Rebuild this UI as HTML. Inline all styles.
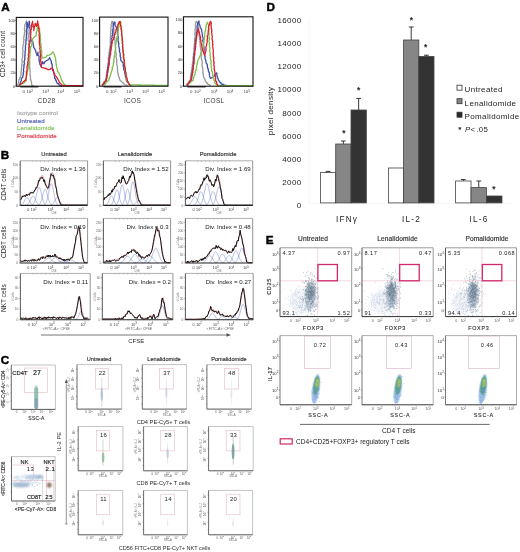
<!DOCTYPE html>
<html><head><meta charset="utf-8"><style>
html,body{margin:0;padding:0;background:#fff;}
svg{display:block;font-family:"Liberation Sans", sans-serif;filter:blur(0.3px);}
</style></head><body>
<svg width="520" height="552" viewBox="0 0 520 552">
<defs><filter id="b5" x="-50%" y="-50%" width="200%" height="200%"><feGaussianBlur stdDeviation="0.5"/></filter><filter id="b8" x="-50%" y="-50%" width="200%" height="200%"><feGaussianBlur stdDeviation="0.8"/></filter></defs>
<text x="1.30" y="10.60" font-size="11.7" font-weight="bold" stroke="#000" stroke-width="0.45">A</text>
<text x="14.90" y="21.80" font-size="4.0" text-anchor="end" fill="#333">100</text>
<line x1="15.10" y1="20.40" x2="16.30" y2="20.40" stroke="#333" stroke-width="0.6"/>
<text x="14.90" y="34.96" font-size="4.0" text-anchor="end" fill="#333">80</text>
<line x1="15.10" y1="33.56" x2="16.30" y2="33.56" stroke="#333" stroke-width="0.6"/>
<text x="14.90" y="48.12" font-size="4.0" text-anchor="end" fill="#333">60</text>
<line x1="15.10" y1="46.72" x2="16.30" y2="46.72" stroke="#333" stroke-width="0.6"/>
<text x="14.90" y="61.28" font-size="4.0" text-anchor="end" fill="#333">40</text>
<line x1="15.10" y1="59.88" x2="16.30" y2="59.88" stroke="#333" stroke-width="0.6"/>
<text x="14.90" y="74.44" font-size="4.0" text-anchor="end" fill="#333">20</text>
<line x1="15.10" y1="73.04" x2="16.30" y2="73.04" stroke="#333" stroke-width="0.6"/>
<text x="14.90" y="87.60" font-size="4.0" text-anchor="end" fill="#333">0</text>
<line x1="15.10" y1="86.20" x2="16.30" y2="86.20" stroke="#333" stroke-width="0.6"/>
<text x="23.64" y="93.40" font-size="4.4" text-anchor="middle" fill="#444">0</text>
<text x="29.64" y="93.40" font-size="4.4" text-anchor="middle" fill="#444">10<tspan dy="-1.76" font-size="3.30">2</tspan></text>
<text x="45.65" y="93.40" font-size="4.4" text-anchor="middle" fill="#444">10<tspan dy="-1.76" font-size="3.30">3</tspan></text>
<text x="60.99" y="93.40" font-size="4.4" text-anchor="middle" fill="#444">10<tspan dy="-1.76" font-size="3.30">4</tspan></text>
<text x="77.00" y="93.40" font-size="4.4" text-anchor="middle" fill="#444">10<tspan dy="-1.76" font-size="3.30">5</tspan></text>
<polyline points="17.66,85.51 17.81,84.27 18.33,83.28 18.53,82.63 18.48,81.83 18.74,80.84 19.05,79.61 19.58,79.36 19.65,77.89 20.29,77.62 20.53,76.21 21.10,74.97 21.30,74.27 20.87,73.21 21.05,72.93 21.03,71.82 21.42,70.72 21.43,69.54 21.16,68.76 21.66,68.06 21.48,67.29 21.64,66.13 21.95,65.58 21.64,64.57 21.90,63.93 22.12,62.50 22.36,61.44 22.04,61.11 21.92,59.96 21.91,59.22 22.49,58.23 22.64,57.09 22.58,56.44 22.57,55.41 22.83,54.94 22.64,53.79 22.42,52.92 22.90,52.27 23.09,50.73 22.86,50.17 22.67,49.08 22.85,47.86 22.85,47.55 22.98,46.17 23.24,45.83 23.10,44.55 23.50,44.04 23.77,43.12 23.47,41.81 23.61,41.33 24.10,39.76 23.63,38.93 23.75,38.26 24.08,37.15 23.75,36.39 24.08,35.62 24.57,34.83 24.34,33.86 24.53,32.45 24.77,32.20 24.83,31.31 24.57,30.05 24.44,29.36 24.49,27.95 24.67,27.13 24.84,26.13 24.68,25.31 24.83,24.60 25.12,24.20 25.87,22.68 25.96,21.99 26.37,20.93 26.91,22.60 26.83,23.03 26.76,23.57 27.13,24.61 27.67,25.40 27.30,27.00 27.84,27.17 27.90,27.98 27.93,29.76 28.21,30.42 27.84,31.05 27.82,32.33 28.12,33.26 28.02,33.68 28.40,35.29 28.48,36.05 28.50,36.91 28.13,37.63 28.26,38.11 28.08,39.26 28.29,40.55 28.82,41.25 28.85,42.66 28.91,43.02 28.44,43.82 28.47,44.72 28.81,46.27 29.01,46.81 28.92,48.02 28.57,48.81 29.19,49.84 29.13,50.49 28.77,51.69 28.93,52.62 29.42,53.18 29.06,54.60 29.34,54.82 28.97,55.71 29.57,57.20 29.09,58.12 29.72,58.87 29.34,59.68 29.23,60.10 29.87,61.57 29.61,62.73 29.60,63.58 29.93,63.89 29.58,64.87 29.62,66.03 29.69,66.79 29.65,68.13 29.86,68.63 30.07,69.93 30.01,70.85 30.12,71.40 30.19,71.85 30.18,72.90 29.93,74.35 30.10,74.96 30.54,75.94 30.31,76.81 30.52,77.95 30.26,78.66 30.55,79.39 31.11,80.58 31.16,81.80 31.60,82.50 31.58,83.54 31.71,84.70 31.89,85.51 32.91,85.79 33.92,86.06" fill="none" stroke="#9a9a9a" stroke-width="1.3" stroke-linejoin="round"/>
<polyline points="19.01,85.51 19.35,84.66 19.74,84.15 20.26,83.21 20.80,81.78 20.90,81.51 21.47,79.91 21.33,79.30 21.67,78.24 22.04,77.75 22.91,77.08 22.84,76.03 23.28,74.62 23.52,74.46 23.15,73.54 23.36,72.22 23.86,71.63 23.37,70.37 23.71,69.39 23.57,68.47 24.03,67.30 24.00,66.78 23.71,65.78 24.23,65.04 23.92,64.56 24.52,63.65 24.13,62.11 24.17,61.67 24.42,60.19 24.62,59.99 24.98,58.50 24.60,58.20 24.98,57.10 24.74,55.62 25.24,55.05 24.87,54.61 25.32,53.59 25.00,52.73 25.04,51.84 25.37,50.47 25.50,50.09 25.36,48.47 25.60,47.67 25.37,46.70 25.39,45.84 25.63,45.03 26.00,44.11 25.88,43.11 25.83,42.07 25.82,41.16 26.22,40.75 25.90,39.78 26.48,38.54 26.46,37.94 26.29,37.40 26.27,36.20 26.54,35.73 26.36,34.69 26.66,33.56 26.51,32.34 26.31,31.19 26.38,30.78 26.56,29.31 26.49,28.96 27.09,27.85 26.73,26.51 26.79,25.75 26.75,24.78 26.88,24.29 27.42,22.96 26.97,22.38 27.19,22.75 27.16,23.69 27.67,24.72 27.66,25.65 27.70,26.35 27.94,27.39 28.07,26.02 28.41,25.17 28.76,24.40 29.04,23.48 29.17,22.65 29.10,21.11 29.63,21.99 29.56,23.47 29.20,24.68 29.91,25.53 29.91,26.73 29.60,27.51 29.93,28.71 30.21,29.62 30.13,30.60 30.27,31.34 30.03,31.67 30.03,32.89 30.09,34.23 30.48,34.97 30.60,35.94 30.57,36.25 30.86,37.84 30.73,38.57 30.91,39.07 31.03,40.16 30.64,41.09 32.73,41.04 32.93,42.72 32.95,43.17 33.13,44.43 33.53,45.35 33.64,45.85 33.48,47.00 34.09,48.03 34.65,48.46 34.97,49.38 35.63,50.68 35.85,51.24 35.97,52.32 36.16,52.93 36.68,53.92 36.97,55.51 36.75,54.16 37.76,53.69 37.96,52.14 37.94,53.67 38.09,54.27 38.19,55.14 38.91,55.71 38.97,56.97 39.17,58.06 38.86,59.16 39.19,59.29 39.00,60.63 39.54,61.38 39.55,62.34 39.90,63.71 39.90,64.55 40.71,64.90 41.00,66.36 41.39,65.15 41.43,64.41 42.27,63.76 42.23,62.79 42.58,61.62 43.14,63.02 43.94,63.80 44.59,62.27 45.46,61.28 46.04,61.05 47.41,60.23 48.25,59.63 49.15,58.61 49.67,57.47 50.13,58.76 50.60,59.85 50.72,60.24 51.39,61.23 51.30,62.34 51.41,63.62 52.11,64.11 52.11,65.07 52.27,66.07 52.22,66.78 52.47,68.38 52.90,68.68 53.41,70.30 53.32,70.45 53.37,71.33 53.66,72.31 53.79,73.45 54.21,75.00 54.53,75.56 54.49,76.65 54.66,77.47 54.63,78.40 55.67,79.09 55.75,80.38 56.41,80.83 56.40,81.69 56.90,82.70 57.97,83.75 58.59,83.70 59.00,84.82 59.68,85.51 60.59,85.69 61.49,85.88 62.39,86.06" fill="none" stroke="#3d4fa8" stroke-width="1.3" stroke-linejoin="round"/>
<polyline points="19.01,85.51 19.86,84.99 20.38,84.66 21.83,83.93 22.46,82.99 23.17,83.30 24.32,82.72 25.27,81.66 25.52,81.05 25.96,80.63 26.42,79.78 26.37,78.92 26.40,77.84 26.26,77.15 26.56,76.38 27.01,74.93 26.81,73.99 27.32,73.50 27.11,72.04 27.56,71.61 27.63,70.39 27.93,69.30 27.88,68.81 28.50,68.09 28.61,67.04 28.32,65.94 28.94,65.43 28.59,63.90 28.84,63.56 28.90,62.27 29.18,61.95 28.99,60.22 29.18,59.65 29.53,58.53 29.73,58.09 29.63,56.69 30.07,55.87 30.08,54.87 29.77,54.43 29.94,53.68 30.19,52.07 30.12,51.36 30.54,50.91 30.29,49.49 30.54,49.05 30.69,47.25 30.84,46.59 31.63,46.07 31.71,45.20 32.06,43.63 31.74,43.21 32.33,41.43 32.48,40.78 32.48,39.77 32.79,38.55 33.32,37.94 34.24,36.82 35.27,36.20 35.86,36.06 36.35,34.79 35.98,33.91 36.38,33.39 36.42,31.97 37.08,30.75 36.91,30.53 37.33,28.91 36.99,28.01 37.78,27.27 37.83,26.92 37.71,25.44 38.31,24.83 38.16,25.95 38.54,26.59 38.66,28.06 39.64,28.99 39.76,29.39 39.37,30.76 39.98,32.14 39.68,32.47 39.82,33.64 40.27,34.32 40.29,35.78 40.41,36.76 40.36,37.32 40.26,38.31 40.69,39.01 40.39,40.57 40.53,40.91 40.45,42.27 40.73,43.57 41.20,44.50 40.84,44.61 40.80,45.90 41.30,46.78 41.04,47.67 41.39,48.83 41.55,49.90 41.57,50.17 41.77,51.25 41.65,52.24 41.85,53.00 41.58,53.97 41.59,55.46 41.96,55.88 41.91,57.40 42.06,57.64 43.29,58.02 44.44,57.52 45.09,57.48 46.36,56.87 46.71,55.85 47.67,55.30 49.17,55.19 50.04,54.54 50.90,54.15 51.38,53.98 52.54,52.34 52.97,51.77 53.38,52.58 54.01,53.47 54.31,54.74 54.82,55.31 54.60,56.34 55.29,57.13 55.26,58.07 55.82,59.30 55.44,59.87 55.81,61.24 56.12,61.79 55.92,63.30 56.23,63.90 56.29,65.47 56.43,66.09 56.60,66.92 57.09,68.41 56.88,68.66 57.54,69.49 57.44,70.95 58.14,71.71 58.53,72.59 58.98,72.77 59.12,74.04 60.01,75.29 60.07,75.95 60.61,76.88 60.79,77.72 61.39,79.33 61.44,79.97 62.34,81.23 62.32,81.30 63.25,82.90 63.33,82.90 64.05,84.03 64.94,84.70 65.56,85.05 66.46,85.51 67.38,85.53 68.30,85.56 69.22,85.58 70.14,85.60 71.05,85.62 71.97,85.65 72.89,85.67 73.81,85.69 74.73,85.72 75.65,85.74 76.57,85.76 77.49,85.79 78.41,85.81 79.32,85.83 80.24,85.85 81.16,85.88 82.08,85.90 83.00,85.92" fill="none" stroke="#7fc050" stroke-width="1.3" stroke-linejoin="round"/>
<polyline points="19.01,85.51 19.76,84.90 20.74,83.98 21.47,83.42 21.96,83.36 23.01,82.15 23.33,81.73 24.30,81.11 24.77,80.37 25.95,80.34 25.57,79.14 26.17,77.77 26.33,76.95 26.27,76.44 26.39,75.32 26.34,74.67 26.45,73.84 26.57,72.74 26.37,72.01 26.80,70.76 27.09,70.36 26.98,68.92 27.09,67.96 26.95,67.35 27.03,66.46 27.42,65.20 27.61,64.34 27.78,64.07 27.73,62.52 27.83,61.91 28.23,60.77 28.25,60.63 28.26,59.54 27.97,58.77 28.27,57.83 28.66,56.20 28.66,55.96 28.24,54.52 28.82,53.43 29.00,52.61 29.04,51.57 28.91,51.35 28.79,49.84 29.09,48.97 28.85,47.92 29.03,47.68 29.49,46.72 29.22,45.70 29.27,44.55 29.73,43.48 29.98,42.73 29.87,42.11 29.63,41.28 30.08,39.82 30.29,38.79 30.52,38.15 30.17,37.39 30.31,35.94 30.61,34.91 30.76,34.17 30.77,33.86 30.87,32.61 30.81,31.04 30.75,30.21 31.29,29.50 31.36,28.95 31.23,27.38 31.73,26.23 31.41,25.56 31.61,24.59 31.92,23.65 32.40,22.15 32.66,21.25 32.45,22.56 32.66,22.75 32.69,24.09 33.37,25.11 33.18,25.55 33.04,26.79 33.56,27.42 33.75,28.40 34.09,29.56 33.75,30.61 33.80,29.29 34.25,28.04 34.20,27.54 34.36,26.35 35.20,24.99 34.88,24.42 35.28,23.47 35.95,23.97 36.05,25.00 36.32,26.45 37.05,25.33 36.72,24.48 37.46,23.17 37.67,22.19 37.53,20.91 37.69,21.89 37.92,23.57 38.33,24.69 38.50,25.20 38.55,26.39 38.87,27.51 38.56,28.51 39.11,29.03 39.11,29.75 38.74,30.85 39.13,32.39 39.19,32.74 39.35,33.64 38.96,35.06 39.29,35.77 39.37,36.93 39.30,37.70 39.51,38.62 39.39,39.40 39.54,39.93 39.35,41.11 39.32,42.27 39.42,42.38 39.45,44.09 39.68,44.28 39.52,45.09 40.04,46.53 40.10,47.52 39.72,48.29 39.99,49.41 40.38,50.40 39.91,51.30 40.57,52.29 40.07,52.55 40.14,53.32 40.72,54.94 40.63,55.87 40.70,56.31 40.39,57.06 40.91,58.07 40.67,59.19 40.53,59.96 40.78,61.30 40.90,61.86 41.38,62.95 41.37,63.97 40.86,64.71 41.21,65.95 41.21,66.81 41.41,67.29 42.65,67.53 43.64,67.94 43.97,67.97 45.40,68.67 45.78,68.23 47.14,69.20 47.94,69.62 49.07,69.57 50.02,69.33 51.06,68.33 52.37,68.24 52.29,69.23 52.61,70.23 53.38,71.09 53.67,71.56 53.85,72.64 54.53,73.39 54.87,74.38 54.73,75.63 56.23,76.53 56.89,77.57 57.24,78.11 57.90,79.29 58.50,80.11 58.73,80.69 59.10,82.02 59.97,82.79 60.13,83.38 61.23,84.20 61.72,84.82 62.39,85.51 63.33,85.52 64.27,85.53 65.20,85.55 66.14,85.56 67.08,85.57 68.01,85.58 68.95,85.60 69.89,85.61 70.82,85.62 71.76,85.63 72.70,85.65 73.63,85.66 74.57,85.67 75.51,85.69 76.44,85.70 77.38,85.71 78.32,85.72 79.25,85.74 80.19,85.75 81.13,85.76 82.06,85.77 83.00,85.79" fill="none" stroke="#e0202a" stroke-width="1.3" stroke-linejoin="round"/>
<rect x="16.30" y="17.40" width="66.70" height="68.80" fill="none" stroke="#111" stroke-width="1.1"/>
<line x1="20.30" y1="86.80" x2="38.30" y2="86.80" stroke="#111" stroke-width="1.2"/>
<text x="46.50" y="102.84" font-size="6.5" text-anchor="middle" fill="#3a3a3a" letter-spacing="0.3">CD28</text>
<text x="98.20" y="21.50" font-size="4.0" text-anchor="end" fill="#333">100</text>
<line x1="98.40" y1="20.10" x2="99.60" y2="20.10" stroke="#333" stroke-width="0.6"/>
<text x="98.20" y="34.72" font-size="4.0" text-anchor="end" fill="#333">80</text>
<line x1="98.40" y1="33.32" x2="99.60" y2="33.32" stroke="#333" stroke-width="0.6"/>
<text x="98.20" y="47.94" font-size="4.0" text-anchor="end" fill="#333">60</text>
<line x1="98.40" y1="46.54" x2="99.60" y2="46.54" stroke="#333" stroke-width="0.6"/>
<text x="98.20" y="61.16" font-size="4.0" text-anchor="end" fill="#333">40</text>
<line x1="98.40" y1="59.76" x2="99.60" y2="59.76" stroke="#333" stroke-width="0.6"/>
<text x="98.20" y="74.38" font-size="4.0" text-anchor="end" fill="#333">20</text>
<line x1="98.40" y1="72.98" x2="99.60" y2="72.98" stroke="#333" stroke-width="0.6"/>
<text x="98.20" y="87.60" font-size="4.0" text-anchor="end" fill="#333">0</text>
<line x1="98.40" y1="86.20" x2="99.60" y2="86.20" stroke="#333" stroke-width="0.6"/>
<text x="107.12" y="93.40" font-size="4.4" text-anchor="middle" fill="#444">0</text>
<text x="113.28" y="93.40" font-size="4.4" text-anchor="middle" fill="#444">10<tspan dy="-1.76" font-size="3.30">2</tspan></text>
<text x="129.70" y="93.40" font-size="4.4" text-anchor="middle" fill="#444">10<tspan dy="-1.76" font-size="3.30">3</tspan></text>
<text x="145.43" y="93.40" font-size="4.4" text-anchor="middle" fill="#444">10<tspan dy="-1.76" font-size="3.30">4</tspan></text>
<text x="161.84" y="93.40" font-size="4.4" text-anchor="middle" fill="#444">10<tspan dy="-1.76" font-size="3.30">5</tspan></text>
<polyline points="102.05,85.51 102.63,84.73 102.95,83.91 104.07,82.92 104.16,82.19 105.10,81.90 105.30,80.49 105.95,79.86 106.24,78.80 106.21,77.91 106.76,77.48 106.25,76.77 106.35,75.33 107.07,74.79 107.00,73.55 106.72,72.82 106.76,71.51 107.06,70.44 107.16,70.21 107.47,69.03 107.53,68.08 107.29,67.29 107.57,66.50 108.02,65.30 107.89,64.67 107.89,63.29 108.20,62.96 108.33,61.88 108.49,60.95 108.44,59.83 108.31,59.07 108.26,57.97 108.84,57.31 108.84,55.98 108.79,55.25 109.07,54.25 109.24,53.75 109.03,52.54 109.59,51.34 109.52,50.91 109.34,49.56 109.56,48.81 110.24,47.61 109.79,46.70 110.24,45.87 110.26,44.86 110.52,43.82 110.27,43.27 110.18,42.09 110.35,41.23 110.20,40.49 110.41,38.72 110.39,38.09 110.26,37.17 110.58,36.49 110.58,35.16 110.53,34.65 111.08,33.52 110.62,32.83 110.78,31.37 110.64,30.94 111.16,29.87 110.96,28.87 110.84,28.30 110.97,27.07 111.34,26.29 111.14,24.88 111.33,23.59 111.66,22.65 111.81,21.42 112.84,21.41 112.99,22.38 112.80,23.89 113.11,24.49 113.24,25.74 113.44,26.91 113.72,27.69 114.00,29.05 113.48,29.94 114.16,30.82 113.72,31.78 114.15,31.96 113.81,33.72 114.35,34.00 114.05,34.82 114.24,36.31 114.41,36.66 114.89,38.15 114.46,39.16 114.86,39.97 114.99,40.99 115.17,41.86 114.83,42.64 115.14,43.60 115.15,44.64 115.31,45.00 115.16,45.81 115.41,46.65 115.47,47.64 115.56,48.88 115.67,50.12 115.38,51.02 115.77,51.68 115.99,52.85 115.86,53.39 116.35,53.99 116.20,55.41 115.84,56.31 116.38,57.51 116.21,58.47 116.42,58.94 116.79,59.45 116.75,60.90 116.58,62.03 116.69,62.59 116.89,63.78 116.76,64.39 117.00,65.41 117.37,66.09 117.46,67.11 117.33,67.91 117.42,69.46 117.61,70.21 117.48,70.70 117.55,71.85 118.01,72.95 117.82,73.81 118.64,74.56 118.28,75.26 118.47,76.08 119.34,77.37 119.38,78.45 119.79,79.20 119.81,80.13 120.54,80.79 121.21,81.13 121.88,82.04 122.63,82.41 123.13,83.04 124.45,84.51 125.17,84.83 126.07,85.15 126.98,85.47 127.88,85.79" fill="none" stroke="#9a9a9a" stroke-width="1.3" stroke-linejoin="round"/>
<polyline points="102.05,85.51 102.73,84.83 103.52,84.02 104.31,83.71 104.81,82.55 105.31,82.01 106.00,81.33 106.36,80.87 106.07,79.62 106.19,78.30 106.86,77.80 107.07,76.76 106.56,75.80 107.10,75.37 107.50,74.04 107.23,72.79 107.52,71.97 107.31,70.88 107.33,70.57 107.55,69.91 107.65,68.90 107.81,67.22 108.35,66.51 108.49,65.54 108.14,65.15 108.74,64.31 108.88,62.70 108.94,62.35 108.94,61.65 108.91,60.79 109.35,59.03 108.98,58.71 109.66,57.30 109.42,56.99 109.44,56.21 109.78,54.60 109.82,54.16 109.99,53.36 109.90,52.57 110.17,51.54 110.47,50.44 110.42,49.87 110.93,48.98 110.79,47.64 110.55,47.36 111.12,46.33 110.98,45.23 111.55,44.54 111.40,43.17 111.40,42.80 111.48,41.72 111.75,40.97 112.00,39.48 111.54,38.52 111.94,37.87 112.32,37.20 111.89,36.21 112.54,35.30 112.48,33.83 112.78,33.37 112.77,32.53 112.64,30.84 112.89,30.54 112.75,29.56 113.37,28.15 113.25,27.61 113.26,26.25 113.22,25.80 113.70,24.60 113.32,23.97 114.27,22.42 114.61,21.99 115.05,22.61 114.98,23.64 114.99,24.24 115.21,25.66 115.55,26.50 116.26,27.14 116.76,27.41 117.44,28.62 116.91,29.77 117.48,30.25 117.44,31.34 117.47,31.96 117.22,33.75 117.90,34.21 117.78,34.93 118.02,35.99 118.23,37.21 118.23,38.31 117.92,38.39 117.98,39.43 117.98,40.23 118.41,41.89 118.45,42.87 118.88,42.99 118.77,44.21 118.55,45.63 118.76,46.19 119.14,47.46 119.28,47.87 119.24,48.57 119.71,50.24 119.30,50.30 119.44,51.49 120.01,52.91 120.11,53.05 120.23,54.56 120.28,55.73 120.02,55.89 120.66,57.52 120.76,57.86 120.85,59.19 120.66,59.71 120.92,60.45 121.75,61.40 122.26,62.30 123.25,63.09 123.43,64.17 123.10,65.75 123.38,66.67 123.99,67.55 123.63,68.06 123.75,69.41 124.42,70.06 124.30,70.72 124.71,71.76 124.80,72.37 124.74,73.21 125.31,74.57 125.14,75.77 125.45,76.28 125.60,77.06 126.31,78.04 126.07,79.09 126.40,80.38 126.80,81.27 127.30,82.02 128.27,82.23 128.68,83.12 129.07,83.87 130.26,84.96 131.28,85.79" fill="none" stroke="#3d4fa8" stroke-width="1.3" stroke-linejoin="round"/>
<polyline points="103.41,85.51 104.09,84.83 104.67,84.58 105.80,83.84 105.85,82.58 107.08,81.68 107.65,81.21 108.50,80.27 109.06,79.87 108.90,78.65 109.68,78.21 109.53,77.21 110.34,76.10 110.41,75.11 110.44,74.77 111.11,73.33 110.97,72.32 111.64,71.77 111.61,70.55 112.05,70.04 112.40,68.97 112.17,67.54 112.75,66.88 112.95,65.61 113.21,64.90 113.44,64.41 113.40,62.68 113.89,62.14 114.00,60.99 113.66,60.53 113.92,58.97 114.06,58.40 113.94,57.37 114.38,56.40 114.29,55.62 114.92,54.80 114.70,53.69 114.88,52.77 114.77,51.96 115.51,50.71 115.32,49.82 115.45,48.45 115.86,47.72 115.42,46.69 115.58,46.42 115.54,44.85 116.13,44.03 115.76,43.47 116.27,42.49 116.47,41.20 116.78,40.77 116.40,39.25 116.90,38.61 116.95,37.29 117.23,36.32 117.56,35.99 117.44,34.75 117.97,33.47 118.14,33.25 117.95,31.87 118.38,31.04 118.18,30.50 118.56,29.04 118.30,28.12 118.55,27.79 118.92,26.81 119.04,25.84 118.62,24.63 119.37,24.08 119.55,22.25 120.91,22.20 120.91,22.88 120.91,24.23 120.70,24.85 121.44,26.37 121.49,27.20 121.47,28.37 121.60,28.56 121.50,29.72 121.60,30.68 121.58,32.21 121.70,32.56 121.71,33.67 122.08,34.49 121.70,35.76 121.64,36.65 122.30,37.52 121.89,38.41 122.15,39.07 121.93,39.99 122.12,41.18 122.19,41.97 122.12,43.19 122.72,44.18 122.60,45.16 122.42,46.15 122.67,46.95 122.85,47.82 122.71,48.55 122.72,49.73 122.90,50.74 122.71,51.47 123.38,52.31 123.26,53.45 123.16,54.81 123.25,55.54 123.25,55.82 123.84,57.07 123.36,57.94 123.72,59.17 123.58,59.62 124.26,61.00 123.79,61.55 124.02,62.77 124.29,63.85 124.53,64.46 124.56,65.58 124.67,66.26 124.84,67.38 125.08,67.78 125.20,68.58 125.28,70.02 125.24,71.28 125.44,71.70 125.74,73.03 125.77,73.50 125.81,74.49 126.20,75.32 126.16,76.54 126.35,77.31 126.82,78.76 126.82,79.38 126.79,80.23 126.96,81.46 127.94,81.88 128.86,82.95 129.48,84.27 129.92,84.83 130.83,84.84 131.74,84.86 132.64,84.88 133.55,84.89 134.46,84.91 135.36,84.92 136.27,84.94 137.18,84.96 138.08,84.97 138.99,84.99 139.90,85.01 140.80,85.02 141.71,85.04 142.62,85.06 143.52,85.07 144.43,85.09 145.34,85.10 146.24,85.12 147.15,85.14 148.06,85.15 148.96,85.17 149.87,85.19 150.78,85.20 151.68,85.22 152.59,85.24 153.50,85.25 154.40,85.27 155.31,85.28 156.21,85.30 157.12,85.32 158.03,85.33 158.93,85.35 159.84,85.37 160.75,85.38 161.65,85.40 162.56,85.41 163.47,85.43 164.37,85.45 165.28,85.46 166.19,85.48 167.09,85.50 168.00,85.51" fill="none" stroke="#7fc050" stroke-width="1.3" stroke-linejoin="round"/>
<polyline points="102.05,85.51 102.63,84.73 103.53,83.68 103.74,83.53 104.04,81.97 105.01,81.59 105.84,81.05 106.15,80.47 106.31,79.12 106.60,78.09 106.54,77.36 106.70,76.76 107.10,75.46 106.87,74.41 107.25,73.66 107.54,73.03 107.98,71.76 107.79,70.97 108.34,69.80 108.19,69.31 108.07,67.95 108.77,67.49 108.58,65.93 108.99,65.54 109.07,64.89 109.25,63.46 108.88,62.43 109.26,61.71 109.17,60.50 109.62,59.96 109.56,59.40 109.89,57.63 109.87,57.38 109.94,56.38 109.86,55.11 110.58,54.45 110.60,53.19 110.61,52.59 110.59,51.76 110.91,51.16 111.07,49.72 110.89,48.57 111.48,47.61 111.15,46.75 111.58,46.42 111.78,45.49 111.53,43.86 112.16,43.23 112.26,42.34 112.02,41.34 112.42,41.00 113.21,39.59 113.57,38.70 113.52,38.24 114.12,37.39 114.24,36.17 114.34,34.73 115.04,34.55 114.84,33.67 115.53,32.10 115.72,31.66 115.98,30.62 116.15,29.09 116.93,28.02 117.10,27.70 117.67,26.71 117.73,25.23 118.04,24.33 118.70,23.51 119.09,21.97 120.16,21.53 120.22,22.27 120.19,23.99 120.51,24.49 120.55,25.56 120.74,26.37 121.20,27.67 120.94,28.92 120.98,29.44 121.59,30.23 121.41,31.78 121.75,32.09 121.53,33.51 121.63,34.64 121.61,35.55 121.90,35.81 121.96,36.64 122.23,37.67 122.45,38.88 122.17,39.49 122.43,40.38 122.71,41.21 122.53,42.51 122.44,43.63 122.59,44.44 122.79,45.05 122.75,45.76 122.67,47.36 122.85,48.11 122.78,48.94 123.03,49.80 123.06,50.32 123.14,51.38 123.09,52.74 123.28,53.37 123.79,54.62 123.85,55.62 123.40,56.01 123.40,57.28 123.92,57.90 123.86,59.10 124.17,59.64 124.39,60.65 124.35,61.41 124.10,62.99 124.65,63.72 124.28,64.03 124.48,65.09 124.69,66.17 124.62,67.03 125.15,67.82 125.40,69.09 125.47,69.72 125.42,71.03 125.51,71.33 126.00,72.94 125.77,73.20 126.32,74.62 125.91,75.21 126.10,76.62 126.32,77.64 126.93,77.81 127.11,79.01 127.38,80.31 127.28,80.56 127.97,81.78 128.19,82.94 128.73,83.98 129.33,84.55 129.92,85.51" fill="none" stroke="#e0202a" stroke-width="1.3" stroke-linejoin="round"/>
<rect x="99.60" y="17.10" width="68.40" height="69.10" fill="none" stroke="#111" stroke-width="1.1"/>
<line x1="103.60" y1="86.80" x2="121.60" y2="86.80" stroke="#111" stroke-width="1.2"/>
<text x="132.50" y="102.84" font-size="6.5" text-anchor="middle" fill="#3a3a3a" letter-spacing="0.3">ICOS</text>
<text x="182.10" y="21.20" font-size="4.0" text-anchor="end" fill="#333">100</text>
<line x1="182.30" y1="19.80" x2="183.50" y2="19.80" stroke="#333" stroke-width="0.6"/>
<text x="182.10" y="34.48" font-size="4.0" text-anchor="end" fill="#333">80</text>
<line x1="182.30" y1="33.08" x2="183.50" y2="33.08" stroke="#333" stroke-width="0.6"/>
<text x="182.10" y="47.76" font-size="4.0" text-anchor="end" fill="#333">60</text>
<line x1="182.30" y1="46.36" x2="183.50" y2="46.36" stroke="#333" stroke-width="0.6"/>
<text x="182.10" y="61.04" font-size="4.0" text-anchor="end" fill="#333">40</text>
<line x1="182.30" y1="59.64" x2="183.50" y2="59.64" stroke="#333" stroke-width="0.6"/>
<text x="182.10" y="74.32" font-size="4.0" text-anchor="end" fill="#333">20</text>
<line x1="182.30" y1="72.92" x2="183.50" y2="72.92" stroke="#333" stroke-width="0.6"/>
<text x="182.10" y="87.60" font-size="4.0" text-anchor="end" fill="#333">0</text>
<line x1="182.30" y1="86.20" x2="183.50" y2="86.20" stroke="#333" stroke-width="0.6"/>
<text x="191.15" y="93.40" font-size="4.4" text-anchor="middle" fill="#444">0</text>
<text x="197.40" y="93.40" font-size="4.4" text-anchor="middle" fill="#444">10<tspan dy="-1.76" font-size="3.30">2</tspan></text>
<text x="214.08" y="93.40" font-size="4.4" text-anchor="middle" fill="#444">10<tspan dy="-1.76" font-size="3.30">3</tspan></text>
<text x="230.06" y="93.40" font-size="4.4" text-anchor="middle" fill="#444">10<tspan dy="-1.76" font-size="3.30">4</tspan></text>
<text x="246.75" y="93.40" font-size="4.4" text-anchor="middle" fill="#444">10<tspan dy="-1.76" font-size="3.30">5</tspan></text>
<polyline points="185.99,85.51 186.58,84.72 186.86,84.11 187.71,83.16 188.66,82.02 189.13,81.16 189.68,81.05 189.97,80.03 190.60,79.22 190.44,77.97 190.24,77.17 190.62,76.14 190.69,75.18 191.11,74.76 190.92,73.48 191.25,72.77 191.68,71.79 191.37,71.37 191.40,70.18 191.67,69.51 191.96,68.57 191.84,67.59 192.27,66.50 192.53,65.94 192.21,64.56 192.52,63.58 192.45,62.75 192.68,62.24 192.95,60.76 192.95,60.13 193.06,58.91 192.94,57.82 193.67,57.54 193.12,56.56 193.84,55.47 193.31,54.46 193.63,53.24 193.79,52.13 194.14,51.75 194.02,51.06 194.13,49.50 193.93,48.45 193.86,48.07 194.52,46.69 194.11,46.08 194.62,45.42 194.20,44.37 194.71,43.42 194.41,41.99 194.81,41.20 194.54,40.49 194.60,39.82 194.56,38.19 194.84,37.80 195.06,36.94 195.18,36.24 194.94,34.92 194.75,33.82 195.10,32.70 195.23,31.86 195.11,31.66 194.91,29.91 195.21,29.12 195.46,28.03 195.59,27.88 195.60,26.57 195.30,25.87 195.52,24.73 195.44,23.83 195.72,23.26 195.94,21.74 196.62,21.30 197.29,22.25 197.52,23.05 197.75,24.35 198.34,25.72 198.40,26.75 198.61,27.39 198.64,27.86 198.68,29.32 198.56,30.25 199.15,31.13 199.08,31.93 199.00,33.43 198.87,33.72 199.42,34.87 199.10,35.98 199.39,36.83 199.52,37.71 199.71,38.51 199.49,39.23 200.12,40.48 199.67,41.69 199.86,41.91 200.15,42.98 200.21,44.17 200.12,45.10 200.13,45.97 200.56,46.50 200.52,47.44 200.63,49.10 200.79,49.92 201.02,50.33 201.27,51.82 200.73,52.87 201.02,53.22 201.51,54.52 201.46,55.09 201.55,55.97 201.26,57.20 201.19,58.35 201.42,59.03 201.85,60.09 202.06,61.22 202.14,62.11 202.28,63.34 201.86,64.19 202.08,65.16 202.43,66.17 202.14,66.72 202.68,68.19 202.78,68.33 202.80,69.34 202.87,70.92 202.67,71.99 203.17,72.34 202.94,73.47 203.50,74.55 203.25,74.90 203.50,76.47 203.82,77.11 204.15,78.09 204.47,78.46 205.08,79.68 205.20,80.79 205.65,80.93 205.91,81.75 206.71,83.09 207.61,83.02 207.87,84.42 209.14,84.59 209.94,85.23 210.86,85.79" fill="none" stroke="#9a9a9a" stroke-width="1.3" stroke-linejoin="round"/>
<polyline points="187.37,85.51 187.96,84.72 188.54,83.63 189.39,83.05 190.00,82.46 190.03,81.41 190.72,81.13 191.58,79.58 191.39,78.95 191.70,78.22 191.74,77.10 191.58,76.38 191.91,74.96 192.10,74.91 191.91,73.23 192.45,72.43 192.28,71.71 192.37,70.86 192.66,70.28 193.09,68.53 192.89,68.28 193.21,67.36 193.14,66.32 193.06,65.08 193.46,64.69 193.66,63.60 193.32,62.75 193.73,61.60 193.76,60.54 193.80,59.67 193.56,58.69 193.85,58.36 194.06,56.88 194.00,55.84 194.17,54.83 194.02,54.59 194.42,53.31 194.60,52.28 194.41,51.17 194.59,50.48 194.98,49.80 195.21,48.71 195.29,48.03 194.79,46.77 195.23,46.60 195.17,45.51 195.31,44.69 195.15,43.44 195.82,42.36 195.46,41.23 195.48,40.55 195.95,39.61 195.83,38.69 196.06,38.39 196.18,36.89 196.33,36.68 196.33,34.98 196.57,34.80 196.35,33.21 196.36,32.65 196.96,31.83 197.11,30.52 196.80,30.09 197.15,28.86 197.28,27.88 196.96,27.02 197.07,26.30 197.39,25.26 197.68,24.12 197.71,22.98 198.51,22.45 199.04,20.95 199.00,22.52 199.02,22.92 199.12,23.93 199.77,24.85 200.02,26.11 200.29,27.18 200.76,28.16 201.26,28.79 201.55,29.71 201.73,31.15 201.97,31.73 202.17,33.31 202.14,33.67 202.39,35.25 202.31,35.40 202.64,36.90 202.94,37.56 203.19,38.35 203.12,39.15 202.70,40.11 202.81,41.36 203.25,41.99 203.61,43.08 203.15,43.83 203.66,45.42 203.34,45.53 203.87,46.65 204.10,47.80 203.95,48.58 204.16,49.60 203.96,50.97 203.95,51.78 204.06,52.67 204.43,53.83 204.33,54.52 204.72,55.81 205.23,56.51 204.86,57.14 205.03,58.27 205.14,59.03 205.86,60.46 205.88,61.81 206.17,62.46 206.47,63.76 207.20,64.14 207.35,65.56 207.25,66.04 207.62,67.47 207.63,68.20 208.16,68.91 208.38,70.22 208.35,71.14 208.69,71.96 209.27,72.35 209.50,74.00 209.33,74.04 209.55,75.93 209.82,76.91 210.27,77.79 210.58,78.31 212.02,77.55 212.82,77.61 213.77,76.66 214.65,74.97 214.82,74.74 215.96,73.37 216.66,72.85 216.89,73.77 216.88,75.60 217.36,76.54 217.50,77.22 217.86,78.20 218.23,79.47 218.56,80.55 219.15,81.02 219.74,82.06 220.82,82.62 221.02,83.86 222.18,84.34 222.79,84.18 223.98,84.82 225.02,85.17 226.06,85.51 226.98,85.69 227.90,85.88 228.82,86.06" fill="none" stroke="#3d4fa8" stroke-width="1.3" stroke-linejoin="round"/>
<polyline points="187.37,85.51 188.06,84.82 188.59,83.74 189.12,83.45 190.07,82.80 190.73,81.62 191.65,81.51 192.24,80.73 193.03,80.43 193.46,79.27 193.44,77.99 193.76,77.66 194.04,76.21 194.37,75.07 195.09,74.03 195.12,73.94 195.18,72.73 195.57,71.48 195.62,70.45 196.24,70.13 196.46,68.55 196.49,67.88 196.62,67.16 196.57,66.62 196.52,65.50 197.29,64.36 197.28,63.88 197.20,62.63 197.73,61.49 197.88,60.58 198.16,59.95 198.68,58.86 199.07,58.23 199.20,57.47 199.64,56.90 200.13,55.82 200.51,54.68 200.65,53.45 201.49,52.88 201.55,51.96 202.10,50.78 201.99,50.27 202.54,49.07 203.14,48.27 203.52,46.47 203.29,46.26 203.71,44.70 203.36,43.89 203.44,43.07 204.05,42.30 203.92,40.99 203.99,40.89 204.32,39.47 204.28,38.87 204.59,37.36 204.65,36.64 204.65,35.60 204.69,34.73 204.83,33.47 204.85,33.01 204.88,31.69 205.48,30.81 205.35,29.81 205.84,28.71 205.84,28.44 205.67,27.08 206.23,26.29 206.28,24.74 206.67,23.99 207.21,22.89 207.34,22.18 207.94,22.83 207.97,23.95 208.67,24.52 208.76,25.91 208.39,26.79 208.42,27.18 208.77,28.37 208.67,29.40 208.98,30.55 208.43,31.32 208.79,32.13 209.11,33.00 208.90,34.35 208.94,34.91 209.04,36.13 209.21,36.98 209.08,37.27 209.33,38.65 209.44,39.76 209.04,40.19 209.06,41.64 209.14,41.91 209.65,43.26 209.21,44.28 209.72,45.02 209.32,46.13 209.63,46.95 210.09,48.08 210.05,48.40 209.73,49.65 209.55,51.00 209.79,51.26 209.87,52.18 210.31,53.37 210.12,54.16 209.85,54.98 210.52,56.35 210.60,56.78 210.23,57.51 210.56,58.72 210.60,59.75 210.78,60.55 211.02,61.33 211.20,62.57 210.68,63.27 211.11,64.27 211.23,65.12 211.11,66.46 211.22,67.30 211.67,68.12 211.52,69.34 211.66,70.21 211.55,70.73 212.11,71.31 212.42,72.25 212.38,73.26 212.77,74.53 212.83,75.39 212.90,76.47 212.79,76.97 213.51,77.83 213.91,78.81 213.69,79.63 214.51,81.32 214.60,81.97 214.83,83.12 215.82,83.13 216.07,84.31 217.08,84.82 217.77,85.51 218.67,85.52 219.57,85.52 220.48,85.53 221.38,85.54 222.28,85.55 223.19,85.55 224.09,85.56 224.99,85.57 225.90,85.57 226.80,85.58 227.70,85.59 228.61,85.60 229.51,85.60 230.41,85.61 231.32,85.62 232.22,85.62 233.12,85.63 234.03,85.64 234.93,85.64 235.83,85.65 236.74,85.66 237.64,85.67 238.55,85.67 239.45,85.68 240.35,85.69 241.26,85.69 242.16,85.70 243.06,85.71 243.97,85.72 244.87,85.72 245.77,85.73 246.68,85.74 247.58,85.74 248.48,85.75 249.39,85.76 250.29,85.76 251.19,85.77 252.10,85.78 253.00,85.79" fill="none" stroke="#7fc050" stroke-width="1.3" stroke-linejoin="round"/>
<polyline points="187.37,85.51 187.57,84.95 188.26,83.54 188.98,82.76 189.48,81.75 190.25,81.04 190.72,80.02 191.21,79.91 191.44,78.19 191.57,77.82 191.60,76.81 191.64,75.82 192.23,74.87 192.33,73.67 192.57,72.75 192.78,72.62 192.93,71.28 192.61,70.20 193.07,69.41 193.33,68.13 193.16,67.90 193.38,66.69 193.16,65.41 193.43,65.17 193.93,63.65 194.08,62.55 193.95,62.48 193.87,61.54 194.19,59.81 194.06,59.25 194.10,58.59 194.15,57.71 194.33,56.15 194.61,55.25 194.71,54.96 194.84,53.74 194.54,52.87 194.69,52.07 194.81,51.09 195.06,49.98 195.38,48.87 195.13,48.66 195.34,47.65 195.82,46.40 195.41,45.13 196.04,44.23 195.89,43.69 195.74,42.71 195.88,41.85 196.24,40.78 196.14,39.89 196.26,38.72 196.40,38.47 196.70,37.57 196.47,36.70 196.92,35.64 197.09,34.63 197.04,33.77 197.17,32.41 197.27,31.60 197.79,30.59 198.24,29.49 198.20,28.70 198.45,30.23 198.78,30.62 198.69,32.14 199.45,32.67 199.43,34.17 199.79,34.78 200.02,35.81 200.33,36.32 200.57,37.60 200.43,38.23 200.47,39.73 200.93,40.13 200.85,41.04 200.90,42.03 201.14,43.63 201.76,44.38 201.56,45.04 201.92,46.33 202.05,47.00 201.90,47.91 202.58,48.98 202.28,49.83 202.69,50.25 203.35,51.63 203.43,52.07 203.95,53.71 204.46,54.46 204.87,55.43 204.90,54.11 205.26,53.44 205.49,52.02 205.75,51.24 205.94,49.88 206.15,49.50 205.85,48.56 205.97,47.02 206.27,46.09 206.43,45.73 206.70,44.58 206.64,43.68 207.06,42.63 207.30,41.79 207.06,40.16 207.37,39.87 207.29,38.68 207.75,37.94 207.29,36.75 207.41,35.49 208.08,34.85 208.05,33.96 207.98,32.82 208.11,32.47 208.41,31.05 208.15,30.12 208.70,29.35 208.78,28.76 208.52,27.73 208.66,26.97 208.96,25.58 209.70,24.78 209.38,24.36 209.85,23.48 209.90,22.24 210.49,21.36 210.99,22.11 211.37,23.12 211.22,23.92 211.05,25.72 211.31,26.55 211.24,27.08 211.20,28.21 211.80,29.13 211.53,30.45 211.96,31.16 211.46,32.07 211.79,33.32 211.80,34.00 212.06,34.69 212.05,35.91 212.39,36.70 212.08,38.08 211.93,38.90 212.43,39.57 212.33,40.67 212.70,41.57 212.66,41.86 212.42,42.87 212.93,44.47 212.42,45.12 212.78,45.55 212.72,47.10 212.95,47.60 213.10,48.53 213.01,49.57 213.37,50.69 213.31,51.64 213.08,52.81 213.37,53.49 213.13,53.93 213.40,55.45 213.61,55.94 213.22,57.01 213.80,57.61 213.77,58.54 213.54,59.35 213.59,60.57 214.12,62.01 213.64,62.34 214.24,63.16 213.86,64.30 213.78,65.06 214.04,66.09 214.51,66.90 214.04,68.40 214.28,69.26 214.52,70.12 214.41,70.48 214.84,71.69 214.81,72.79 215.06,73.35 214.91,74.85 215.14,75.20 215.32,76.10 215.54,76.82 215.69,78.21 215.48,79.47 215.53,79.76 215.74,80.95 216.56,81.99 216.67,83.03 216.80,83.50 217.52,85.01 217.77,85.51" fill="none" stroke="#e0202a" stroke-width="1.3" stroke-linejoin="round"/>
<rect x="183.50" y="16.80" width="69.50" height="69.40" fill="none" stroke="#111" stroke-width="1.1"/>
<line x1="187.50" y1="86.80" x2="205.50" y2="86.80" stroke="#111" stroke-width="1.2"/>
<text x="214.00" y="102.84" font-size="6.5" text-anchor="middle" fill="#3a3a3a" letter-spacing="0.3">ICOSL</text>
<text x="5.20" y="54.00" font-size="6.3" text-anchor="middle" fill="#1a1a1a" letter-spacing="0.1" transform="rotate(-90 5.20 54.00)">CD3+ cell count</text>
<text x="17.00" y="115.23" font-size="6.2" fill="#a8a8a8" stroke="#a8a8a8" stroke-width="0.17" letter-spacing="0.05">Isotype control</text>
<text x="17.00" y="122.73" font-size="6.2" fill="#5262b4" stroke="#5262b4" stroke-width="0.17" letter-spacing="0.05">Untreated</text>
<text x="17.00" y="130.23" font-size="6.2" fill="#8cc462" stroke="#8cc462" stroke-width="0.17" letter-spacing="0.05">Lenalidomide</text>
<text x="17.00" y="137.73" font-size="6.2" fill="#e0404a" stroke="#e0404a" stroke-width="0.17" letter-spacing="0.05">Pomalidomide</text>
<text x="0.80" y="159.35" font-size="11.7" font-weight="bold" stroke="#000" stroke-width="0.45">B</text>
<text x="54.00" y="155.89" font-size="5.8" text-anchor="middle" fill="#333" stroke="#333" stroke-width="0.16">Untreated</text>
<text x="135.00" y="155.89" font-size="5.8" text-anchor="middle" fill="#333" stroke="#333" stroke-width="0.16">Lenalidomide</text>
<text x="218.00" y="155.89" font-size="5.8" text-anchor="middle" fill="#333" stroke="#333" stroke-width="0.16">Pomalidomide</text>
<text x="18.20" y="165.90" font-size="3.3" text-anchor="end" fill="#666">150</text>
<line x1="19.20" y1="164.80" x2="20.20" y2="164.80" stroke="#444" stroke-width="0.5"/>
<text x="18.20" y="179.43" font-size="3.3" text-anchor="end" fill="#666">100</text>
<line x1="19.20" y1="178.33" x2="20.20" y2="178.33" stroke="#444" stroke-width="0.5"/>
<text x="18.20" y="192.97" font-size="3.3" text-anchor="end" fill="#666">50</text>
<line x1="19.20" y1="191.87" x2="20.20" y2="191.87" stroke="#444" stroke-width="0.5"/>
<text x="18.20" y="206.50" font-size="3.3" text-anchor="end" fill="#666">0</text>
<line x1="19.20" y1="205.40" x2="20.20" y2="205.40" stroke="#444" stroke-width="0.5"/>
<text x="14.00" y="183.10" font-size="2.8" text-anchor="middle" fill="#777" transform="rotate(-90 14.00 183.10)"># Cells</text>
<line x1="32.33" y1="160.80" x2="32.33" y2="162.10" stroke="#999" stroke-width="0.5"/>
<line x1="36.38" y1="160.80" x2="36.38" y2="162.10" stroke="#999" stroke-width="0.5"/>
<line x1="40.42" y1="160.80" x2="40.42" y2="162.10" stroke="#999" stroke-width="0.5"/>
<line x1="44.46" y1="160.80" x2="44.46" y2="162.10" stroke="#999" stroke-width="0.5"/>
<line x1="48.51" y1="160.80" x2="48.51" y2="162.10" stroke="#999" stroke-width="0.5"/>
<line x1="52.55" y1="160.80" x2="52.55" y2="162.10" stroke="#999" stroke-width="0.5"/>
<line x1="56.60" y1="160.80" x2="56.60" y2="162.10" stroke="#999" stroke-width="0.5"/>
<line x1="60.64" y1="160.80" x2="60.64" y2="162.10" stroke="#999" stroke-width="0.5"/>
<line x1="64.68" y1="160.80" x2="64.68" y2="162.10" stroke="#999" stroke-width="0.5"/>
<text x="28.29" y="211.40" font-size="3.7" text-anchor="middle" fill="#333">0</text>
<text x="33.68" y="211.40" font-size="3.7" text-anchor="middle" fill="#333">10<tspan dy="-1.48" font-size="2.78">2</tspan></text>
<text x="50.53" y="211.40" font-size="3.7" text-anchor="middle" fill="#333">10<tspan dy="-1.48" font-size="2.78">3</tspan></text>
<text x="66.03" y="211.40" font-size="3.7" text-anchor="middle" fill="#333">10<tspan dy="-1.48" font-size="2.78">4</tspan></text>
<text x="80.86" y="211.40" font-size="3.7" text-anchor="middle" fill="#333">10<tspan dy="-1.48" font-size="2.78">5</tspan></text>
<text x="53.90" y="214.00" font-size="2.6" text-anchor="middle" fill="#777">CSE</text>
<polyline points="20.46,205.14 20.78,205.04 21.10,204.91 21.43,204.74 21.75,204.53 22.08,204.26 22.40,203.95 22.73,203.58 23.05,203.15 23.37,202.66 23.70,202.13 24.02,201.56 24.35,200.97 24.67,200.37 24.99,199.79 25.32,199.24 25.64,198.76 25.97,198.35 26.29,198.05 26.62,197.86 26.94,197.80 27.26,197.86 27.59,198.05 27.91,198.35 28.24,198.76 28.56,199.24 28.89,199.79 29.21,200.37 29.53,200.97 29.86,201.56 30.18,202.13 30.51,202.66 30.83,203.15 31.15,203.58 31.48,203.95 31.80,204.26 32.13,204.53 32.45,204.74 32.78,204.91 33.10,205.04 33.42,205.14" fill="none" stroke="#6070c0" stroke-width="0.45" stroke-linejoin="round"/>
<polyline points="26.52,205.08 26.85,204.95 27.17,204.79 27.49,204.58 27.82,204.31 28.14,203.99 28.47,203.59 28.79,203.13 29.12,202.60 29.44,202.00 29.76,201.33 30.09,200.63 30.41,199.89 30.74,199.14 31.06,198.42 31.39,197.74 31.71,197.13 32.03,196.63 32.36,196.25 32.68,196.02 33.01,195.94 33.33,196.02 33.65,196.25 33.98,196.63 34.30,197.13 34.63,197.74 34.95,198.42 35.28,199.14 35.60,199.89 35.92,200.63 36.25,201.33 36.57,202.00 36.90,202.60 37.22,203.13 37.54,203.59 37.87,203.99 38.19,204.31 38.52,204.58 38.84,204.79 39.17,204.95 39.49,205.08" fill="none" stroke="#6070c0" stroke-width="0.45" stroke-linejoin="round"/>
<polyline points="32.59,204.79 32.91,204.55 33.24,204.24 33.56,203.84 33.88,203.34 34.21,202.72 34.53,201.98 34.86,201.10 35.18,200.09 35.51,198.95 35.83,197.69 36.15,196.35 36.48,194.95 36.80,193.54 37.13,192.16 37.45,190.88 37.78,189.73 38.10,188.77 38.42,188.06 38.75,187.61 39.07,187.46 39.40,187.61 39.72,188.06 40.04,188.77 40.37,189.73 40.69,190.88 41.02,192.16 41.34,193.54 41.67,194.95 41.99,196.35 42.31,197.69 42.64,198.95 42.96,200.09 43.29,201.10 43.61,201.98 43.93,202.72 44.26,203.34 44.58,203.84 44.91,204.24 45.23,204.55 45.56,204.79" fill="none" stroke="#6070c0" stroke-width="0.45" stroke-linejoin="round"/>
<polyline points="38.65,204.85 38.98,204.64 39.30,204.36 39.63,204.00 39.95,203.55 40.28,203.00 40.60,202.33 40.92,201.55 41.25,200.64 41.57,199.62 41.90,198.50 42.22,197.29 42.54,196.04 42.87,194.78 43.19,193.54 43.52,192.39 43.84,191.36 44.17,190.51 44.49,189.86 44.81,189.46 45.14,189.33 45.46,189.46 45.79,189.86 46.11,190.51 46.43,191.36 46.76,192.39 47.08,193.54 47.41,194.78 47.73,196.04 48.06,197.29 48.38,198.50 48.70,199.62 49.03,200.64 49.35,201.55 49.68,202.33 50.00,203.00 50.33,203.55 50.65,204.00 50.97,204.36 51.30,204.64 51.62,204.85" fill="none" stroke="#6070c0" stroke-width="0.45" stroke-linejoin="round"/>
<polyline points="44.72,204.66 45.04,204.37 45.37,203.99 45.69,203.51 46.02,202.90 46.34,202.15 46.67,201.25 46.99,200.18 47.31,198.96 47.64,197.57 47.96,196.05 48.29,194.43 48.61,192.73 48.93,191.02 49.26,189.35 49.58,187.79 49.91,186.39 50.23,185.24 50.56,184.37 50.88,183.83 51.20,183.64 51.53,183.83 51.85,184.37 52.18,185.24 52.50,186.39 52.82,187.79 53.15,189.35 53.47,191.02 53.80,192.73 54.12,194.43 54.45,196.05 54.77,197.57 55.09,198.96 55.42,200.18 55.74,201.25 56.07,202.15 56.39,202.90 56.72,203.51 57.04,203.99 57.36,204.37 57.69,204.66" fill="none" stroke="#6070c0" stroke-width="0.45" stroke-linejoin="round"/>
<polyline points="50.79,205.14 51.11,205.04 51.43,204.91 51.76,204.74 52.08,204.53 52.41,204.26 52.73,203.95 53.06,203.58 53.38,203.15 53.70,202.66 54.03,202.13 54.35,201.56 54.68,200.97 55.00,200.37 55.32,199.79 55.65,199.24 55.97,198.75 56.30,198.35 56.62,198.04 56.95,197.86 57.27,197.79 57.59,197.86 57.92,198.04 58.24,198.35 58.57,198.75 58.89,199.24 59.22,199.79 59.54,200.37 59.86,200.97 60.19,201.56 60.51,202.13 60.84,202.66 61.16,203.15 61.48,203.58 61.81,203.95 62.13,204.26 62.46,204.53 62.78,204.74 63.11,204.91 63.43,205.04 63.75,205.14" fill="none" stroke="#6070c0" stroke-width="0.45" stroke-linejoin="round"/>
<polyline points="56.18,205.39 56.50,205.39 56.83,205.39 57.15,205.39 57.47,205.38 57.80,205.37 58.12,205.37 58.45,205.36 58.77,205.35 59.10,205.34 59.42,205.33 59.74,205.31 60.07,205.30 60.39,205.29 60.72,205.27 61.04,205.26 61.37,205.25 61.69,205.24 62.01,205.23 62.34,205.23 62.66,205.23 62.99,205.23 63.31,205.23 63.63,205.24 63.96,205.25 64.28,205.26 64.61,205.27 64.93,205.29 65.26,205.30 65.58,205.31 65.90,205.33 66.23,205.34 66.55,205.35 66.88,205.36 67.20,205.37 67.52,205.37 67.85,205.38 68.17,205.39 68.50,205.39 68.82,205.39 69.15,205.39" fill="none" stroke="#6070c0" stroke-width="0.45" stroke-linejoin="round"/>
<polyline points="20.79,199.56 22.98,195.19 25.17,195.92 27.36,194.46 29.55,193.73 31.73,193.00 33.92,191.55 36.11,188.63 37.57,184.99 39.76,179.16 41.22,176.24 42.38,175.51 43.40,177.70 44.86,181.34 46.32,184.99 47.78,189.36 49.24,184.99 50.70,177.70 52.16,172.60 53.62,174.78 55.08,180.61 56.53,189.36 57.99,196.65 59.45,201.02 61.64,204.66 64.56,205.10 87.90,205.10" fill="none" stroke="#e09090" stroke-width="0.9" stroke-linejoin="round"/>
<polyline points="20.49,200.20 21.09,199.18 21.69,198.23 22.29,195.96 22.89,196.87 23.49,196.48 24.09,195.49 24.69,195.84 25.29,196.84 25.89,195.09 26.49,194.19 27.09,195.89 27.69,194.65 28.29,194.41 28.89,194.68 29.49,195.21 30.09,192.59 30.69,193.04 31.29,191.96 31.89,192.72 32.49,192.60 33.09,193.37 33.69,192.32 34.29,191.22 34.89,189.81 35.49,189.62 36.09,187.39 36.69,188.06 37.29,186.38 37.89,185.04 38.49,180.52 39.09,181.20 39.69,180.17 40.29,177.79 40.89,178.53 41.49,178.14 42.09,177.04 42.69,178.67 43.29,179.17 43.89,181.69 44.49,179.84 45.09,183.83 45.69,185.30 46.29,186.54 46.89,187.05 47.49,188.08 48.09,188.22 48.69,187.31 49.29,182.58 49.89,179.24 50.49,176.36 51.09,173.55 51.69,174.39 52.29,176.01 52.89,175.99 53.49,175.09 54.09,179.12 54.69,178.66 55.29,185.41 55.89,186.95 56.49,189.23 57.09,194.35 57.69,195.91 58.29,198.14 58.89,199.44 59.49,201.76 60.09,203.01 60.69,204.54 61.29,204.88 61.89,205.05 62.49,205.10 63.09,205.10 63.69,205.10 64.29,205.10 64.89,205.10 65.49,205.10 66.09,205.10 66.69,205.10 67.29,205.10 67.89,205.10 68.49,205.10 69.09,205.10 69.69,205.10 70.29,205.10 70.89,205.10 71.49,205.10 72.09,205.10 72.69,205.10 73.29,205.10 73.89,205.10 74.49,205.10 75.09,205.10 75.69,205.10 76.29,205.10 76.89,205.10 77.49,205.10 78.09,205.10 78.69,205.10 79.29,205.10 79.89,205.10 80.49,205.10 81.09,205.10 81.69,205.10 82.29,205.10 82.89,205.10 83.49,205.10 84.09,205.10 84.69,205.10 85.29,205.10 85.89,205.10 86.49,205.10 87.09,205.10" fill="none" stroke="#0a0a0a" stroke-width="0.95" stroke-linejoin="round"/>
<line x1="20.20" y1="160.80" x2="87.60" y2="160.80" stroke="#999" stroke-width="0.8"/>
<line x1="87.60" y1="160.80" x2="87.60" y2="205.40" stroke="#777" stroke-width="0.8"/>
<line x1="20.20" y1="160.80" x2="20.20" y2="205.40" stroke="#444" stroke-width="0.9"/>
<line x1="20.20" y1="205.40" x2="87.60" y2="205.40" stroke="#222" stroke-width="1.1"/>
<text x="85.60" y="171.30" font-size="6.1" text-anchor="end" fill="#1a1a1a">Div. Index = 1.36</text>
<text x="101.40" y="165.90" font-size="3.3" text-anchor="end" fill="#666">150</text>
<line x1="102.40" y1="164.80" x2="103.40" y2="164.80" stroke="#444" stroke-width="0.5"/>
<text x="101.40" y="179.43" font-size="3.3" text-anchor="end" fill="#666">100</text>
<line x1="102.40" y1="178.33" x2="103.40" y2="178.33" stroke="#444" stroke-width="0.5"/>
<text x="101.40" y="192.97" font-size="3.3" text-anchor="end" fill="#666">50</text>
<line x1="102.40" y1="191.87" x2="103.40" y2="191.87" stroke="#444" stroke-width="0.5"/>
<text x="101.40" y="206.50" font-size="3.3" text-anchor="end" fill="#666">0</text>
<line x1="102.40" y1="205.40" x2="103.40" y2="205.40" stroke="#444" stroke-width="0.5"/>
<text x="97.20" y="183.10" font-size="2.8" text-anchor="middle" fill="#777" transform="rotate(-90 97.20 183.10)"># Cells</text>
<line x1="115.50" y1="160.80" x2="115.50" y2="162.10" stroke="#999" stroke-width="0.5"/>
<line x1="119.53" y1="160.80" x2="119.53" y2="162.10" stroke="#999" stroke-width="0.5"/>
<line x1="123.56" y1="160.80" x2="123.56" y2="162.10" stroke="#999" stroke-width="0.5"/>
<line x1="127.59" y1="160.80" x2="127.59" y2="162.10" stroke="#999" stroke-width="0.5"/>
<line x1="131.62" y1="160.80" x2="131.62" y2="162.10" stroke="#999" stroke-width="0.5"/>
<line x1="135.66" y1="160.80" x2="135.66" y2="162.10" stroke="#999" stroke-width="0.5"/>
<line x1="139.69" y1="160.80" x2="139.69" y2="162.10" stroke="#999" stroke-width="0.5"/>
<line x1="143.72" y1="160.80" x2="143.72" y2="162.10" stroke="#999" stroke-width="0.5"/>
<line x1="147.75" y1="160.80" x2="147.75" y2="162.10" stroke="#999" stroke-width="0.5"/>
<text x="111.46" y="211.40" font-size="3.7" text-anchor="middle" fill="#333">0</text>
<text x="116.84" y="211.40" font-size="3.7" text-anchor="middle" fill="#333">10<tspan dy="-1.48" font-size="2.78">2</tspan></text>
<text x="133.64" y="211.40" font-size="3.7" text-anchor="middle" fill="#333">10<tspan dy="-1.48" font-size="2.78">3</tspan></text>
<text x="149.10" y="211.40" font-size="3.7" text-anchor="middle" fill="#333">10<tspan dy="-1.48" font-size="2.78">4</tspan></text>
<text x="163.88" y="211.40" font-size="3.7" text-anchor="middle" fill="#333">10<tspan dy="-1.48" font-size="2.78">5</tspan></text>
<text x="137.00" y="214.00" font-size="2.6" text-anchor="middle" fill="#777">CSE</text>
<polyline points="105.70,205.08 105.99,204.95 106.27,204.79 106.56,204.57 106.85,204.31 107.14,203.98 107.43,203.59 107.72,203.12 108.00,202.59 108.29,201.98 108.58,201.32 108.87,200.61 109.16,199.87 109.45,199.12 109.73,198.39 110.02,197.71 110.31,197.10 110.60,196.60 110.89,196.22 111.18,195.98 111.46,195.90 111.75,195.98 112.04,196.22 112.33,196.60 112.62,197.10 112.91,197.71 113.19,198.39 113.48,199.12 113.77,199.87 114.06,200.61 114.35,201.32 114.64,201.98 114.92,202.59 115.21,203.12 115.50,203.59 115.79,203.98 116.08,204.31 116.36,204.57 116.65,204.79 116.94,204.95 117.23,205.08" fill="none" stroke="#6070c0" stroke-width="0.45" stroke-linejoin="round"/>
<polyline points="111.07,204.87 111.36,204.66 111.65,204.38 111.94,204.04 112.23,203.60 112.52,203.06 112.80,202.41 113.09,201.64 113.38,200.75 113.67,199.76 113.96,198.66 114.25,197.49 114.53,196.27 114.82,195.03 115.11,193.83 115.40,192.70 115.69,191.70 115.98,190.86 116.26,190.23 116.55,189.84 116.84,189.71 117.13,189.84 117.42,190.23 117.70,190.86 117.99,191.70 118.28,192.70 118.57,193.83 118.86,195.03 119.15,196.27 119.43,197.49 119.72,198.66 120.01,199.76 120.30,200.75 120.59,201.64 120.88,202.41 121.16,203.06 121.45,203.60 121.74,204.04 122.03,204.38 122.32,204.66 122.61,204.87" fill="none" stroke="#6070c0" stroke-width="0.45" stroke-linejoin="round"/>
<polyline points="116.45,204.70 116.74,204.43 117.03,204.07 117.32,203.61 117.60,203.04 117.89,202.33 118.18,201.48 118.47,200.47 118.76,199.31 119.04,198.01 119.33,196.57 119.62,195.03 119.91,193.43 120.20,191.82 120.49,190.24 120.77,188.76 121.06,187.45 121.35,186.35 121.64,185.53 121.93,185.02 122.22,184.85 122.50,185.02 122.79,185.53 123.08,186.35 123.37,187.45 123.66,188.76 123.95,190.24 124.23,191.82 124.52,193.43 124.81,195.03 125.10,196.57 125.39,198.01 125.68,199.31 125.96,200.47 126.25,201.48 126.54,202.33 126.83,203.04 127.12,203.61 127.41,204.07 127.69,204.43 127.98,204.70" fill="none" stroke="#6070c0" stroke-width="0.45" stroke-linejoin="round"/>
<polyline points="121.83,204.85 122.11,204.64 122.40,204.35 122.69,204.00 122.98,203.54 123.27,202.99 123.56,202.32 123.84,201.53 124.13,200.62 124.42,199.59 124.71,198.46 125.00,197.25 125.29,196.00 125.57,194.72 125.86,193.49 126.15,192.32 126.44,191.29 126.73,190.43 127.02,189.79 127.30,189.39 127.59,189.25 127.88,189.39 128.17,189.79 128.46,190.43 128.75,191.29 129.03,192.32 129.32,193.49 129.61,194.72 129.90,196.00 130.19,197.25 130.47,198.46 130.76,199.59 131.05,200.62 131.34,201.53 131.63,202.32 131.92,202.99 132.20,203.54 132.49,204.00 132.78,204.35 133.07,204.64 133.36,204.85" fill="none" stroke="#6070c0" stroke-width="0.45" stroke-linejoin="round"/>
<polyline points="127.20,204.60 127.49,204.29 127.78,203.88 128.07,203.36 128.36,202.70 128.64,201.90 128.93,200.92 129.22,199.78 129.51,198.45 129.80,196.96 130.09,195.32 130.37,193.57 130.66,191.74 130.95,189.90 131.24,188.10 131.53,186.41 131.81,184.91 132.10,183.66 132.39,182.72 132.68,182.14 132.97,181.94 133.26,182.14 133.54,182.72 133.83,183.66 134.12,184.91 134.41,186.41 134.70,188.10 134.99,189.90 135.27,191.74 135.56,193.57 135.85,195.32 136.14,196.96 136.43,198.45 136.72,199.78 137.00,200.92 137.29,201.90 137.58,202.70 137.87,203.36 138.16,203.88 138.45,204.29 138.73,204.60" fill="none" stroke="#6070c0" stroke-width="0.45" stroke-linejoin="round"/>
<polyline points="132.58,205.24 132.87,205.18 133.15,205.10 133.44,205.00 133.73,204.87 134.02,204.71 134.31,204.52 134.60,204.29 134.88,204.03 135.17,203.73 135.46,203.41 135.75,203.06 136.04,202.70 136.33,202.34 136.61,201.98 136.90,201.65 137.19,201.35 137.48,201.11 137.77,200.92 138.06,200.81 138.34,200.77 138.63,200.81 138.92,200.92 139.21,201.11 139.50,201.35 139.79,201.65 140.07,201.98 140.36,202.34 140.65,202.70 140.94,203.06 141.23,203.41 141.52,203.73 141.80,204.03 142.09,204.29 142.38,204.52 142.67,204.71 142.96,204.87 143.24,205.00 143.53,205.10 143.82,205.18 144.11,205.24" fill="none" stroke="#6070c0" stroke-width="0.45" stroke-linejoin="round"/>
<polyline points="136.61,205.40 136.90,205.39 137.19,205.39 137.48,205.39 137.76,205.39 138.05,205.38 138.34,205.38 138.63,205.37 138.92,205.37 139.20,205.36 139.49,205.35 139.78,205.34 140.07,205.33 140.36,205.33 140.65,205.32 140.93,205.31 141.22,205.30 141.51,205.30 141.80,205.29 142.09,205.29 142.38,205.29 142.66,205.29 142.95,205.29 143.24,205.30 143.53,205.30 143.82,205.31 144.11,205.32 144.39,205.33 144.68,205.33 144.97,205.34 145.26,205.35 145.55,205.36 145.84,205.37 146.12,205.37 146.41,205.38 146.70,205.38 146.99,205.39 147.28,205.39 147.57,205.39 147.85,205.39 148.14,205.40" fill="none" stroke="#6070c0" stroke-width="0.45" stroke-linejoin="round"/>
<polyline points="103.70,199.25 106.62,197.06 109.54,194.13 112.47,191.21 114.66,188.28 116.12,185.36 117.58,182.43 119.04,180.97 119.77,179.51 121.23,181.70 122.69,175.85 124.15,178.78 125.61,181.70 127.07,183.90 128.53,181.70 130.00,177.32 131.46,174.39 132.92,171.47 134.38,175.85 135.84,183.17 137.30,191.94 138.76,199.25 140.95,204.37 143.14,205.10 170.90,205.10" fill="none" stroke="#e09090" stroke-width="0.9" stroke-linejoin="round"/>
<polyline points="103.40,198.36 104.00,199.96 104.60,197.61 105.20,197.45 105.80,198.11 106.40,196.83 107.00,196.19 107.60,196.28 108.20,194.63 108.80,195.77 109.40,193.37 110.00,194.75 110.60,194.07 111.20,192.60 111.80,190.30 112.40,192.15 113.00,188.74 113.60,189.61 114.20,188.51 114.80,186.05 115.40,187.00 116.00,186.19 116.60,184.44 117.20,182.47 117.80,182.26 118.40,182.00 119.00,179.53 119.60,181.67 120.20,183.11 120.80,183.13 121.40,182.21 122.00,176.91 122.60,178.95 123.20,175.73 123.80,178.87 124.40,178.52 125.00,181.17 125.60,183.22 126.20,184.21 126.80,183.97 127.40,182.59 128.00,181.02 128.60,180.47 129.20,178.10 129.80,175.94 130.40,177.37 131.00,175.09 131.60,173.49 132.20,171.01 132.80,173.40 133.40,172.56 134.00,174.76 134.60,179.05 135.20,182.65 135.80,186.94 136.40,189.55 137.00,193.73 137.60,196.51 138.20,198.85 138.80,200.89 139.40,200.71 140.00,202.49 140.60,203.53 141.20,204.85 141.80,205.05 142.40,205.10 143.00,205.10 143.60,205.10 144.20,205.10 144.80,205.10 145.40,205.10 146.00,205.10 146.60,205.10 147.20,205.10 147.80,205.10 148.40,205.10 149.00,205.10 149.60,205.10 150.20,205.10 150.80,205.10 151.40,205.10 152.00,205.10 152.60,205.10 153.20,205.10 153.80,205.10 154.40,205.10 155.00,205.10 155.60,205.10 156.20,205.10 156.80,205.10 157.40,205.10 158.00,205.10 158.60,205.10 159.20,205.10 159.80,205.10 160.40,205.10 161.00,205.10 161.60,205.10 162.20,205.10 162.80,205.10 163.40,205.10 164.00,205.10 164.60,205.10 165.20,205.10 165.80,205.10 166.40,205.10 167.00,205.10 167.60,205.10 168.20,205.10 168.80,205.10 169.40,205.10 170.00,205.10 170.60,205.10" fill="none" stroke="#0a0a0a" stroke-width="0.95" stroke-linejoin="round"/>
<line x1="103.40" y1="160.80" x2="170.60" y2="160.80" stroke="#999" stroke-width="0.8"/>
<line x1="170.60" y1="160.80" x2="170.60" y2="205.40" stroke="#777" stroke-width="0.8"/>
<line x1="103.40" y1="160.80" x2="103.40" y2="205.40" stroke="#444" stroke-width="0.9"/>
<line x1="103.40" y1="205.40" x2="170.60" y2="205.40" stroke="#222" stroke-width="1.1"/>
<text x="168.60" y="171.30" font-size="6.1" text-anchor="end" fill="#1a1a1a">Div. Index = 1.52</text>
<text x="183.40" y="165.90" font-size="3.3" text-anchor="end" fill="#666">250</text>
<line x1="184.40" y1="164.80" x2="185.40" y2="164.80" stroke="#444" stroke-width="0.5"/>
<text x="183.40" y="174.02" font-size="3.3" text-anchor="end" fill="#666">200</text>
<line x1="184.40" y1="172.92" x2="185.40" y2="172.92" stroke="#444" stroke-width="0.5"/>
<text x="183.40" y="182.14" font-size="3.3" text-anchor="end" fill="#666">150</text>
<line x1="184.40" y1="181.04" x2="185.40" y2="181.04" stroke="#444" stroke-width="0.5"/>
<text x="183.40" y="190.26" font-size="3.3" text-anchor="end" fill="#666">100</text>
<line x1="184.40" y1="189.16" x2="185.40" y2="189.16" stroke="#444" stroke-width="0.5"/>
<text x="183.40" y="198.38" font-size="3.3" text-anchor="end" fill="#666">50</text>
<line x1="184.40" y1="197.28" x2="185.40" y2="197.28" stroke="#444" stroke-width="0.5"/>
<text x="183.40" y="206.50" font-size="3.3" text-anchor="end" fill="#666">0</text>
<line x1="184.40" y1="205.40" x2="185.40" y2="205.40" stroke="#444" stroke-width="0.5"/>
<text x="179.20" y="183.10" font-size="2.8" text-anchor="middle" fill="#777" transform="rotate(-90 179.20 183.10)"># Cells</text>
<line x1="197.51" y1="160.80" x2="197.51" y2="162.10" stroke="#999" stroke-width="0.5"/>
<line x1="201.55" y1="160.80" x2="201.55" y2="162.10" stroke="#999" stroke-width="0.5"/>
<line x1="205.59" y1="160.80" x2="205.59" y2="162.10" stroke="#999" stroke-width="0.5"/>
<line x1="209.63" y1="160.80" x2="209.63" y2="162.10" stroke="#999" stroke-width="0.5"/>
<line x1="213.67" y1="160.80" x2="213.67" y2="162.10" stroke="#999" stroke-width="0.5"/>
<line x1="217.70" y1="160.80" x2="217.70" y2="162.10" stroke="#999" stroke-width="0.5"/>
<line x1="221.74" y1="160.80" x2="221.74" y2="162.10" stroke="#999" stroke-width="0.5"/>
<line x1="225.78" y1="160.80" x2="225.78" y2="162.10" stroke="#999" stroke-width="0.5"/>
<line x1="229.82" y1="160.80" x2="229.82" y2="162.10" stroke="#999" stroke-width="0.5"/>
<text x="193.48" y="211.40" font-size="3.7" text-anchor="middle" fill="#333">0</text>
<text x="198.86" y="211.40" font-size="3.7" text-anchor="middle" fill="#333">10<tspan dy="-1.48" font-size="2.78">2</tspan></text>
<text x="215.69" y="211.40" font-size="3.7" text-anchor="middle" fill="#333">10<tspan dy="-1.48" font-size="2.78">3</tspan></text>
<text x="231.16" y="211.40" font-size="3.7" text-anchor="middle" fill="#333">10<tspan dy="-1.48" font-size="2.78">4</tspan></text>
<text x="245.97" y="211.40" font-size="3.7" text-anchor="middle" fill="#333">10<tspan dy="-1.48" font-size="2.78">5</tspan></text>
<text x="219.05" y="214.00" font-size="2.6" text-anchor="middle" fill="#777">CSE</text>
<polyline points="188.17,205.10 188.51,204.98 188.84,204.83 189.17,204.64 189.50,204.39 189.84,204.09 190.17,203.73 190.50,203.30 190.83,202.80 191.16,202.25 191.50,201.63 191.83,200.98 192.16,200.29 192.49,199.60 192.83,198.93 193.16,198.30 193.49,197.74 193.82,197.27 194.16,196.92 194.49,196.70 194.82,196.63 195.15,196.70 195.49,196.92 195.82,197.27 196.15,197.74 196.48,198.30 196.82,198.93 197.15,199.60 197.48,200.29 197.81,200.98 198.15,201.63 198.48,202.25 198.81,202.80 199.14,203.30 199.48,203.73 199.81,204.09 200.14,204.39 200.47,204.64 200.81,204.83 201.14,204.98 201.47,205.10" fill="none" stroke="#6070c0" stroke-width="0.45" stroke-linejoin="round"/>
<polyline points="194.23,204.93 194.56,204.75 194.89,204.51 195.23,204.21 195.56,203.82 195.89,203.35 196.22,202.78 196.56,202.11 196.89,201.34 197.22,200.47 197.55,199.51 197.89,198.49 198.22,197.42 198.55,196.34 198.88,195.29 199.22,194.31 199.55,193.43 199.88,192.70 200.21,192.15 200.55,191.81 200.88,191.70 201.21,191.81 201.54,192.15 201.88,192.70 202.21,193.43 202.54,194.31 202.87,195.29 203.21,196.34 203.54,197.42 203.87,198.49 204.20,199.51 204.54,200.47 204.87,201.34 205.20,202.11 205.53,202.78 205.87,203.35 206.20,203.82 206.53,204.21 206.86,204.51 207.20,204.75 207.53,204.93" fill="none" stroke="#6070c0" stroke-width="0.45" stroke-linejoin="round"/>
<polyline points="200.29,204.66 200.62,204.37 200.95,203.99 201.28,203.50 201.62,202.89 201.95,202.14 202.28,201.24 202.61,200.17 202.95,198.94 203.28,197.55 203.61,196.03 203.94,194.40 204.28,192.70 204.61,190.98 204.94,189.31 205.27,187.74 205.61,186.34 205.94,185.18 206.27,184.31 206.60,183.77 206.94,183.58 207.27,183.77 207.60,184.31 207.93,185.18 208.27,186.34 208.60,187.74 208.93,189.31 209.26,190.98 209.60,192.70 209.93,194.40 210.26,196.03 210.59,197.55 210.93,198.94 211.26,200.17 211.59,201.24 211.92,202.14 212.26,202.89 212.59,203.50 212.92,203.99 213.25,204.37 213.59,204.66" fill="none" stroke="#6070c0" stroke-width="0.45" stroke-linejoin="round"/>
<polyline points="206.34,204.93 206.68,204.75 207.01,204.50 207.34,204.20 207.67,203.81 208.01,203.33 208.34,202.76 208.67,202.08 209.00,201.30 209.34,200.42 209.67,199.46 210.00,198.42 210.33,197.34 210.67,196.26 211.00,195.19 211.33,194.20 211.66,193.32 212.00,192.58 212.33,192.03 212.66,191.68 212.99,191.57 213.33,191.68 213.66,192.03 213.99,192.58 214.32,193.32 214.66,194.20 214.99,195.19 215.32,196.26 215.65,197.34 215.99,198.42 216.32,199.46 216.65,200.42 216.98,201.30 217.32,202.08 217.65,202.76 217.98,203.33 218.31,203.81 218.64,204.20 218.98,204.50 219.31,204.75 219.64,204.93" fill="none" stroke="#6070c0" stroke-width="0.45" stroke-linejoin="round"/>
<polyline points="212.40,204.77 212.73,204.53 213.07,204.21 213.40,203.80 213.73,203.28 214.06,202.65 214.40,201.88 214.73,200.98 215.06,199.94 215.39,198.77 215.73,197.49 216.06,196.11 216.39,194.67 216.72,193.22 217.06,191.81 217.39,190.48 217.72,189.31 218.05,188.32 218.39,187.59 218.72,187.13 219.05,186.98 219.38,187.13 219.71,187.59 220.05,188.32 220.38,189.31 220.71,190.48 221.04,191.81 221.38,193.22 221.71,194.67 222.04,196.11 222.37,197.49 222.71,198.77 223.04,199.94 223.37,200.98 223.70,201.88 224.04,202.65 224.37,203.28 224.70,203.80 225.03,204.21 225.37,204.53 225.70,204.77" fill="none" stroke="#6070c0" stroke-width="0.45" stroke-linejoin="round"/>
<polyline points="217.78,205.38 218.12,205.38 218.45,205.37 218.78,205.36 219.11,205.34 219.45,205.32 219.78,205.30 220.11,205.28 220.44,205.25 220.78,205.22 221.11,205.18 221.44,205.15 221.77,205.11 222.11,205.07 222.44,205.03 222.77,204.99 223.10,204.96 223.44,204.93 223.77,204.91 224.10,204.90 224.43,204.89 224.77,204.90 225.10,204.91 225.43,204.93 225.76,204.96 226.10,204.99 226.43,205.03 226.76,205.07 227.09,205.11 227.43,205.15 227.76,205.18 228.09,205.22 228.42,205.25 228.76,205.28 229.09,205.30 229.42,205.32 229.75,205.34 230.09,205.36 230.42,205.37 230.75,205.38 231.08,205.38" fill="none" stroke="#6070c0" stroke-width="0.45" stroke-linejoin="round"/>
<polyline points="185.70,198.52 187.89,197.79 190.09,197.06 192.28,195.60 194.48,193.40 197.40,191.21 200.33,187.55 203.26,182.43 205.45,176.59 207.65,174.39 209.11,178.05 210.57,181.70 212.03,184.63 213.50,186.09 214.96,183.17 216.42,178.78 217.89,175.85 219.35,179.51 220.81,188.28 222.28,197.06 223.74,202.91 225.20,205.10 226.67,205.54 253.00,205.54" fill="none" stroke="#e09090" stroke-width="0.9" stroke-linejoin="round"/>
<polyline points="185.40,199.79 186.00,199.21 186.60,198.77 187.20,197.58 187.80,197.62 188.40,196.89 189.00,197.99 189.60,198.80 190.20,196.53 190.80,195.38 191.40,195.34 192.00,195.45 192.60,196.48 193.20,195.61 193.80,193.94 194.40,192.27 195.00,191.81 195.60,191.50 196.20,193.11 196.80,191.64 197.40,192.82 198.00,191.83 198.60,190.69 199.20,188.80 199.80,189.34 200.40,185.79 201.00,184.62 201.60,185.36 202.20,184.09 202.80,181.78 203.40,180.46 204.00,177.78 204.60,180.28 205.20,177.86 205.80,178.43 206.40,178.03 207.00,174.72 207.60,176.49 208.20,176.26 208.80,179.79 209.40,181.38 210.00,179.71 210.60,180.58 211.20,182.67 211.80,185.34 212.40,185.11 213.00,184.27 213.60,186.90 214.20,185.56 214.80,182.89 215.40,179.23 216.00,181.24 216.60,178.29 217.20,174.85 217.80,175.83 218.40,178.77 219.00,181.45 219.60,183.04 220.20,187.25 220.80,189.27 221.40,193.09 222.00,198.59 222.60,199.55 223.20,201.33 223.80,203.95 224.40,204.65 225.00,205.10 225.60,205.10 226.20,205.10 226.80,205.10 227.40,205.10 228.00,205.10 228.60,205.10 229.20,205.10 229.80,205.10 230.40,205.10 231.00,205.10 231.60,205.10 232.20,205.10 232.80,205.10 233.40,205.10 234.00,205.10 234.60,205.10 235.20,205.10 235.80,205.10 236.40,205.10 237.00,205.10 237.60,205.10 238.20,205.10 238.80,205.10 239.40,205.10 240.00,205.10 240.60,205.10 241.20,205.10 241.80,205.10 242.40,205.10 243.00,205.10 243.60,205.10 244.20,205.10 244.80,205.10 245.40,205.10 246.00,205.10 246.60,205.10 247.20,205.10 247.80,205.10 248.40,205.10 249.00,205.10 249.60,205.10 250.20,205.10 250.80,205.10 251.40,205.10 252.00,205.10 252.60,205.10" fill="none" stroke="#0a0a0a" stroke-width="0.95" stroke-linejoin="round"/>
<line x1="185.40" y1="160.80" x2="252.70" y2="160.80" stroke="#999" stroke-width="0.8"/>
<line x1="252.70" y1="160.80" x2="252.70" y2="205.40" stroke="#777" stroke-width="0.8"/>
<line x1="185.40" y1="160.80" x2="185.40" y2="205.40" stroke="#444" stroke-width="0.9"/>
<line x1="185.40" y1="205.40" x2="252.70" y2="205.40" stroke="#222" stroke-width="1.1"/>
<text x="250.70" y="171.30" font-size="6.1" text-anchor="end" fill="#1a1a1a">Div. Index = 1.69</text>
<text x="5.60" y="184.60" font-size="6.5" text-anchor="middle" fill="#222" transform="rotate(-90 5.60 184.60)">CD4T cells</text>
<text x="18.20" y="223.50" font-size="3.3" text-anchor="end" fill="#666">250</text>
<line x1="19.20" y1="222.40" x2="20.20" y2="222.40" stroke="#444" stroke-width="0.5"/>
<text x="18.20" y="231.62" font-size="3.3" text-anchor="end" fill="#666">200</text>
<line x1="19.20" y1="230.52" x2="20.20" y2="230.52" stroke="#444" stroke-width="0.5"/>
<text x="18.20" y="239.74" font-size="3.3" text-anchor="end" fill="#666">150</text>
<line x1="19.20" y1="238.64" x2="20.20" y2="238.64" stroke="#444" stroke-width="0.5"/>
<text x="18.20" y="247.86" font-size="3.3" text-anchor="end" fill="#666">100</text>
<line x1="19.20" y1="246.76" x2="20.20" y2="246.76" stroke="#444" stroke-width="0.5"/>
<text x="18.20" y="255.98" font-size="3.3" text-anchor="end" fill="#666">50</text>
<line x1="19.20" y1="254.88" x2="20.20" y2="254.88" stroke="#444" stroke-width="0.5"/>
<text x="18.20" y="264.10" font-size="3.3" text-anchor="end" fill="#666">0</text>
<line x1="19.20" y1="263.00" x2="20.20" y2="263.00" stroke="#444" stroke-width="0.5"/>
<text x="14.00" y="240.70" font-size="2.8" text-anchor="middle" fill="#777" transform="rotate(-90 14.00 240.70)"># Cells</text>
<line x1="32.33" y1="218.40" x2="32.33" y2="219.70" stroke="#999" stroke-width="0.5"/>
<line x1="36.38" y1="218.40" x2="36.38" y2="219.70" stroke="#999" stroke-width="0.5"/>
<line x1="40.42" y1="218.40" x2="40.42" y2="219.70" stroke="#999" stroke-width="0.5"/>
<line x1="44.46" y1="218.40" x2="44.46" y2="219.70" stroke="#999" stroke-width="0.5"/>
<line x1="48.51" y1="218.40" x2="48.51" y2="219.70" stroke="#999" stroke-width="0.5"/>
<line x1="52.55" y1="218.40" x2="52.55" y2="219.70" stroke="#999" stroke-width="0.5"/>
<line x1="56.60" y1="218.40" x2="56.60" y2="219.70" stroke="#999" stroke-width="0.5"/>
<line x1="60.64" y1="218.40" x2="60.64" y2="219.70" stroke="#999" stroke-width="0.5"/>
<line x1="64.68" y1="218.40" x2="64.68" y2="219.70" stroke="#999" stroke-width="0.5"/>
<text x="28.29" y="269.00" font-size="3.7" text-anchor="middle" fill="#333">0</text>
<text x="33.68" y="269.00" font-size="3.7" text-anchor="middle" fill="#333">10<tspan dy="-1.48" font-size="2.78">2</tspan></text>
<text x="50.53" y="269.00" font-size="3.7" text-anchor="middle" fill="#333">10<tspan dy="-1.48" font-size="2.78">3</tspan></text>
<text x="66.03" y="269.00" font-size="3.7" text-anchor="middle" fill="#333">10<tspan dy="-1.48" font-size="2.78">4</tspan></text>
<text x="80.86" y="269.00" font-size="3.7" text-anchor="middle" fill="#333">10<tspan dy="-1.48" font-size="2.78">5</tspan></text>
<text x="53.90" y="271.60" font-size="2.6" text-anchor="middle" fill="#777">CSE</text>
<polyline points="40.62,262.83 41.02,262.77 41.41,262.68 41.81,262.57 42.20,262.44 42.59,262.27 42.99,262.06 43.38,261.82 43.78,261.54 44.17,261.23 44.57,260.89 44.96,260.52 45.35,260.14 45.75,259.75 46.14,259.38 46.54,259.02 46.93,258.71 47.33,258.45 47.72,258.25 48.11,258.13 48.51,258.09 48.90,258.13 49.30,258.25 49.69,258.45 50.09,258.71 50.48,259.02 50.87,259.38 51.27,259.75 51.66,260.14 52.06,260.52 52.45,260.89 52.85,261.23 53.24,261.54 53.63,261.82 54.03,262.06 54.42,262.27 54.82,262.44 55.21,262.57 55.61,262.68 56.00,262.77 56.39,262.83" fill="none" stroke="#6070c0" stroke-width="0.45" stroke-linejoin="round"/>
<polyline points="47.36,262.82 47.76,262.75 48.15,262.66 48.55,262.54 48.94,262.39 49.33,262.21 49.73,261.99 50.12,261.73 50.52,261.43 50.91,261.10 51.31,260.73 51.70,260.33 52.09,259.92 52.49,259.50 52.88,259.09 53.28,258.71 53.67,258.38 54.07,258.09 54.46,257.88 54.85,257.75 55.25,257.71 55.64,257.75 56.04,257.88 56.43,258.09 56.83,258.38 57.22,258.71 57.61,259.09 58.01,259.50 58.40,259.92 58.80,260.33 59.19,260.73 59.59,261.10 59.98,261.43 60.37,261.73 60.77,261.99 61.16,262.21 61.56,262.39 61.95,262.54 62.35,262.66 62.74,262.75 63.13,262.82" fill="none" stroke="#6070c0" stroke-width="0.45" stroke-linejoin="round"/>
<polyline points="54.78,262.93 55.17,262.90 55.56,262.87 55.96,262.83 56.35,262.77 56.75,262.70 57.14,262.62 57.54,262.52 57.93,262.40 58.32,262.28 58.72,262.14 59.11,261.99 59.51,261.83 59.90,261.67 60.30,261.52 60.69,261.37 61.08,261.24 61.48,261.14 61.87,261.06 62.27,261.01 62.66,260.99 63.06,261.01 63.45,261.06 63.84,261.14 64.24,261.24 64.63,261.37 65.03,261.52 65.42,261.67 65.82,261.83 66.21,261.99 66.60,262.14 67.00,262.28 67.39,262.40 67.79,262.52 68.18,262.62 68.58,262.70 68.97,262.77 69.36,262.83 69.76,262.87 70.15,262.90 70.55,262.93" fill="none" stroke="#6070c0" stroke-width="0.45" stroke-linejoin="round"/>
<polyline points="62.86,262.90 63.26,262.86 63.65,262.81 64.05,262.74 64.44,262.65 64.84,262.55 65.23,262.43 65.62,262.28 66.02,262.11 66.41,261.92 66.81,261.71 67.20,261.49 67.60,261.25 67.99,261.02 68.38,260.79 68.78,260.57 69.17,260.38 69.57,260.22 69.96,260.10 70.36,260.02 70.75,260.00 71.14,260.02 71.54,260.10 71.93,260.22 72.33,260.38 72.72,260.57 73.12,260.79 73.51,261.02 73.90,261.25 74.30,261.49 74.69,261.71 75.09,261.92 75.48,262.11 75.88,262.28 76.27,262.43 76.66,262.55 77.06,262.65 77.45,262.74 77.85,262.81 78.24,262.86 78.64,262.90" fill="none" stroke="#6070c0" stroke-width="0.45" stroke-linejoin="round"/>
<polyline points="20.50,261.27 24.90,260.56 29.29,260.56 33.69,259.84 38.08,259.84 41.01,258.41 43.21,256.98 45.41,256.98 47.61,256.27 49.07,255.55 50.54,255.55 52.00,256.98 53.47,255.55 54.93,254.84 56.40,255.55 57.86,256.98 60.06,258.41 62.99,259.84 65.92,259.84 68.85,259.56 71.05,258.41 72.52,256.98 73.98,251.26 75.45,242.69 76.91,234.11 78.38,228.39 79.40,228.39 80.57,235.54 81.75,246.98 82.77,256.98 84.24,261.27 85.70,262.41 87.90,262.41" fill="none" stroke="#e09090" stroke-width="0.9" stroke-linejoin="round"/>
<polyline points="20.20,260.77 20.80,260.83 21.40,261.28 22.00,261.46 22.60,261.48 23.20,261.54 23.80,260.85 24.40,259.93 25.00,261.35 25.60,259.87 26.20,260.79 26.80,260.63 27.40,261.24 28.00,261.33 28.60,260.28 29.20,261.15 29.80,261.15 30.40,260.56 31.00,259.72 31.60,261.35 32.20,260.56 32.80,259.24 33.40,259.54 34.00,261.25 34.60,259.52 35.20,259.89 35.80,260.80 36.40,260.88 37.00,260.45 37.60,260.69 38.20,258.87 38.80,258.70 39.40,260.48 40.00,259.78 40.60,257.65 41.20,257.28 41.80,257.36 42.40,258.71 43.00,256.56 43.60,257.72 44.20,258.39 44.80,257.64 45.40,258.27 46.00,256.38 46.60,255.89 47.20,255.33 47.80,257.01 48.40,254.97 49.00,257.14 49.60,256.42 50.20,255.00 50.80,257.22 51.40,256.11 52.00,257.02 52.60,255.36 53.20,256.62 53.80,256.61 54.40,256.41 55.00,253.94 55.60,256.57 56.20,256.10 56.80,257.39 57.40,257.13 58.00,257.87 58.60,258.19 59.20,259.09 59.80,257.71 60.40,257.95 61.00,259.42 61.60,259.12 62.20,259.66 62.80,259.02 63.40,260.70 64.00,259.05 64.60,260.89 65.20,260.85 65.80,260.03 66.40,259.20 67.00,260.35 67.60,259.27 68.20,259.73 68.80,258.82 69.40,260.54 70.00,259.21 70.60,258.43 71.20,257.27 71.80,258.27 72.40,257.49 73.00,255.22 73.60,250.64 74.20,248.07 74.80,244.26 75.40,242.59 76.00,236.40 76.60,234.99 77.20,234.55 77.80,231.20 78.40,226.01 79.00,226.38 79.60,229.75 80.20,236.31 80.80,241.39 81.40,246.90 82.00,252.55 82.60,257.42 83.20,259.68 83.80,261.49 84.40,262.70 85.00,262.40 85.60,262.70 86.20,262.70 86.80,262.70 87.40,262.70" fill="none" stroke="#0a0a0a" stroke-width="0.95" stroke-linejoin="round"/>
<line x1="20.20" y1="218.40" x2="87.60" y2="218.40" stroke="#999" stroke-width="0.8"/>
<line x1="87.60" y1="218.40" x2="87.60" y2="263.00" stroke="#777" stroke-width="0.8"/>
<line x1="20.20" y1="218.40" x2="20.20" y2="263.00" stroke="#444" stroke-width="0.9"/>
<line x1="20.20" y1="263.00" x2="87.60" y2="263.00" stroke="#222" stroke-width="1.1"/>
<text x="85.60" y="228.90" font-size="6.1" text-anchor="end" fill="#1a1a1a">Div. Index = 0.19</text>
<text x="101.40" y="223.50" font-size="3.3" text-anchor="end" fill="#666">250</text>
<line x1="102.40" y1="222.40" x2="103.40" y2="222.40" stroke="#444" stroke-width="0.5"/>
<text x="101.40" y="231.62" font-size="3.3" text-anchor="end" fill="#666">200</text>
<line x1="102.40" y1="230.52" x2="103.40" y2="230.52" stroke="#444" stroke-width="0.5"/>
<text x="101.40" y="239.74" font-size="3.3" text-anchor="end" fill="#666">150</text>
<line x1="102.40" y1="238.64" x2="103.40" y2="238.64" stroke="#444" stroke-width="0.5"/>
<text x="101.40" y="247.86" font-size="3.3" text-anchor="end" fill="#666">100</text>
<line x1="102.40" y1="246.76" x2="103.40" y2="246.76" stroke="#444" stroke-width="0.5"/>
<text x="101.40" y="255.98" font-size="3.3" text-anchor="end" fill="#666">50</text>
<line x1="102.40" y1="254.88" x2="103.40" y2="254.88" stroke="#444" stroke-width="0.5"/>
<text x="101.40" y="264.10" font-size="3.3" text-anchor="end" fill="#666">0</text>
<line x1="102.40" y1="263.00" x2="103.40" y2="263.00" stroke="#444" stroke-width="0.5"/>
<text x="97.20" y="240.70" font-size="2.8" text-anchor="middle" fill="#777" transform="rotate(-90 97.20 240.70)"># Cells</text>
<line x1="115.50" y1="218.40" x2="115.50" y2="219.70" stroke="#999" stroke-width="0.5"/>
<line x1="119.53" y1="218.40" x2="119.53" y2="219.70" stroke="#999" stroke-width="0.5"/>
<line x1="123.56" y1="218.40" x2="123.56" y2="219.70" stroke="#999" stroke-width="0.5"/>
<line x1="127.59" y1="218.40" x2="127.59" y2="219.70" stroke="#999" stroke-width="0.5"/>
<line x1="131.62" y1="218.40" x2="131.62" y2="219.70" stroke="#999" stroke-width="0.5"/>
<line x1="135.66" y1="218.40" x2="135.66" y2="219.70" stroke="#999" stroke-width="0.5"/>
<line x1="139.69" y1="218.40" x2="139.69" y2="219.70" stroke="#999" stroke-width="0.5"/>
<line x1="143.72" y1="218.40" x2="143.72" y2="219.70" stroke="#999" stroke-width="0.5"/>
<line x1="147.75" y1="218.40" x2="147.75" y2="219.70" stroke="#999" stroke-width="0.5"/>
<text x="111.46" y="269.00" font-size="3.7" text-anchor="middle" fill="#333">0</text>
<text x="116.84" y="269.00" font-size="3.7" text-anchor="middle" fill="#333">10<tspan dy="-1.48" font-size="2.78">2</tspan></text>
<text x="133.64" y="269.00" font-size="3.7" text-anchor="middle" fill="#333">10<tspan dy="-1.48" font-size="2.78">3</tspan></text>
<text x="149.10" y="269.00" font-size="3.7" text-anchor="middle" fill="#333">10<tspan dy="-1.48" font-size="2.78">4</tspan></text>
<text x="163.88" y="269.00" font-size="3.7" text-anchor="middle" fill="#333">10<tspan dy="-1.48" font-size="2.78">5</tspan></text>
<text x="137.00" y="271.60" font-size="2.6" text-anchor="middle" fill="#777">CSE</text>
<polyline points="119.73,262.77 120.12,262.68 120.52,262.56 120.91,262.41 121.30,262.21 121.70,261.98 122.09,261.70 122.48,261.36 122.87,260.98 123.27,260.54 123.66,260.07 124.05,259.56 124.45,259.02 124.84,258.49 125.23,257.96 125.63,257.47 126.02,257.03 126.41,256.67 126.81,256.40 127.20,256.23 127.59,256.17 127.99,256.23 128.38,256.40 128.77,256.67 129.16,257.03 129.56,257.47 129.95,257.96 130.34,258.49 130.74,259.02 131.13,259.56 131.52,260.07 131.92,260.54 132.31,260.98 132.70,261.36 133.10,261.70 133.49,261.98 133.88,262.21 134.28,262.41 134.67,262.56 135.06,262.68 135.45,262.77" fill="none" stroke="#6070c0" stroke-width="0.45" stroke-linejoin="round"/>
<polyline points="127.12,262.71 127.51,262.59 127.91,262.44 128.30,262.25 128.69,262.01 129.09,261.71 129.48,261.35 129.87,260.93 130.27,260.44 130.66,259.90 131.05,259.29 131.45,258.65 131.84,257.98 132.23,257.30 132.63,256.63 133.02,256.01 133.41,255.46 133.80,255.00 134.20,254.66 134.59,254.44 134.98,254.37 135.38,254.44 135.77,254.66 136.16,255.00 136.56,255.46 136.95,256.01 137.34,256.63 137.74,257.30 138.13,257.98 138.52,258.65 138.92,259.29 139.31,259.90 139.70,260.44 140.09,260.93 140.49,261.35 140.88,261.71 141.27,262.01 141.67,262.25 142.06,262.44 142.45,262.59 142.85,262.71" fill="none" stroke="#6070c0" stroke-width="0.45" stroke-linejoin="round"/>
<polyline points="134.51,262.87 134.91,262.81 135.30,262.74 135.69,262.66 136.09,262.55 136.48,262.41 136.87,262.25 137.27,262.05 137.66,261.83 138.05,261.58 138.44,261.30 138.84,261.01 139.23,260.70 139.62,260.39 140.02,260.09 140.41,259.80 140.80,259.55 141.20,259.34 141.59,259.18 141.98,259.09 142.38,259.05 142.77,259.09 143.16,259.18 143.56,259.34 143.95,259.55 144.34,259.80 144.73,260.09 145.13,260.39 145.52,260.70 145.91,261.01 146.31,261.30 146.70,261.58 147.09,261.83 147.49,262.05 147.88,262.25 148.27,262.41 148.67,262.55 149.06,262.66 149.45,262.74 149.85,262.81 150.24,262.87" fill="none" stroke="#6070c0" stroke-width="0.45" stroke-linejoin="round"/>
<polyline points="142.58,262.77 142.97,262.67 143.36,262.55 143.76,262.40 144.15,262.21 144.54,261.97 144.94,261.68 145.33,261.35 145.72,260.96 146.12,260.52 146.51,260.04 146.90,259.52 147.30,258.99 147.69,258.44 148.08,257.91 148.47,257.42 148.87,256.98 149.26,256.61 149.65,256.33 150.05,256.16 150.44,256.11 150.83,256.16 151.23,256.33 151.62,256.61 152.01,256.98 152.41,257.42 152.80,257.91 153.19,258.44 153.58,258.99 153.98,259.52 154.37,260.04 154.76,260.52 155.16,260.96 155.55,261.35 155.94,261.68 156.34,261.97 156.73,262.21 157.12,262.40 157.52,262.55 157.91,262.67 158.30,262.77" fill="none" stroke="#6070c0" stroke-width="0.45" stroke-linejoin="round"/>
<polyline points="147.95,262.50 148.35,262.30 148.74,262.05 149.13,261.72 149.53,261.31 149.92,260.80 150.31,260.19 150.71,259.47 151.10,258.64 151.49,257.71 151.88,256.68 152.28,255.58 152.67,254.43 153.06,253.27 153.46,252.14 153.85,251.08 154.24,250.14 154.64,249.36 155.03,248.77 155.42,248.41 155.82,248.28 156.21,248.41 156.60,248.77 157.00,249.36 157.39,250.14 157.78,251.08 158.17,252.14 158.57,253.27 158.96,254.43 159.35,255.58 159.75,256.68 160.14,257.71 160.53,258.64 160.93,259.47 161.32,260.19 161.71,260.80 162.11,261.31 162.50,261.72 162.89,262.05 163.29,262.30 163.68,262.50" fill="none" stroke="#6070c0" stroke-width="0.45" stroke-linejoin="round"/>
<polyline points="103.99,261.25 108.35,260.81 112.72,260.52 117.08,259.79 121.45,257.62 124.35,255.44 127.26,253.26 130.17,251.80 132.35,250.35 133.81,248.90 135.26,250.35 137.45,252.53 139.63,255.44 141.81,256.89 143.99,257.32 146.17,256.89 148.35,255.44 150.54,253.26 151.99,250.35 153.45,244.54 154.90,237.28 156.35,230.01 157.81,227.83 159.26,231.47 160.72,240.18 162.17,250.35 163.63,257.62 165.08,261.25 167.99,262.70 170.90,262.70" fill="none" stroke="#e09090" stroke-width="0.9" stroke-linejoin="round"/>
<polyline points="103.69,262.05 104.29,262.13 104.89,262.32 105.49,262.10 106.09,261.78 106.69,260.23 107.29,261.58 107.89,261.89 108.49,260.93 109.09,261.87 109.69,260.30 110.29,261.94 110.89,260.79 111.49,261.34 112.09,260.29 112.69,260.33 113.29,260.34 113.89,260.18 114.49,259.56 115.09,260.25 115.69,261.37 116.29,260.53 116.89,261.03 117.49,260.35 118.09,260.23 118.69,260.32 119.29,259.45 119.89,257.99 120.49,257.62 121.09,257.72 121.69,256.29 122.29,256.36 122.89,257.63 123.49,257.29 124.09,255.24 124.69,256.01 125.29,255.59 125.89,255.48 126.49,254.77 127.09,253.59 127.69,252.02 128.29,253.87 128.89,252.03 129.49,252.68 130.09,251.55 130.69,251.68 131.29,252.64 131.89,249.67 132.49,250.32 133.09,250.12 133.69,249.51 134.29,251.43 134.89,250.28 135.49,252.49 136.09,252.37 136.69,253.81 137.29,251.79 137.89,252.98 138.49,254.02 139.09,256.54 139.69,254.66 140.29,255.74 140.89,257.34 141.49,258.44 142.09,256.47 142.69,257.27 143.29,258.02 143.89,258.07 144.49,258.09 145.09,257.99 145.69,256.58 146.29,256.28 146.89,255.26 147.49,256.63 148.09,254.91 148.69,254.43 149.29,255.82 149.89,254.32 150.49,253.32 151.09,252.34 151.69,250.97 152.29,248.93 152.89,245.13 153.49,241.38 154.09,238.26 154.69,234.90 155.29,233.45 155.89,229.27 156.49,227.59 157.09,228.73 157.69,231.14 158.29,231.08 158.89,230.42 159.49,236.22 160.09,237.09 160.69,240.76 161.29,245.87 161.89,250.45 162.49,254.29 163.09,256.59 163.69,259.38 164.29,259.40 164.89,262.53 165.49,261.57 166.09,262.20 166.69,262.50 167.29,262.70 167.89,262.70 168.49,262.70 169.09,262.70 169.69,262.70 170.29,262.70" fill="none" stroke="#0a0a0a" stroke-width="0.95" stroke-linejoin="round"/>
<line x1="103.40" y1="218.40" x2="170.60" y2="218.40" stroke="#999" stroke-width="0.8"/>
<line x1="170.60" y1="218.40" x2="170.60" y2="263.00" stroke="#777" stroke-width="0.8"/>
<line x1="103.40" y1="218.40" x2="103.40" y2="263.00" stroke="#444" stroke-width="0.9"/>
<line x1="103.40" y1="263.00" x2="170.60" y2="263.00" stroke="#222" stroke-width="1.1"/>
<text x="168.60" y="228.90" font-size="6.1" text-anchor="end" fill="#1a1a1a">Div. Index = 0.3</text>
<text x="183.40" y="223.50" font-size="3.3" text-anchor="end" fill="#666">250</text>
<line x1="184.40" y1="222.40" x2="185.40" y2="222.40" stroke="#444" stroke-width="0.5"/>
<text x="183.40" y="231.62" font-size="3.3" text-anchor="end" fill="#666">200</text>
<line x1="184.40" y1="230.52" x2="185.40" y2="230.52" stroke="#444" stroke-width="0.5"/>
<text x="183.40" y="239.74" font-size="3.3" text-anchor="end" fill="#666">150</text>
<line x1="184.40" y1="238.64" x2="185.40" y2="238.64" stroke="#444" stroke-width="0.5"/>
<text x="183.40" y="247.86" font-size="3.3" text-anchor="end" fill="#666">100</text>
<line x1="184.40" y1="246.76" x2="185.40" y2="246.76" stroke="#444" stroke-width="0.5"/>
<text x="183.40" y="255.98" font-size="3.3" text-anchor="end" fill="#666">50</text>
<line x1="184.40" y1="254.88" x2="185.40" y2="254.88" stroke="#444" stroke-width="0.5"/>
<text x="183.40" y="264.10" font-size="3.3" text-anchor="end" fill="#666">0</text>
<line x1="184.40" y1="263.00" x2="185.40" y2="263.00" stroke="#444" stroke-width="0.5"/>
<text x="179.20" y="240.70" font-size="2.8" text-anchor="middle" fill="#777" transform="rotate(-90 179.20 240.70)"># Cells</text>
<line x1="197.51" y1="218.40" x2="197.51" y2="219.70" stroke="#999" stroke-width="0.5"/>
<line x1="201.55" y1="218.40" x2="201.55" y2="219.70" stroke="#999" stroke-width="0.5"/>
<line x1="205.59" y1="218.40" x2="205.59" y2="219.70" stroke="#999" stroke-width="0.5"/>
<line x1="209.63" y1="218.40" x2="209.63" y2="219.70" stroke="#999" stroke-width="0.5"/>
<line x1="213.67" y1="218.40" x2="213.67" y2="219.70" stroke="#999" stroke-width="0.5"/>
<line x1="217.70" y1="218.40" x2="217.70" y2="219.70" stroke="#999" stroke-width="0.5"/>
<line x1="221.74" y1="218.40" x2="221.74" y2="219.70" stroke="#999" stroke-width="0.5"/>
<line x1="225.78" y1="218.40" x2="225.78" y2="219.70" stroke="#999" stroke-width="0.5"/>
<line x1="229.82" y1="218.40" x2="229.82" y2="219.70" stroke="#999" stroke-width="0.5"/>
<text x="193.48" y="269.00" font-size="3.7" text-anchor="middle" fill="#333">0</text>
<text x="198.86" y="269.00" font-size="3.7" text-anchor="middle" fill="#333">10<tspan dy="-1.48" font-size="2.78">2</tspan></text>
<text x="215.69" y="269.00" font-size="3.7" text-anchor="middle" fill="#333">10<tspan dy="-1.48" font-size="2.78">3</tspan></text>
<text x="231.16" y="269.00" font-size="3.7" text-anchor="middle" fill="#333">10<tspan dy="-1.48" font-size="2.78">4</tspan></text>
<text x="245.97" y="269.00" font-size="3.7" text-anchor="middle" fill="#333">10<tspan dy="-1.48" font-size="2.78">5</tspan></text>
<text x="219.05" y="271.60" font-size="2.6" text-anchor="middle" fill="#777">CSE</text>
<polyline points="202.63,262.74 202.98,262.65 203.33,262.52 203.68,262.35 204.03,262.14 204.38,261.88 204.73,261.57 205.08,261.20 205.43,260.78 205.78,260.31 206.13,259.78 206.48,259.22 206.83,258.64 207.18,258.05 207.53,257.47 207.88,256.94 208.23,256.46 208.58,256.06 208.93,255.76 209.28,255.57 209.63,255.51 209.98,255.57 210.33,255.76 210.68,256.06 211.03,256.46 211.38,256.94 211.73,257.47 212.08,258.05 212.43,258.64 212.78,259.22 213.13,259.78 213.48,260.31 213.83,260.78 214.18,261.20 214.53,261.57 214.88,261.88 215.23,262.14 215.58,262.35 215.93,262.52 216.28,262.65 216.63,262.74" fill="none" stroke="#6070c0" stroke-width="0.45" stroke-linejoin="round"/>
<polyline points="208.69,262.62 209.04,262.48 209.39,262.28 209.74,262.04 210.09,261.73 210.44,261.35 210.79,260.89 211.14,260.35 211.49,259.72 211.84,259.02 212.19,258.25 212.54,257.42 212.89,256.56 213.24,255.68 213.59,254.83 213.94,254.04 214.29,253.33 214.64,252.74 214.99,252.30 215.34,252.02 215.69,251.93 216.03,252.02 216.38,252.30 216.73,252.74 217.08,253.33 217.43,254.04 217.78,254.83 218.13,255.68 218.48,256.56 218.83,257.42 219.18,258.25 219.53,259.02 219.88,259.72 220.23,260.35 220.58,260.89 220.93,261.35 221.28,261.73 221.63,262.04 221.98,262.28 222.33,262.48 222.68,262.62" fill="none" stroke="#6070c0" stroke-width="0.45" stroke-linejoin="round"/>
<polyline points="215.42,262.69 215.77,262.58 216.12,262.42 216.47,262.22 216.82,261.97 217.17,261.66 217.52,261.29 217.87,260.85 218.22,260.34 218.57,259.77 218.92,259.15 219.27,258.48 219.62,257.78 219.97,257.07 220.32,256.39 220.67,255.74 221.02,255.17 221.37,254.69 221.72,254.33 222.07,254.11 222.41,254.03 222.76,254.11 223.11,254.33 223.46,254.69 223.81,255.17 224.16,255.74 224.51,256.39 224.86,257.07 225.21,257.78 225.56,258.48 225.91,259.15 226.26,259.77 226.61,260.34 226.96,260.85 227.31,261.29 227.66,261.66 228.01,261.97 228.36,262.22 228.71,262.42 229.06,262.58 229.41,262.69" fill="none" stroke="#6070c0" stroke-width="0.45" stroke-linejoin="round"/>
<polyline points="222.15,262.75 222.50,262.65 222.85,262.52 223.20,262.35 223.55,262.14 223.90,261.89 224.25,261.58 224.60,261.21 224.95,260.79 225.30,260.32 225.65,259.80 226.00,259.24 226.35,258.66 226.70,258.07 227.05,257.50 227.40,256.96 227.75,256.48 228.10,256.09 228.45,255.79 228.80,255.60 229.14,255.54 229.49,255.60 229.84,255.79 230.19,256.09 230.54,256.48 230.89,256.96 231.24,257.50 231.59,258.07 231.94,258.66 232.29,259.24 232.64,259.80 232.99,260.32 233.34,260.79 233.69,261.21 234.04,261.58 234.39,261.89 234.74,262.14 235.09,262.35 235.44,262.52 235.79,262.65 236.14,262.75" fill="none" stroke="#6070c0" stroke-width="0.45" stroke-linejoin="round"/>
<polyline points="228.88,262.59 229.23,262.43 229.58,262.22 229.93,261.94 230.28,261.61 230.63,261.19 230.98,260.68 231.33,260.09 231.68,259.41 232.03,258.64 232.38,257.79 232.73,256.88 233.08,255.94 233.43,254.98 233.78,254.05 234.13,253.18 234.48,252.40 234.83,251.76 235.18,251.27 235.53,250.97 235.88,250.87 236.22,250.97 236.57,251.27 236.92,251.76 237.27,252.40 237.62,253.18 237.97,254.05 238.32,254.98 238.67,255.94 239.02,256.88 239.37,257.79 239.72,258.64 240.07,259.41 240.42,260.09 240.77,260.68 241.12,261.19 241.47,261.61 241.82,261.94 242.17,262.22 242.52,262.43 242.87,262.59" fill="none" stroke="#6070c0" stroke-width="0.45" stroke-linejoin="round"/>
<polyline points="234.93,262.50 235.28,262.30 235.63,262.05 235.98,261.72 236.33,261.31 236.68,260.80 237.03,260.19 237.38,259.47 237.73,258.64 238.08,257.71 238.43,256.68 238.78,255.58 239.13,254.43 239.48,253.27 239.83,252.14 240.18,251.08 240.53,250.14 240.88,249.36 241.23,248.77 241.58,248.41 241.93,248.28 242.28,248.41 242.63,248.77 242.98,249.36 243.33,250.14 243.68,251.08 244.03,252.14 244.38,253.27 244.73,254.43 245.08,255.58 245.43,256.68 245.78,257.71 246.13,258.64 246.48,259.47 246.83,260.19 247.18,260.80 247.53,261.31 247.88,261.72 248.23,262.05 248.58,262.30 248.93,262.50" fill="none" stroke="#6070c0" stroke-width="0.45" stroke-linejoin="round"/>
<polyline points="186.42,261.96 190.01,261.52 194.33,261.22 198.64,260.93 202.96,259.01 205.83,257.53 207.99,255.32 210.15,251.62 212.30,249.41 214.46,247.93 216.62,246.45 218.77,247.19 220.93,248.67 223.09,250.15 225.25,250.89 227.40,251.62 229.56,252.07 231.72,250.89 233.87,248.67 236.03,245.72 238.19,240.55 239.63,234.64 240.35,231.69 241.06,234.64 242.50,240.55 243.94,247.93 245.38,255.32 246.82,261.22 248.25,262.70 253.00,262.70" fill="none" stroke="#e09090" stroke-width="0.9" stroke-linejoin="round"/>
<polyline points="186.12,262.26 186.72,262.70 187.32,261.13 187.92,262.70 188.52,261.39 189.12,262.64 189.72,262.46 190.32,262.14 190.92,261.26 191.52,260.65 192.12,260.99 192.72,262.48 193.32,260.84 193.92,261.87 194.52,261.68 195.12,261.80 195.72,260.72 196.32,260.60 196.92,260.45 197.52,262.33 198.12,260.99 198.72,261.39 199.32,260.95 199.92,259.90 200.52,259.27 201.12,258.88 201.72,260.55 202.32,258.59 202.92,260.28 203.52,258.54 204.12,259.10 204.72,257.35 205.32,258.66 205.92,256.80 206.52,256.47 207.12,256.26 207.72,254.50 208.32,253.82 208.92,254.38 209.52,251.83 210.12,251.27 210.72,251.87 211.32,249.51 211.92,248.78 212.52,248.41 213.12,248.55 213.72,248.07 214.32,248.62 214.92,247.61 215.52,248.62 216.12,245.27 216.72,247.48 217.32,248.31 217.92,246.36 218.52,245.85 219.12,247.72 219.72,247.01 220.32,248.62 220.92,249.88 221.52,248.22 222.12,248.73 222.72,250.33 223.32,249.57 223.92,249.97 224.52,250.85 225.12,250.03 225.72,250.09 226.32,251.22 226.92,251.76 227.52,253.36 228.12,252.30 228.72,250.94 229.32,251.48 229.92,252.76 230.52,251.87 231.12,252.52 231.72,252.36 232.32,251.43 232.92,248.34 233.52,250.53 234.12,248.31 234.72,246.48 235.32,245.38 235.92,246.93 236.52,243.01 237.12,241.01 237.72,240.27 238.32,240.94 238.92,236.43 239.52,235.28 240.12,230.13 240.72,234.53 241.32,236.39 241.92,238.41 242.52,243.13 243.12,245.04 243.72,247.33 244.32,253.23 244.92,254.75 245.52,256.61 246.12,258.76 246.72,262.06 247.32,262.35 247.92,262.70 248.52,262.70 249.12,262.70 249.72,262.70 250.32,262.70 250.92,262.70 251.52,262.70 252.12,262.70" fill="none" stroke="#0a0a0a" stroke-width="0.95" stroke-linejoin="round"/>
<line x1="185.40" y1="218.40" x2="252.70" y2="218.40" stroke="#999" stroke-width="0.8"/>
<line x1="252.70" y1="218.40" x2="252.70" y2="263.00" stroke="#777" stroke-width="0.8"/>
<line x1="185.40" y1="218.40" x2="185.40" y2="263.00" stroke="#444" stroke-width="0.9"/>
<line x1="185.40" y1="263.00" x2="252.70" y2="263.00" stroke="#222" stroke-width="1.1"/>
<text x="250.70" y="228.90" font-size="6.1" text-anchor="end" fill="#1a1a1a">Div. Index = 0.48</text>
<text x="5.60" y="242.20" font-size="6.5" text-anchor="middle" fill="#222" transform="rotate(-90 5.60 242.20)">CD8T cells</text>
<text x="18.40" y="278.50" font-size="3.3" text-anchor="end" fill="#666">40</text>
<line x1="19.40" y1="277.40" x2="20.40" y2="277.40" stroke="#444" stroke-width="0.5"/>
<text x="18.40" y="289.10" font-size="3.3" text-anchor="end" fill="#666">30</text>
<line x1="19.40" y1="288.00" x2="20.40" y2="288.00" stroke="#444" stroke-width="0.5"/>
<text x="18.40" y="299.70" font-size="3.3" text-anchor="end" fill="#666">20</text>
<line x1="19.40" y1="298.60" x2="20.40" y2="298.60" stroke="#444" stroke-width="0.5"/>
<text x="18.40" y="310.30" font-size="3.3" text-anchor="end" fill="#666">10</text>
<line x1="19.40" y1="309.20" x2="20.40" y2="309.20" stroke="#444" stroke-width="0.5"/>
<text x="18.40" y="320.90" font-size="3.3" text-anchor="end" fill="#666">0</text>
<line x1="19.40" y1="319.80" x2="20.40" y2="319.80" stroke="#444" stroke-width="0.5"/>
<text x="14.20" y="296.60" font-size="2.8" text-anchor="middle" fill="#777" transform="rotate(-90 14.20 296.60)"># Cells</text>
<line x1="32.96" y1="273.40" x2="32.96" y2="274.70" stroke="#999" stroke-width="0.5"/>
<line x1="37.15" y1="273.40" x2="37.15" y2="274.70" stroke="#999" stroke-width="0.5"/>
<line x1="41.34" y1="273.40" x2="41.34" y2="274.70" stroke="#999" stroke-width="0.5"/>
<line x1="45.53" y1="273.40" x2="45.53" y2="274.70" stroke="#999" stroke-width="0.5"/>
<line x1="49.72" y1="273.40" x2="49.72" y2="274.70" stroke="#999" stroke-width="0.5"/>
<line x1="53.90" y1="273.40" x2="53.90" y2="274.70" stroke="#999" stroke-width="0.5"/>
<line x1="58.09" y1="273.40" x2="58.09" y2="274.70" stroke="#999" stroke-width="0.5"/>
<line x1="62.28" y1="273.40" x2="62.28" y2="274.70" stroke="#999" stroke-width="0.5"/>
<line x1="66.47" y1="273.40" x2="66.47" y2="274.70" stroke="#999" stroke-width="0.5"/>
<text x="28.78" y="325.80" font-size="3.7" text-anchor="middle" fill="#333">0</text>
<text x="34.36" y="325.80" font-size="3.7" text-anchor="middle" fill="#333">10<tspan dy="-1.48" font-size="2.78">2</tspan></text>
<text x="51.81" y="325.80" font-size="3.7" text-anchor="middle" fill="#333">10<tspan dy="-1.48" font-size="2.78">3</tspan></text>
<text x="67.86" y="325.80" font-size="3.7" text-anchor="middle" fill="#333">10<tspan dy="-1.48" font-size="2.78">4</tspan></text>
<text x="83.22" y="325.80" font-size="3.7" text-anchor="middle" fill="#333">10<tspan dy="-1.48" font-size="2.78">5</tspan></text>
<text x="56.30" y="329.60" font-size="3.6" text-anchor="middle" fill="#666">&lt;FITC-A&gt;: CFSE</text>
<polyline points="75.68,319.51 75.95,319.40 76.23,319.25 76.50,319.06 76.77,318.83 77.04,318.53 77.31,318.18 77.59,317.77 77.86,317.29 78.13,316.75 78.40,316.16 78.68,315.52 78.95,314.86 79.22,314.20 79.49,313.55 79.76,312.94 80.04,312.39 80.31,311.94 80.58,311.60 80.85,311.39 81.13,311.32 81.40,311.39 81.67,311.60 81.94,311.94 82.21,312.39 82.49,312.94 82.76,313.55 83.03,314.20 83.30,314.86 83.58,315.52 83.85,316.16 84.12,316.75 84.39,317.29 84.66,317.77 84.94,318.18 85.21,318.53 85.48,318.83 85.75,319.06 86.03,319.25 86.30,319.40 86.57,319.51" fill="none" stroke="#6070c0" stroke-width="0.45" stroke-linejoin="round"/>
<polyline points="20.70,318.33 25.11,318.19 30.99,318.33 36.86,317.89 39.80,317.31 42.01,318.04 44.21,317.17 46.42,317.75 48.62,317.02 51.56,317.89 54.50,317.31 57.44,318.04 60.38,317.46 63.31,317.89 66.25,317.46 69.19,317.75 72.13,317.31 74.34,316.87 75.81,313.96 77.27,306.66 78.74,299.36 79.77,296.45 80.65,300.82 81.68,309.58 82.71,315.41 83.89,318.04 89.03,318.33" fill="none" stroke="#e09090" stroke-width="0.9" stroke-linejoin="round"/>
<polyline points="20.40,318.66 21.00,317.61 21.60,318.53 22.20,319.08 22.80,318.63 23.40,317.97 24.00,318.51 24.60,318.72 25.20,318.82 25.80,317.76 26.40,319.17 27.00,319.49 27.60,319.07 28.20,319.33 28.80,318.31 29.40,319.45 30.00,317.94 30.60,318.05 31.20,318.80 31.80,319.40 32.40,317.61 33.00,317.86 33.60,317.42 34.20,318.24 34.80,317.55 35.40,317.62 36.00,318.77 36.60,318.37 37.20,319.02 37.80,317.74 38.40,318.22 39.00,316.63 39.60,318.64 40.20,317.26 40.80,317.99 41.40,318.26 42.00,319.19 42.60,317.97 43.20,318.83 43.80,317.78 44.40,316.96 45.00,318.49 45.60,317.26 46.20,319.11 46.80,317.73 47.40,317.02 48.00,318.46 48.60,317.00 49.20,317.37 49.80,317.41 50.40,318.31 51.00,317.08 51.60,317.85 52.20,317.27 52.80,318.61 53.40,316.67 54.00,317.89 54.60,317.18 55.20,317.76 55.80,318.14 56.40,318.62 57.00,317.53 57.60,317.69 58.20,317.31 58.80,319.01 59.40,317.12 60.00,316.97 60.60,317.88 61.20,318.10 61.80,318.86 62.40,317.14 63.00,317.62 63.60,317.39 64.20,318.20 64.80,317.83 65.40,317.64 66.00,318.62 66.60,318.18 67.20,318.67 67.80,318.94 68.40,317.50 69.00,319.00 69.60,317.74 70.20,316.87 70.80,318.68 71.40,316.80 72.00,316.51 72.60,316.99 73.20,316.87 73.80,318.27 74.40,317.32 75.00,315.06 75.60,313.86 76.20,311.82 76.80,308.81 77.40,305.38 78.00,301.92 78.60,297.67 79.20,296.44 79.80,299.03 80.40,301.84 81.00,307.62 81.60,312.25 82.20,315.68 82.80,315.87 83.40,316.99 84.00,319.22 84.60,318.55 85.20,317.75 85.80,318.88 86.40,317.98 87.00,317.97 87.60,318.28 88.20,318.65" fill="none" stroke="#0a0a0a" stroke-width="0.95" stroke-linejoin="round"/>
<line x1="20.40" y1="273.40" x2="90.20" y2="273.40" stroke="#999" stroke-width="0.8"/>
<line x1="90.20" y1="273.40" x2="90.20" y2="319.80" stroke="#777" stroke-width="0.8"/>
<line x1="20.40" y1="273.40" x2="20.40" y2="319.80" stroke="#444" stroke-width="0.9"/>
<line x1="20.40" y1="319.80" x2="90.20" y2="319.80" stroke="#222" stroke-width="1.1"/>
<text x="88.20" y="283.90" font-size="6.1" text-anchor="end" fill="#1a1a1a">Div. Index = 0.11</text>
<text x="100.30" y="278.50" font-size="3.3" text-anchor="end" fill="#666">40</text>
<line x1="101.30" y1="277.40" x2="102.30" y2="277.40" stroke="#444" stroke-width="0.5"/>
<text x="100.30" y="289.10" font-size="3.3" text-anchor="end" fill="#666">30</text>
<line x1="101.30" y1="288.00" x2="102.30" y2="288.00" stroke="#444" stroke-width="0.5"/>
<text x="100.30" y="299.70" font-size="3.3" text-anchor="end" fill="#666">20</text>
<line x1="101.30" y1="298.60" x2="102.30" y2="298.60" stroke="#444" stroke-width="0.5"/>
<text x="100.30" y="310.30" font-size="3.3" text-anchor="end" fill="#666">10</text>
<line x1="101.30" y1="309.20" x2="102.30" y2="309.20" stroke="#444" stroke-width="0.5"/>
<text x="100.30" y="320.90" font-size="3.3" text-anchor="end" fill="#666">0</text>
<line x1="101.30" y1="319.80" x2="102.30" y2="319.80" stroke="#444" stroke-width="0.5"/>
<text x="96.10" y="296.60" font-size="2.8" text-anchor="middle" fill="#777" transform="rotate(-90 96.10 296.60)"># Cells</text>
<line x1="115.01" y1="273.40" x2="115.01" y2="274.70" stroke="#999" stroke-width="0.5"/>
<line x1="119.24" y1="273.40" x2="119.24" y2="274.70" stroke="#999" stroke-width="0.5"/>
<line x1="123.48" y1="273.40" x2="123.48" y2="274.70" stroke="#999" stroke-width="0.5"/>
<line x1="127.72" y1="273.40" x2="127.72" y2="274.70" stroke="#999" stroke-width="0.5"/>
<line x1="131.95" y1="273.40" x2="131.95" y2="274.70" stroke="#999" stroke-width="0.5"/>
<line x1="136.19" y1="273.40" x2="136.19" y2="274.70" stroke="#999" stroke-width="0.5"/>
<line x1="140.42" y1="273.40" x2="140.42" y2="274.70" stroke="#999" stroke-width="0.5"/>
<line x1="144.66" y1="273.40" x2="144.66" y2="274.70" stroke="#999" stroke-width="0.5"/>
<line x1="148.90" y1="273.40" x2="148.90" y2="274.70" stroke="#999" stroke-width="0.5"/>
<text x="110.77" y="325.80" font-size="3.7" text-anchor="middle" fill="#333">0</text>
<text x="116.42" y="325.80" font-size="3.7" text-anchor="middle" fill="#333">10<tspan dy="-1.48" font-size="2.78">2</tspan></text>
<text x="134.07" y="325.80" font-size="3.7" text-anchor="middle" fill="#333">10<tspan dy="-1.48" font-size="2.78">3</tspan></text>
<text x="150.31" y="325.80" font-size="3.7" text-anchor="middle" fill="#333">10<tspan dy="-1.48" font-size="2.78">4</tspan></text>
<text x="165.84" y="325.80" font-size="3.7" text-anchor="middle" fill="#333">10<tspan dy="-1.48" font-size="2.78">5</tspan></text>
<text x="138.60" y="329.60" font-size="3.6" text-anchor="middle" fill="#666">&lt;FITC-A&gt;: CFSE</text>
<polyline points="156.80,319.32 157.08,319.13 157.35,318.88 157.63,318.57 157.90,318.17 158.18,317.68 158.46,317.09 158.73,316.40 159.01,315.60 159.28,314.70 159.56,313.71 159.83,312.65 160.11,311.54 160.38,310.43 160.66,309.34 160.93,308.32 161.21,307.41 161.48,306.66 161.76,306.09 162.03,305.74 162.31,305.62 162.59,305.74 162.86,306.09 163.14,306.66 163.41,307.41 163.69,308.32 163.96,309.34 164.24,310.43 164.51,311.54 164.79,312.65 165.06,313.71 165.34,314.70 165.61,315.60 165.89,316.40 166.16,317.09 166.44,317.68 166.72,318.17 166.99,318.57 167.27,318.88 167.54,319.13 167.82,319.32" fill="none" stroke="#6070c0" stroke-width="0.45" stroke-linejoin="round"/>
<polyline points="102.60,318.77 107.80,318.77 113.75,318.77 119.69,318.48 122.67,318.04 124.89,315.84 126.38,314.38 127.87,311.45 129.35,310.72 130.84,312.91 132.33,314.38 133.81,316.57 135.30,318.04 137.53,317.30 139.76,314.38 141.24,318.04 143.47,318.33 146.45,318.04 149.42,317.30 150.91,315.11 152.39,318.04 153.88,314.38 155.36,318.04 157.59,317.30 159.08,314.38 160.57,308.52 162.05,301.20 163.09,297.54 164.28,302.67 165.47,309.99 166.51,315.84 168.00,318.48 173.20,318.77" fill="none" stroke="#e09090" stroke-width="0.9" stroke-linejoin="round"/>
<polyline points="102.30,319.07 102.90,319.07 103.50,319.07 104.10,319.07 104.70,319.07 105.30,319.07 105.90,319.07 106.50,319.07 107.10,319.07 107.70,319.07 108.30,319.07 108.90,319.07 109.50,319.07 110.10,319.07 110.70,319.07 111.30,319.07 111.90,319.07 112.50,319.07 113.10,319.07 113.70,319.06 114.30,319.03 114.90,319.37 115.50,318.08 116.10,319.44 116.70,319.17 117.30,318.82 117.90,319.21 118.50,319.45 119.10,317.76 119.70,318.68 120.30,319.02 120.90,319.00 121.50,318.78 122.10,317.69 122.70,319.01 123.30,318.06 123.90,316.21 124.50,316.07 125.10,316.75 125.70,314.33 126.30,314.01 126.90,314.30 127.50,313.00 128.10,310.73 128.70,311.86 129.30,310.98 129.90,312.72 130.50,313.87 131.10,312.80 131.70,313.65 132.30,314.38 132.90,315.41 133.50,315.79 134.10,316.64 134.70,317.84 135.30,318.07 135.90,317.12 136.50,318.02 137.10,318.63 137.70,317.16 138.30,315.86 138.90,315.91 139.50,314.62 140.10,315.49 140.70,317.69 141.30,317.35 141.90,318.84 142.50,317.82 143.10,318.34 143.70,319.50 144.30,319.09 144.90,319.18 145.50,318.70 146.10,318.63 146.70,318.64 147.30,319.07 147.90,317.24 148.50,318.34 149.10,317.17 149.70,316.18 150.30,316.63 150.90,316.23 151.50,317.96 152.10,319.12 152.70,317.04 153.30,314.62 153.90,314.29 154.50,317.03 155.10,318.81 155.70,317.63 156.30,316.99 156.90,316.64 157.50,316.46 158.10,316.48 158.70,313.60 159.30,311.89 159.90,309.57 160.50,308.35 161.10,306.43 161.70,299.93 162.30,298.03 162.90,300.11 163.50,302.72 164.10,302.42 164.70,306.85 165.30,311.08 165.90,313.93 166.50,316.46 167.10,317.67 167.70,318.27 168.30,317.88 168.90,317.97 169.50,318.17 170.10,318.06 170.70,319.20 171.30,319.39 171.90,318.91 172.50,317.81" fill="none" stroke="#0a0a0a" stroke-width="0.95" stroke-linejoin="round"/>
<line x1="102.30" y1="273.40" x2="172.90" y2="273.40" stroke="#999" stroke-width="0.8"/>
<line x1="172.90" y1="273.40" x2="172.90" y2="319.80" stroke="#777" stroke-width="0.8"/>
<line x1="102.30" y1="273.40" x2="102.30" y2="319.80" stroke="#444" stroke-width="0.9"/>
<line x1="102.30" y1="319.80" x2="172.90" y2="319.80" stroke="#222" stroke-width="1.1"/>
<text x="170.90" y="283.90" font-size="6.1" text-anchor="end" fill="#1a1a1a">Div. Index = 0.2</text>
<text x="183.40" y="278.50" font-size="3.3" text-anchor="end" fill="#666">40</text>
<line x1="184.40" y1="277.40" x2="185.40" y2="277.40" stroke="#444" stroke-width="0.5"/>
<text x="183.40" y="289.10" font-size="3.3" text-anchor="end" fill="#666">30</text>
<line x1="184.40" y1="288.00" x2="185.40" y2="288.00" stroke="#444" stroke-width="0.5"/>
<text x="183.40" y="299.70" font-size="3.3" text-anchor="end" fill="#666">20</text>
<line x1="184.40" y1="298.60" x2="185.40" y2="298.60" stroke="#444" stroke-width="0.5"/>
<text x="183.40" y="310.30" font-size="3.3" text-anchor="end" fill="#666">10</text>
<line x1="184.40" y1="309.20" x2="185.40" y2="309.20" stroke="#444" stroke-width="0.5"/>
<text x="183.40" y="320.90" font-size="3.3" text-anchor="end" fill="#666">0</text>
<line x1="184.40" y1="319.80" x2="185.40" y2="319.80" stroke="#444" stroke-width="0.5"/>
<text x="179.20" y="296.60" font-size="2.8" text-anchor="middle" fill="#777" transform="rotate(-90 179.20 296.60)"># Cells</text>
<line x1="197.60" y1="273.40" x2="197.60" y2="274.70" stroke="#999" stroke-width="0.5"/>
<line x1="201.67" y1="273.40" x2="201.67" y2="274.70" stroke="#999" stroke-width="0.5"/>
<line x1="205.74" y1="273.40" x2="205.74" y2="274.70" stroke="#999" stroke-width="0.5"/>
<line x1="209.81" y1="273.40" x2="209.81" y2="274.70" stroke="#999" stroke-width="0.5"/>
<line x1="213.88" y1="273.40" x2="213.88" y2="274.70" stroke="#999" stroke-width="0.5"/>
<line x1="217.94" y1="273.40" x2="217.94" y2="274.70" stroke="#999" stroke-width="0.5"/>
<line x1="222.01" y1="273.40" x2="222.01" y2="274.70" stroke="#999" stroke-width="0.5"/>
<line x1="226.08" y1="273.40" x2="226.08" y2="274.70" stroke="#999" stroke-width="0.5"/>
<line x1="230.15" y1="273.40" x2="230.15" y2="274.70" stroke="#999" stroke-width="0.5"/>
<text x="193.54" y="325.80" font-size="3.7" text-anchor="middle" fill="#333">0</text>
<text x="198.96" y="325.80" font-size="3.7" text-anchor="middle" fill="#333">10<tspan dy="-1.48" font-size="2.78">2</tspan></text>
<text x="215.91" y="325.80" font-size="3.7" text-anchor="middle" fill="#333">10<tspan dy="-1.48" font-size="2.78">3</tspan></text>
<text x="231.50" y="325.80" font-size="3.7" text-anchor="middle" fill="#333">10<tspan dy="-1.48" font-size="2.78">4</tspan></text>
<text x="246.42" y="325.80" font-size="3.7" text-anchor="middle" fill="#333">10<tspan dy="-1.48" font-size="2.78">5</tspan></text>
<text x="220.30" y="329.60" font-size="3.6" text-anchor="middle" fill="#666">&lt;FITC-A&gt;: CFSE</text>
<polyline points="206.35,319.57 206.66,319.49 206.97,319.37 207.28,319.22 207.58,319.04 207.89,318.81 208.20,318.53 208.51,318.21 208.82,317.83 209.13,317.41 209.44,316.94 209.74,316.45 210.05,315.93 210.36,315.41 210.67,314.90 210.98,314.42 211.29,313.99 211.59,313.64 211.90,313.37 212.21,313.21 212.52,313.15 212.83,313.21 213.14,313.37 213.45,313.64 213.75,313.99 214.06,314.42 214.37,314.90 214.68,315.41 214.99,315.93 215.30,316.45 215.60,316.94 215.91,317.41 216.22,317.83 216.53,318.21 216.84,318.53 217.15,318.81 217.46,319.04 217.76,319.22 218.07,319.37 218.38,319.49 218.69,319.57" fill="none" stroke="#6070c0" stroke-width="0.45" stroke-linejoin="round"/>
<polyline points="216.52,319.69 216.83,319.65 217.14,319.59 217.45,319.52 217.75,319.42 218.06,319.31 218.37,319.18 218.68,319.02 218.99,318.83 219.30,318.62 219.61,318.39 219.91,318.15 220.22,317.89 220.53,317.64 220.84,317.39 221.15,317.15 221.46,316.94 221.76,316.77 222.07,316.64 222.38,316.55 222.69,316.53 223.00,316.55 223.31,316.64 223.62,316.77 223.92,316.94 224.23,317.15 224.54,317.39 224.85,317.64 225.16,317.89 225.47,318.15 225.77,318.39 226.08,318.62 226.39,318.83 226.70,319.02 227.01,319.18 227.32,319.31 227.63,319.42 227.93,319.52 228.24,319.59 228.55,319.65 228.86,319.69" fill="none" stroke="#6070c0" stroke-width="0.45" stroke-linejoin="round"/>
<polyline points="228.05,319.70 228.35,319.66 228.66,319.61 228.97,319.54 229.28,319.46 229.59,319.35 229.90,319.23 230.21,319.08 230.51,318.91 230.82,318.72 231.13,318.51 231.44,318.29 231.75,318.05 232.06,317.82 232.37,317.59 232.67,317.37 232.98,317.18 233.29,317.02 233.60,316.90 233.91,316.83 234.22,316.80 234.52,316.83 234.83,316.90 235.14,317.02 235.45,317.18 235.76,317.37 236.07,317.59 236.38,317.82 236.68,318.05 236.99,318.29 237.30,318.51 237.61,318.72 237.92,318.91 238.23,319.08 238.53,319.23 238.84,319.35 239.15,319.46 239.46,319.54 239.77,319.61 240.08,319.66 240.39,319.70" fill="none" stroke="#6070c0" stroke-width="0.45" stroke-linejoin="round"/>
<polyline points="236.86,319.28 237.17,319.08 237.48,318.81 237.79,318.47 238.09,318.04 238.40,317.51 238.71,316.88 239.02,316.13 239.33,315.26 239.64,314.29 239.95,313.22 240.25,312.08 240.56,310.88 240.87,309.68 241.18,308.50 241.49,307.40 241.80,306.42 242.10,305.61 242.41,305.00 242.72,304.62 243.03,304.49 243.34,304.62 243.65,305.00 243.96,305.61 244.26,306.42 244.57,307.40 244.88,308.50 245.19,309.68 245.50,310.88 245.81,312.08 246.11,313.22 246.42,314.29 246.73,315.26 247.04,316.13 247.35,316.88 247.66,317.51 247.97,318.04 248.27,318.47 248.58,318.81 248.89,319.08 249.20,319.28" fill="none" stroke="#6070c0" stroke-width="0.45" stroke-linejoin="round"/>
<polyline points="185.70,319.06 190.07,319.06 195.91,319.06 201.74,318.77 204.65,318.34 206.84,316.89 208.30,313.99 209.76,309.64 211.22,306.74 212.24,311.09 213.40,308.92 214.57,312.54 216.03,310.37 217.49,313.99 218.94,311.09 220.40,315.44 222.15,313.99 224.34,316.17 226.53,315.44 228.71,316.60 230.90,315.44 233.09,316.17 235.27,314.71 237.46,312.54 238.92,309.64 240.38,302.39 241.84,295.14 243.29,287.89 244.31,290.79 245.48,300.94 246.65,311.09 247.67,316.17 248.40,316.89 249.56,318.63 253.50,319.06" fill="none" stroke="#e09090" stroke-width="0.9" stroke-linejoin="round"/>
<polyline points="185.40,319.37 186.00,319.37 186.60,319.37 187.20,319.37 187.80,319.37 188.40,319.37 189.00,319.37 189.60,319.37 190.20,319.37 190.80,319.37 191.40,319.37 192.00,319.37 192.60,319.37 193.20,319.37 193.80,319.37 194.40,319.37 195.00,319.37 195.60,319.37 196.20,319.34 196.80,319.31 197.40,319.28 198.00,319.25 198.60,319.22 199.20,319.19 199.80,319.16 200.40,319.13 201.00,319.10 201.60,319.05 202.20,319.44 202.80,318.54 203.40,318.77 204.00,318.04 204.60,319.39 205.20,318.21 205.80,316.69 206.40,316.50 207.00,316.73 207.60,314.80 208.20,314.26 208.80,311.15 209.40,311.00 210.00,309.80 210.60,306.36 211.20,308.52 211.80,309.91 212.40,311.13 213.00,310.33 213.60,311.60 214.20,311.89 214.80,310.92 215.40,311.62 216.00,311.53 216.60,311.86 217.20,313.48 217.80,313.29 218.40,310.78 219.00,312.82 219.60,313.58 220.20,315.08 220.80,314.97 221.40,314.75 222.00,315.01 222.60,313.87 223.20,316.17 223.80,315.57 224.40,315.85 225.00,316.48 225.60,316.40 226.20,316.02 226.80,317.00 227.40,315.67 228.00,316.24 228.60,317.17 229.20,315.92 229.80,315.35 230.40,315.19 231.00,316.52 231.60,316.85 232.20,316.78 232.80,317.53 233.40,316.76 234.00,315.20 234.60,314.81 235.20,315.34 235.80,313.06 236.40,313.88 237.00,311.90 237.60,310.71 238.20,310.81 238.80,307.97 239.40,307.51 240.00,304.46 240.60,299.94 241.20,295.82 241.80,292.39 242.40,291.17 243.00,288.32 243.60,289.23 244.20,293.73 244.80,298.05 245.40,304.16 246.00,307.13 246.60,311.48 247.20,315.36 247.80,316.86 248.40,317.09 249.00,318.90 249.60,318.39 250.20,318.70 250.80,318.38 251.40,318.88 252.00,318.07 252.60,318.77 253.20,318.82" fill="none" stroke="#0a0a0a" stroke-width="0.95" stroke-linejoin="round"/>
<line x1="185.40" y1="273.40" x2="253.20" y2="273.40" stroke="#999" stroke-width="0.8"/>
<line x1="253.20" y1="273.40" x2="253.20" y2="319.80" stroke="#777" stroke-width="0.8"/>
<line x1="185.40" y1="273.40" x2="185.40" y2="319.80" stroke="#444" stroke-width="0.9"/>
<line x1="185.40" y1="319.80" x2="253.20" y2="319.80" stroke="#222" stroke-width="1.1"/>
<text x="251.20" y="283.90" font-size="6.1" text-anchor="end" fill="#1a1a1a">Div. Index = 0.27</text>
<text x="5.60" y="298.10" font-size="6.5" text-anchor="middle" fill="#222" transform="rotate(-90 5.60 298.10)">NKT cells</text>
<line x1="41.00" y1="335.00" x2="229.00" y2="335.00" stroke="#666" stroke-width="0.9"/>
<path d="M231,335 L226.5,333.2 L226.5,336.8 Z" fill="#555"/>
<text x="136.30" y="343.40" font-size="6.1" text-anchor="middle" fill="#2a2a2a">CFSE</text>
<text x="0.87" y="364.15" font-size="11.7" font-weight="bold" stroke="#000" stroke-width="0.45">C</text>
<text x="99.00" y="361.22" font-size="5.6" text-anchor="middle" fill="#333" stroke="#333" stroke-width="0.16">Untreated</text>
<text x="164.00" y="361.22" font-size="5.6" text-anchor="middle" fill="#333" stroke="#333" stroke-width="0.16">Lenalidomide</text>
<text x="229.00" y="361.22" font-size="5.6" text-anchor="middle" fill="#333" stroke="#333" stroke-width="0.16">Pomalidomide</text>
<line x1="10.30" y1="369.00" x2="11.30" y2="369.00" stroke="#666" stroke-width="0.5"/>
<text x="9.10" y="370.00" font-size="2.6" text-anchor="middle" fill="#777" transform="rotate(-90 9.10 370.00)">10<tspan dy="-1.04" font-size="1.95">5</tspan></text>
<line x1="10.30" y1="377.00" x2="11.30" y2="377.00" stroke="#666" stroke-width="0.5"/>
<text x="9.10" y="378.00" font-size="2.6" text-anchor="middle" fill="#777" transform="rotate(-90 9.10 378.00)">10<tspan dy="-1.04" font-size="1.95">5</tspan></text>
<line x1="10.30" y1="385.00" x2="11.30" y2="385.00" stroke="#666" stroke-width="0.5"/>
<text x="9.10" y="386.00" font-size="2.6" text-anchor="middle" fill="#777" transform="rotate(-90 9.10 386.00)">10<tspan dy="-1.04" font-size="1.95">5</tspan></text>
<line x1="10.30" y1="393.00" x2="11.30" y2="393.00" stroke="#666" stroke-width="0.5"/>
<text x="9.10" y="394.00" font-size="2.6" text-anchor="middle" fill="#777" transform="rotate(-90 9.10 394.00)">10<tspan dy="-1.04" font-size="1.95">5</tspan></text>
<line x1="10.30" y1="401.00" x2="11.30" y2="401.00" stroke="#666" stroke-width="0.5"/>
<text x="9.10" y="402.00" font-size="2.6" text-anchor="middle" fill="#777" transform="rotate(-90 9.10 402.00)">0</text>
<line x1="11.30" y1="365.00" x2="55.40" y2="365.00" stroke="#aaa" stroke-width="0.7"/>
<line x1="55.40" y1="365.00" x2="55.40" y2="409.40" stroke="#aaa" stroke-width="0.7"/>
<line x1="11.30" y1="365.00" x2="11.30" y2="409.40" stroke="#444" stroke-width="0.8"/>
<line x1="11.30" y1="409.40" x2="55.40" y2="409.40" stroke="#444" stroke-width="0.9"/>
<rect x="24.40" y="368.00" width="23.20" height="24.40" fill="none" stroke="#e2b4c2" stroke-width="0.55"/>
<g filter="url(#b5)"><rect x="34.2" y="387" width="4" height="22" rx="2" fill="#74aa9c" opacity="0.75"/><rect x="34.6" y="398" width="3.2" height="11" rx="1.6" fill="#7890b0" opacity="0.6"/><rect x="34.8" y="385" width="2.8" height="6" rx="1.4" fill="#90c0b0" opacity="0.45"/></g>
<text x="12.30" y="374.69" font-size="5.8" fill="#222" stroke="#222" stroke-width="0.16">CD4T</text>
<text x="37.30" y="375.40" font-size="6.4" text-anchor="middle" fill="#111" stroke="#111" stroke-width="0.18" letter-spacing="0.6">27</text>
<text x="16.59" y="413.40" font-size="3.0" text-anchor="middle" fill="#666">0</text>
<text x="24.53" y="413.40" font-size="3.0" text-anchor="middle" fill="#666">10<tspan dy="-1.20" font-size="2.25">2</tspan></text>
<text x="33.35" y="413.40" font-size="3.0" text-anchor="middle" fill="#666">10<tspan dy="-1.20" font-size="2.25">3</tspan></text>
<text x="42.17" y="413.40" font-size="3.0" text-anchor="middle" fill="#666">10<tspan dy="-1.20" font-size="2.25">4</tspan></text>
<text x="50.99" y="413.40" font-size="3.0" text-anchor="middle" fill="#666">10<tspan dy="-1.20" font-size="2.25">5</tspan></text>
<text x="36.50" y="419.80" font-size="5.0" text-anchor="middle" fill="#333" stroke="#333" stroke-width="0.14" letter-spacing="0.2">SSC-A</text>
<text x="4.80" y="389.50" font-size="4.6" text-anchor="middle" fill="#333" stroke="#333" stroke-width="0.13" transform="rotate(-90 4.80 389.50)">&lt;PE-Cy5-A&gt;: CD4</text>
<line x1="10.50" y1="461.00" x2="11.50" y2="461.00" stroke="#666" stroke-width="0.5"/>
<line x1="10.50" y1="468.00" x2="11.50" y2="468.00" stroke="#666" stroke-width="0.5"/>
<line x1="10.50" y1="476.00" x2="11.50" y2="476.00" stroke="#666" stroke-width="0.5"/>
<line x1="10.50" y1="484.00" x2="11.50" y2="484.00" stroke="#666" stroke-width="0.5"/>
<line x1="10.50" y1="492.00" x2="11.50" y2="492.00" stroke="#666" stroke-width="0.5"/>
<line x1="11.50" y1="456.60" x2="55.20" y2="456.60" stroke="#aaa" stroke-width="0.7"/>
<line x1="55.20" y1="456.60" x2="55.20" y2="501.00" stroke="#aaa" stroke-width="0.7"/>
<line x1="11.50" y1="456.60" x2="11.50" y2="501.00" stroke="#444" stroke-width="0.8"/>
<line x1="11.50" y1="501.00" x2="55.20" y2="501.00" stroke="#444" stroke-width="0.9"/>
<line x1="12.00" y1="465.00" x2="33.50" y2="465.00" stroke="#e2b4c2" stroke-width="0.55"/>
<line x1="33.50" y1="465.00" x2="33.50" y2="478.50" stroke="#e2b4c2" stroke-width="0.55"/>
<line x1="46.50" y1="465.00" x2="53.80" y2="465.00" stroke="#e2b4c2" stroke-width="0.55"/>
<line x1="46.50" y1="465.00" x2="46.50" y2="501.00" stroke="#e2b4c2" stroke-width="0.55"/>
<line x1="53.80" y1="465.00" x2="53.80" y2="501.00" stroke="#e2b4c2" stroke-width="0.55"/>
<line x1="12.00" y1="480.50" x2="55.00" y2="480.50" stroke="#e2b4c2" stroke-width="0.55"/>
<line x1="42.50" y1="478.00" x2="42.50" y2="501.00" stroke="#bbb" stroke-width="0.5"/>
<g filter="url(#b8)"><ellipse cx="21" cy="484.8" rx="9" ry="2.6" fill="#8aa4c4" opacity="0.75"/><ellipse cx="34" cy="477" rx="9.5" ry="2.2" fill="#a4bcd8" opacity="0.7"/><ellipse cx="40" cy="476.5" rx="3.5" ry="1.6" fill="#7890b0" opacity="0.6"/><ellipse cx="17" cy="477.5" rx="4" ry="1.6" fill="#c0d0e4" opacity="0.6"/><ellipse cx="49.3" cy="485" rx="2.4" ry="2.8" fill="#8a6a58" opacity="0.85"/><ellipse cx="49.3" cy="485.5" rx="1.2" ry="1.5" fill="#6a5040" opacity="0.8"/></g>
<g opacity="0.6" stroke-width="0.90" stroke-linecap="round" fill="none"><path d="M42.8 481.0h0M37.2 484.2h0M21.9 480.0h0M16.2 483.7h0M21.2 480.3h0M39.6 483.2h0M30.7 480.4h0M26.8 486.2h0M29.2 482.2h0M25.0 481.1h0M31.8 484.1h0M28.7 483.3h0M25.5 481.1h0M17.3 479.6h0M15.9 483.6h0M24.3 480.9h0M37.4 485.1h0M32.2 485.4h0M12.7 483.2h0M33.1 487.0h0M31.1 481.6h0M17.0 482.8h0M38.6 482.5h0M23.8 486.8h0M25.5 483.0h0M29.0 484.2h0M32.7 485.1h0M20.5 481.2h0M14.9 482.0h0M37.5 480.8h0M18.4 483.1h0M40.3 483.4h0M14.5 486.4h0M32.5 485.6h0M29.5 484.1h0M22.2 483.4h0M35.6 482.2h0M28.6 483.2h0M17.3 483.8h0M14.1 482.4h0M28.1 480.5h0M21.5 482.9h0" stroke="#9ab8d8"/><path d="M33.0 484.4h0M25.1 483.7h0M13.8 482.4h0M37.5 485.3h0M30.8 480.2h0M21.0 486.0h0M32.9 479.4h0M41.9 480.1h0M27.0 484.7h0M32.4 482.5h0M28.4 481.6h0M17.3 486.2h0M27.5 482.7h0M22.9 484.7h0M23.2 481.8h0M28.7 484.5h0M30.9 482.4h0M28.8 481.0h0M25.9 481.5h0M20.7 484.7h0M34.0 482.6h0M30.3 482.6h0M22.5 481.2h0M15.8 481.4h0M20.2 485.0h0M20.2 481.3h0M25.7 485.7h0M18.7 483.8h0M34.6 486.6h0" stroke="#88a8cc"/><path d="M36.6 485.9h0M43.2 483.9h0M24.0 481.2h0M21.8 483.8h0M20.8 484.0h0M38.0 483.2h0M38.9 482.8h0M14.8 485.6h0M29.2 479.0h0M35.6 482.9h0M36.3 483.0h0M26.5 483.4h0M21.4 482.1h0M28.1 479.4h0M27.7 486.7h0M12.2 480.4h0M25.9 479.8h0M31.6 484.7h0M33.2 483.0h0M19.6 483.3h0M16.6 483.4h0M36.6 482.2h0M22.2 481.7h0M30.9 483.6h0M26.7 481.9h0M16.0 484.3h0M32.9 483.4h0M29.6 483.8h0M28.4 484.8h0M38.5 482.9h0M34.8 481.7h0" stroke="#b0c8e0"/><path d="M22.9 483.3h0M31.1 485.1h0M28.4 484.1h0M25.2 486.3h0M20.8 482.0h0M25.9 478.6h0M26.6 482.6h0M30.2 479.3h0M34.5 482.3h0M28.8 485.1h0M22.6 485.1h0M21.8 485.6h0M28.4 482.5h0M29.2 487.1h0M23.8 482.0h0M21.9 482.6h0M37.6 479.9h0M31.7 483.0h0M20.9 483.0h0M33.3 480.1h0M26.8 484.9h0M25.3 481.2h0M39.5 483.9h0M19.1 485.2h0M27.5 481.9h0M15.2 480.6h0M24.8 484.8h0M35.1 483.6h0M17.8 480.9h0M20.2 481.9h0" stroke="#c0d0e4"/></g>
<g opacity="0.5" stroke-width="0.90" stroke-linecap="round" fill="none"><path d="M17.8 477.0h0M29.7 476.9h0M34.2 475.9h0M25.4 478.4h0M35.5 477.0h0M39.3 476.9h0M29.8 476.9h0M35.1 477.7h0M25.0 475.0h0M32.5 475.9h0M20.7 479.2h0M26.6 477.1h0M32.3 478.9h0M29.0 475.7h0M41.1 476.5h0M27.5 477.7h0M29.8 477.5h0M39.2 475.9h0M31.0 478.6h0M34.2 476.6h0M22.3 476.5h0M30.8 475.1h0M36.5 480.3h0M26.6 479.1h0M25.2 477.5h0M32.6 478.6h0M30.1 476.0h0M22.7 474.1h0M24.5 475.0h0M27.7 480.8h0M36.8 476.8h0M22.6 476.9h0M35.4 477.1h0M34.7 476.4h0M26.4 475.8h0M21.6 476.9h0M36.8 478.9h0M25.4 476.8h0M36.3 478.5h0M35.1 478.4h0M22.3 476.5h0M29.2 476.0h0M31.1 479.3h0M36.0 476.2h0M23.0 479.0h0M30.2 477.4h0M30.2 475.7h0M13.1 478.3h0M27.7 475.6h0M22.0 476.1h0M22.8 476.9h0M16.8 476.7h0M25.2 476.9h0" stroke="#a8c0dc"/><path d="M18.3 476.0h0M26.9 478.2h0M42.2 476.9h0M23.6 475.6h0M38.6 479.3h0M38.0 478.9h0M38.9 476.0h0M23.3 476.1h0M37.6 477.7h0M37.6 477.9h0M32.6 479.0h0M31.1 476.1h0M31.5 474.9h0M14.6 477.8h0M29.4 478.7h0M20.6 474.9h0M16.1 477.4h0M23.3 475.7h0M32.0 478.4h0M34.1 475.0h0M26.6 476.8h0M28.0 477.5h0M36.7 478.4h0M22.4 478.2h0M30.9 475.8h0M34.7 477.8h0M12.0 475.7h0M23.0 478.5h0M35.7 476.5h0M43.7 478.1h0M40.2 478.5h0M41.2 476.9h0M19.1 479.3h0M35.4 475.4h0M32.0 478.0h0M23.9 477.6h0M30.2 477.8h0M35.9 474.8h0" stroke="#b8cce4"/></g>
<text x="24.50" y="463.62" font-size="5.6" text-anchor="middle" fill="#222" stroke="#222" stroke-width="0.16">NK</text>
<text x="49.00" y="463.62" font-size="5.6" text-anchor="middle" fill="#222" stroke="#222" stroke-width="0.16">NKT</text>
<text x="30.50" y="471.16" font-size="6.0" text-anchor="middle" fill="#222" letter-spacing="0.5">13</text>
<text x="50.30" y="471.16" font-size="6.0" text-anchor="middle" fill="#222" stroke="#222" stroke-width="0.17" letter-spacing="0.5">2.1</text>
<text x="34.30" y="498.58" font-size="5.5" text-anchor="middle" fill="#222" stroke="#222" stroke-width="0.15">CD8T</text>
<text x="49.20" y="498.76" font-size="6.0" text-anchor="middle" fill="#222" stroke="#222" stroke-width="0.17" letter-spacing="0.5">25</text>
<text x="16.74" y="505.00" font-size="3.0" text-anchor="middle" fill="#666">0</text>
<text x="24.61" y="505.00" font-size="3.0" text-anchor="middle" fill="#666">10<tspan dy="-1.20" font-size="2.25">2</tspan></text>
<text x="37.72" y="505.00" font-size="3.0" text-anchor="middle" fill="#666">10<tspan dy="-1.20" font-size="2.25">3</tspan></text>
<text x="48.65" y="505.00" font-size="3.0" text-anchor="middle" fill="#666">10<tspan dy="-1.20" font-size="2.25">4</tspan></text>
<text x="35.50" y="510.76" font-size="4.9" text-anchor="middle" fill="#333" stroke="#333" stroke-width="0.14" letter-spacing="0.1">&lt;PE-Cy7-A&gt;: CD8</text>
<text x="4.80" y="479.00" font-size="4.6" text-anchor="middle" fill="#333" stroke="#333" stroke-width="0.13" transform="rotate(-90 4.80 479.00)">&lt;FITC-A&gt;: CD56</text>
<line x1="66.30" y1="382.00" x2="66.30" y2="524.00" stroke="#666" stroke-width="0.7"/>
<path d="M66.3,379 L64.8,383 L67.8,383 Z" fill="#555"/>
<line x1="64.80" y1="524.00" x2="67.80" y2="524.00" stroke="#666" stroke-width="0.6"/>
<text x="60.60" y="441.50" font-size="5.8" text-anchor="middle" fill="#333" transform="rotate(-90 60.60 441.50)">IL-2 PE</text>
<line x1="76.00" y1="369.05" x2="77.00" y2="369.05" stroke="#555" stroke-width="0.5"/>
<line x1="76.00" y1="377.95" x2="77.00" y2="377.95" stroke="#555" stroke-width="0.5"/>
<line x1="76.00" y1="386.85" x2="77.00" y2="386.85" stroke="#555" stroke-width="0.5"/>
<line x1="76.00" y1="396.64" x2="77.00" y2="396.64" stroke="#555" stroke-width="0.5"/>
<line x1="76.00" y1="403.76" x2="77.00" y2="403.76" stroke="#555" stroke-width="0.5"/>
<text x="74.00" y="370.05" font-size="3.0" text-anchor="middle" fill="#444" transform="rotate(-90 74.00 370.05)">10<tspan dy="-1.20" font-size="2.25">5</tspan></text>
<text x="74.00" y="378.95" font-size="3.0" text-anchor="middle" fill="#444" transform="rotate(-90 74.00 378.95)">10<tspan dy="-1.20" font-size="2.25">5</tspan></text>
<text x="74.00" y="387.85" font-size="3.0" text-anchor="middle" fill="#444" transform="rotate(-90 74.00 387.85)">10<tspan dy="-1.20" font-size="2.25">5</tspan></text>
<text x="74.00" y="397.64" font-size="3.0" text-anchor="middle" fill="#444" transform="rotate(-90 74.00 397.64)">10<tspan dy="-1.20" font-size="2.25">5</tspan></text>
<text x="70.50" y="384.85" font-size="2.6" text-anchor="middle" fill="#777" transform="rotate(-90 70.50 384.85)">&lt;PE-A&gt;: IL-2</text>
<line x1="77.00" y1="364.60" x2="121.70" y2="364.60" stroke="#aaa" stroke-width="0.7"/>
<line x1="121.70" y1="364.60" x2="121.70" y2="409.10" stroke="#aaa" stroke-width="0.7"/>
<line x1="77.00" y1="364.60" x2="77.00" y2="409.10" stroke="#444" stroke-width="0.8"/>
<line x1="77.00" y1="409.10" x2="121.70" y2="409.10" stroke="#444" stroke-width="0.9"/>
<rect x="95.50" y="368.40" width="12.70" height="20.60" fill="none" stroke="#e2b4c2" stroke-width="0.55"/>
<g filter="url(#b5)" opacity="0.55"><rect x="101.4" y="377.6" width="0.9" height="29.0" fill="#7a96bc" opacity="0.6"/><ellipse cx="101.8" cy="394.6" rx="1.2" ry="7" fill="#7a96bc"/></g>
<text x="102.35" y="375.49" font-size="5.9" text-anchor="middle" fill="#1a1a1a" letter-spacing="0.3">22</text>
<text x="85.94" y="412.90" font-size="2.8" text-anchor="middle" fill="#555">0</text>
<text x="90.41" y="412.90" font-size="2.8" text-anchor="middle" fill="#555">10<tspan dy="-1.12" font-size="2.10">2</tspan></text>
<text x="101.59" y="412.90" font-size="2.8" text-anchor="middle" fill="#555">10<tspan dy="-1.12" font-size="2.10">3</tspan></text>
<text x="110.53" y="412.90" font-size="2.8" text-anchor="middle" fill="#555">10<tspan dy="-1.12" font-size="2.10">4</tspan></text>
<text x="118.12" y="412.90" font-size="2.8" text-anchor="middle" fill="#555">10<tspan dy="-1.12" font-size="2.10">5</tspan></text>
<text x="101.59" y="415.50" font-size="2.6" text-anchor="middle" fill="#666">SSC-A</text>
<line x1="141.30" y1="369.05" x2="142.30" y2="369.05" stroke="#555" stroke-width="0.5"/>
<line x1="141.30" y1="377.95" x2="142.30" y2="377.95" stroke="#555" stroke-width="0.5"/>
<line x1="141.30" y1="386.85" x2="142.30" y2="386.85" stroke="#555" stroke-width="0.5"/>
<line x1="141.30" y1="396.64" x2="142.30" y2="396.64" stroke="#555" stroke-width="0.5"/>
<line x1="141.30" y1="403.76" x2="142.30" y2="403.76" stroke="#555" stroke-width="0.5"/>
<text x="139.30" y="370.05" font-size="3.0" text-anchor="middle" fill="#444" transform="rotate(-90 139.30 370.05)">10<tspan dy="-1.20" font-size="2.25">5</tspan></text>
<text x="139.30" y="378.95" font-size="3.0" text-anchor="middle" fill="#444" transform="rotate(-90 139.30 378.95)">10<tspan dy="-1.20" font-size="2.25">5</tspan></text>
<text x="139.30" y="387.85" font-size="3.0" text-anchor="middle" fill="#444" transform="rotate(-90 139.30 387.85)">10<tspan dy="-1.20" font-size="2.25">5</tspan></text>
<text x="139.30" y="397.64" font-size="3.0" text-anchor="middle" fill="#444" transform="rotate(-90 139.30 397.64)">10<tspan dy="-1.20" font-size="2.25">5</tspan></text>
<text x="135.80" y="384.85" font-size="2.6" text-anchor="middle" fill="#777" transform="rotate(-90 135.80 384.85)">&lt;PE-A&gt;: IL-2</text>
<line x1="142.30" y1="364.60" x2="186.60" y2="364.60" stroke="#aaa" stroke-width="0.7"/>
<line x1="186.60" y1="364.60" x2="186.60" y2="409.10" stroke="#aaa" stroke-width="0.7"/>
<line x1="142.30" y1="364.60" x2="142.30" y2="409.10" stroke="#444" stroke-width="0.8"/>
<line x1="142.30" y1="409.10" x2="186.60" y2="409.10" stroke="#444" stroke-width="0.9"/>
<rect x="159.50" y="368.40" width="13.70" height="20.60" fill="none" stroke="#e2b4c2" stroke-width="0.55"/>
<g filter="url(#b5)" opacity="0.45"><rect x="165.9" y="378.6" width="0.9" height="26.0" fill="#98a8c8" opacity="0.6"/><ellipse cx="166.4" cy="392.6" rx="1.0" ry="5" fill="#98a8c8"/></g>
<text x="166.85" y="375.49" font-size="5.9" text-anchor="middle" fill="#1a1a1a" letter-spacing="0.3">37</text>
<text x="151.16" y="412.90" font-size="2.8" text-anchor="middle" fill="#555">0</text>
<text x="155.59" y="412.90" font-size="2.8" text-anchor="middle" fill="#555">10<tspan dy="-1.12" font-size="2.10">2</tspan></text>
<text x="166.66" y="412.90" font-size="2.8" text-anchor="middle" fill="#555">10<tspan dy="-1.12" font-size="2.10">3</tspan></text>
<text x="175.53" y="412.90" font-size="2.8" text-anchor="middle" fill="#555">10<tspan dy="-1.12" font-size="2.10">4</tspan></text>
<text x="183.06" y="412.90" font-size="2.8" text-anchor="middle" fill="#555">10<tspan dy="-1.12" font-size="2.10">5</tspan></text>
<text x="166.66" y="415.50" font-size="2.6" text-anchor="middle" fill="#666">SSC-A</text>
<line x1="205.90" y1="369.05" x2="206.90" y2="369.05" stroke="#555" stroke-width="0.5"/>
<line x1="205.90" y1="377.95" x2="206.90" y2="377.95" stroke="#555" stroke-width="0.5"/>
<line x1="205.90" y1="386.85" x2="206.90" y2="386.85" stroke="#555" stroke-width="0.5"/>
<line x1="205.90" y1="396.64" x2="206.90" y2="396.64" stroke="#555" stroke-width="0.5"/>
<line x1="205.90" y1="403.76" x2="206.90" y2="403.76" stroke="#555" stroke-width="0.5"/>
<text x="203.90" y="370.05" font-size="3.0" text-anchor="middle" fill="#444" transform="rotate(-90 203.90 370.05)">10<tspan dy="-1.20" font-size="2.25">5</tspan></text>
<text x="203.90" y="378.95" font-size="3.0" text-anchor="middle" fill="#444" transform="rotate(-90 203.90 378.95)">10<tspan dy="-1.20" font-size="2.25">5</tspan></text>
<text x="203.90" y="387.85" font-size="3.0" text-anchor="middle" fill="#444" transform="rotate(-90 203.90 387.85)">10<tspan dy="-1.20" font-size="2.25">5</tspan></text>
<text x="203.90" y="397.64" font-size="3.0" text-anchor="middle" fill="#444" transform="rotate(-90 203.90 397.64)">10<tspan dy="-1.20" font-size="2.25">5</tspan></text>
<text x="200.40" y="384.85" font-size="2.6" text-anchor="middle" fill="#777" transform="rotate(-90 200.40 384.85)">&lt;PE-A&gt;: IL-2</text>
<line x1="206.90" y1="364.60" x2="251.50" y2="364.60" stroke="#aaa" stroke-width="0.7"/>
<line x1="251.50" y1="364.60" x2="251.50" y2="409.10" stroke="#aaa" stroke-width="0.7"/>
<line x1="206.90" y1="364.60" x2="206.90" y2="409.10" stroke="#444" stroke-width="0.8"/>
<line x1="206.90" y1="409.10" x2="251.50" y2="409.10" stroke="#444" stroke-width="0.9"/>
<rect x="224.50" y="368.40" width="13.80" height="20.60" fill="none" stroke="#e2b4c2" stroke-width="0.55"/>
<g filter="url(#b5)" opacity="0.35"><rect x="231.0" y="379.6" width="0.9" height="25.0" fill="#a8b4cc" opacity="0.6"/><ellipse cx="231.4" cy="394.6" rx="0.9" ry="4" fill="#a8b4cc"/></g>
<text x="231.90" y="375.49" font-size="5.9" text-anchor="middle" fill="#1a1a1a" letter-spacing="0.3">48</text>
<text x="215.82" y="412.90" font-size="2.8" text-anchor="middle" fill="#555">0</text>
<text x="220.28" y="412.90" font-size="2.8" text-anchor="middle" fill="#555">10<tspan dy="-1.12" font-size="2.10">2</tspan></text>
<text x="231.43" y="412.90" font-size="2.8" text-anchor="middle" fill="#555">10<tspan dy="-1.12" font-size="2.10">3</tspan></text>
<text x="240.35" y="412.90" font-size="2.8" text-anchor="middle" fill="#555">10<tspan dy="-1.12" font-size="2.10">4</tspan></text>
<text x="247.93" y="412.90" font-size="2.8" text-anchor="middle" fill="#555">10<tspan dy="-1.12" font-size="2.10">5</tspan></text>
<text x="231.43" y="415.50" font-size="2.6" text-anchor="middle" fill="#666">SSC-A</text>
<line x1="77.20" y1="430.93" x2="78.20" y2="430.93" stroke="#555" stroke-width="0.5"/>
<line x1="77.20" y1="439.79" x2="78.20" y2="439.79" stroke="#555" stroke-width="0.5"/>
<line x1="77.20" y1="448.65" x2="78.20" y2="448.65" stroke="#555" stroke-width="0.5"/>
<line x1="77.20" y1="458.40" x2="78.20" y2="458.40" stroke="#555" stroke-width="0.5"/>
<line x1="77.20" y1="465.48" x2="78.20" y2="465.48" stroke="#555" stroke-width="0.5"/>
<text x="75.20" y="431.93" font-size="3.0" text-anchor="middle" fill="#444" transform="rotate(-90 75.20 431.93)">10<tspan dy="-1.20" font-size="2.25">5</tspan></text>
<text x="75.20" y="440.79" font-size="3.0" text-anchor="middle" fill="#444" transform="rotate(-90 75.20 440.79)">10<tspan dy="-1.20" font-size="2.25">5</tspan></text>
<text x="75.20" y="449.65" font-size="3.0" text-anchor="middle" fill="#444" transform="rotate(-90 75.20 449.65)">10<tspan dy="-1.20" font-size="2.25">5</tspan></text>
<text x="75.20" y="459.40" font-size="3.0" text-anchor="middle" fill="#444" transform="rotate(-90 75.20 459.40)">10<tspan dy="-1.20" font-size="2.25">5</tspan></text>
<text x="71.70" y="446.65" font-size="2.6" text-anchor="middle" fill="#777" transform="rotate(-90 71.70 446.65)">&lt;PE-A&gt;: IL-2</text>
<line x1="78.20" y1="426.50" x2="122.90" y2="426.50" stroke="#aaa" stroke-width="0.7"/>
<line x1="122.90" y1="426.50" x2="122.90" y2="470.80" stroke="#aaa" stroke-width="0.7"/>
<line x1="78.20" y1="426.50" x2="78.20" y2="470.80" stroke="#444" stroke-width="0.8"/>
<line x1="78.20" y1="470.80" x2="122.90" y2="470.80" stroke="#444" stroke-width="0.9"/>
<rect x="96.70" y="430.30" width="12.70" height="20.60" fill="none" stroke="#e2b4c2" stroke-width="0.55"/>
<g filter="url(#b5)" opacity="0.65"><rect x="102.6" y="439.5" width="0.9" height="26.0" fill="#6aa070" opacity="0.6"/><ellipse cx="103.1" cy="457.5" rx="1.3" ry="5" fill="#6aa070"/></g>
<text x="103.55" y="437.39" font-size="5.9" text-anchor="middle" fill="#1a1a1a" letter-spacing="0.3">16</text>
<text x="87.14" y="474.60" font-size="2.8" text-anchor="middle" fill="#555">0</text>
<text x="91.61" y="474.60" font-size="2.8" text-anchor="middle" fill="#555">10<tspan dy="-1.12" font-size="2.10">2</tspan></text>
<text x="102.79" y="474.60" font-size="2.8" text-anchor="middle" fill="#555">10<tspan dy="-1.12" font-size="2.10">3</tspan></text>
<text x="111.73" y="474.60" font-size="2.8" text-anchor="middle" fill="#555">10<tspan dy="-1.12" font-size="2.10">4</tspan></text>
<text x="119.32" y="474.60" font-size="2.8" text-anchor="middle" fill="#555">10<tspan dy="-1.12" font-size="2.10">5</tspan></text>
<text x="102.79" y="477.20" font-size="2.6" text-anchor="middle" fill="#666">SSC-A</text>
<line x1="142.60" y1="430.93" x2="143.60" y2="430.93" stroke="#555" stroke-width="0.5"/>
<line x1="142.60" y1="439.79" x2="143.60" y2="439.79" stroke="#555" stroke-width="0.5"/>
<line x1="142.60" y1="448.65" x2="143.60" y2="448.65" stroke="#555" stroke-width="0.5"/>
<line x1="142.60" y1="458.40" x2="143.60" y2="458.40" stroke="#555" stroke-width="0.5"/>
<line x1="142.60" y1="465.48" x2="143.60" y2="465.48" stroke="#555" stroke-width="0.5"/>
<text x="140.60" y="431.93" font-size="3.0" text-anchor="middle" fill="#444" transform="rotate(-90 140.60 431.93)">10<tspan dy="-1.20" font-size="2.25">5</tspan></text>
<text x="140.60" y="440.79" font-size="3.0" text-anchor="middle" fill="#444" transform="rotate(-90 140.60 440.79)">10<tspan dy="-1.20" font-size="2.25">5</tspan></text>
<text x="140.60" y="449.65" font-size="3.0" text-anchor="middle" fill="#444" transform="rotate(-90 140.60 449.65)">10<tspan dy="-1.20" font-size="2.25">5</tspan></text>
<text x="140.60" y="459.40" font-size="3.0" text-anchor="middle" fill="#444" transform="rotate(-90 140.60 459.40)">10<tspan dy="-1.20" font-size="2.25">5</tspan></text>
<text x="137.10" y="446.65" font-size="2.6" text-anchor="middle" fill="#777" transform="rotate(-90 137.10 446.65)">&lt;PE-A&gt;: IL-2</text>
<line x1="143.60" y1="426.50" x2="187.40" y2="426.50" stroke="#aaa" stroke-width="0.7"/>
<line x1="187.40" y1="426.50" x2="187.40" y2="470.80" stroke="#aaa" stroke-width="0.7"/>
<line x1="143.60" y1="426.50" x2="143.60" y2="470.80" stroke="#444" stroke-width="0.8"/>
<line x1="143.60" y1="470.80" x2="187.40" y2="470.80" stroke="#444" stroke-width="0.9"/>
<rect x="160.80" y="430.30" width="13.70" height="20.60" fill="none" stroke="#e2b4c2" stroke-width="0.55"/>
<g filter="url(#b5)" opacity="0.5"><rect x="167.2" y="443.5" width="0.9" height="20.0" fill="#90a2c0" opacity="0.6"/><ellipse cx="167.6" cy="453.5" rx="1.1" ry="5" fill="#90a2c0"/></g>
<text x="168.15" y="437.39" font-size="5.9" text-anchor="middle" fill="#1a1a1a" letter-spacing="0.3">28</text>
<text x="152.36" y="474.60" font-size="2.8" text-anchor="middle" fill="#555">0</text>
<text x="156.74" y="474.60" font-size="2.8" text-anchor="middle" fill="#555">10<tspan dy="-1.12" font-size="2.10">2</tspan></text>
<text x="167.69" y="474.60" font-size="2.8" text-anchor="middle" fill="#555">10<tspan dy="-1.12" font-size="2.10">3</tspan></text>
<text x="176.45" y="474.60" font-size="2.8" text-anchor="middle" fill="#555">10<tspan dy="-1.12" font-size="2.10">4</tspan></text>
<text x="183.90" y="474.60" font-size="2.8" text-anchor="middle" fill="#555">10<tspan dy="-1.12" font-size="2.10">5</tspan></text>
<text x="167.69" y="477.20" font-size="2.6" text-anchor="middle" fill="#666">SSC-A</text>
<line x1="207.60" y1="430.93" x2="208.60" y2="430.93" stroke="#555" stroke-width="0.5"/>
<line x1="207.60" y1="439.79" x2="208.60" y2="439.79" stroke="#555" stroke-width="0.5"/>
<line x1="207.60" y1="448.65" x2="208.60" y2="448.65" stroke="#555" stroke-width="0.5"/>
<line x1="207.60" y1="458.40" x2="208.60" y2="458.40" stroke="#555" stroke-width="0.5"/>
<line x1="207.60" y1="465.48" x2="208.60" y2="465.48" stroke="#555" stroke-width="0.5"/>
<text x="205.60" y="431.93" font-size="3.0" text-anchor="middle" fill="#444" transform="rotate(-90 205.60 431.93)">10<tspan dy="-1.20" font-size="2.25">5</tspan></text>
<text x="205.60" y="440.79" font-size="3.0" text-anchor="middle" fill="#444" transform="rotate(-90 205.60 440.79)">10<tspan dy="-1.20" font-size="2.25">5</tspan></text>
<text x="205.60" y="449.65" font-size="3.0" text-anchor="middle" fill="#444" transform="rotate(-90 205.60 449.65)">10<tspan dy="-1.20" font-size="2.25">5</tspan></text>
<text x="205.60" y="459.40" font-size="3.0" text-anchor="middle" fill="#444" transform="rotate(-90 205.60 459.40)">10<tspan dy="-1.20" font-size="2.25">5</tspan></text>
<text x="202.10" y="446.65" font-size="2.6" text-anchor="middle" fill="#777" transform="rotate(-90 202.10 446.65)">&lt;PE-A&gt;: IL-2</text>
<line x1="208.60" y1="426.50" x2="253.20" y2="426.50" stroke="#aaa" stroke-width="0.7"/>
<line x1="253.20" y1="426.50" x2="253.20" y2="470.80" stroke="#aaa" stroke-width="0.7"/>
<line x1="208.60" y1="426.50" x2="208.60" y2="470.80" stroke="#444" stroke-width="0.8"/>
<line x1="208.60" y1="470.80" x2="253.20" y2="470.80" stroke="#444" stroke-width="0.9"/>
<rect x="226.20" y="430.30" width="13.80" height="20.60" fill="none" stroke="#e2b4c2" stroke-width="0.55"/>
<g filter="url(#b5)" opacity="0.7"><rect x="232.7" y="436.5" width="0.9" height="28.0" fill="#4a8078" opacity="0.6"/><ellipse cx="233.1" cy="451.5" rx="1.4" ry="8" fill="#4a8078"/></g>
<text x="233.60" y="437.39" font-size="5.9" text-anchor="middle" fill="#1a1a1a" letter-spacing="0.3">33</text>
<text x="217.52" y="474.60" font-size="2.8" text-anchor="middle" fill="#555">0</text>
<text x="221.98" y="474.60" font-size="2.8" text-anchor="middle" fill="#555">10<tspan dy="-1.12" font-size="2.10">2</tspan></text>
<text x="233.13" y="474.60" font-size="2.8" text-anchor="middle" fill="#555">10<tspan dy="-1.12" font-size="2.10">3</tspan></text>
<text x="242.05" y="474.60" font-size="2.8" text-anchor="middle" fill="#555">10<tspan dy="-1.12" font-size="2.10">4</tspan></text>
<text x="249.63" y="474.60" font-size="2.8" text-anchor="middle" fill="#555">10<tspan dy="-1.12" font-size="2.10">5</tspan></text>
<text x="233.13" y="477.20" font-size="2.6" text-anchor="middle" fill="#666">SSC-A</text>
<line x1="77.20" y1="494.84" x2="78.20" y2="494.84" stroke="#555" stroke-width="0.5"/>
<line x1="77.20" y1="503.72" x2="78.20" y2="503.72" stroke="#555" stroke-width="0.5"/>
<line x1="77.20" y1="512.60" x2="78.20" y2="512.60" stroke="#555" stroke-width="0.5"/>
<line x1="77.20" y1="522.37" x2="78.20" y2="522.37" stroke="#555" stroke-width="0.5"/>
<line x1="77.20" y1="529.47" x2="78.20" y2="529.47" stroke="#555" stroke-width="0.5"/>
<text x="75.20" y="495.84" font-size="3.0" text-anchor="middle" fill="#444" transform="rotate(-90 75.20 495.84)">10<tspan dy="-1.20" font-size="2.25">5</tspan></text>
<text x="75.20" y="504.72" font-size="3.0" text-anchor="middle" fill="#444" transform="rotate(-90 75.20 504.72)">10<tspan dy="-1.20" font-size="2.25">5</tspan></text>
<text x="75.20" y="513.60" font-size="3.0" text-anchor="middle" fill="#444" transform="rotate(-90 75.20 513.60)">10<tspan dy="-1.20" font-size="2.25">5</tspan></text>
<text x="75.20" y="523.37" font-size="3.0" text-anchor="middle" fill="#444" transform="rotate(-90 75.20 523.37)">10<tspan dy="-1.20" font-size="2.25">5</tspan></text>
<text x="71.70" y="510.60" font-size="2.6" text-anchor="middle" fill="#777" transform="rotate(-90 71.70 510.60)">&lt;PE-A&gt;: IL-2</text>
<line x1="78.20" y1="490.40" x2="122.70" y2="490.40" stroke="#aaa" stroke-width="0.7"/>
<line x1="122.70" y1="490.40" x2="122.70" y2="534.80" stroke="#aaa" stroke-width="0.7"/>
<line x1="78.20" y1="490.40" x2="78.20" y2="534.80" stroke="#444" stroke-width="0.8"/>
<line x1="78.20" y1="534.80" x2="122.70" y2="534.80" stroke="#444" stroke-width="0.9"/>
<rect x="96.70" y="494.20" width="12.70" height="20.60" fill="none" stroke="#e2b4c2" stroke-width="0.55"/>
<g filter="url(#b5)" opacity="0.35"><rect x="102.6" y="516.4" width="0.9" height="10.0" fill="#a8b0cc" opacity="0.6"/><ellipse cx="103.1" cy="522.4" rx="0.8" ry="2.5" fill="#a8b0cc"/></g>
<text x="103.55" y="501.29" font-size="5.9" text-anchor="middle" fill="#1a1a1a" letter-spacing="0.3">11</text>
<text x="87.10" y="538.60" font-size="2.8" text-anchor="middle" fill="#555">0</text>
<text x="91.55" y="538.60" font-size="2.8" text-anchor="middle" fill="#555">10<tspan dy="-1.12" font-size="2.10">2</tspan></text>
<text x="102.68" y="538.60" font-size="2.8" text-anchor="middle" fill="#555">10<tspan dy="-1.12" font-size="2.10">3</tspan></text>
<text x="111.58" y="538.60" font-size="2.8" text-anchor="middle" fill="#555">10<tspan dy="-1.12" font-size="2.10">4</tspan></text>
<text x="119.14" y="538.60" font-size="2.8" text-anchor="middle" fill="#555">10<tspan dy="-1.12" font-size="2.10">5</tspan></text>
<text x="102.68" y="541.20" font-size="2.6" text-anchor="middle" fill="#666">SSC-A</text>
<line x1="142.60" y1="494.84" x2="143.60" y2="494.84" stroke="#555" stroke-width="0.5"/>
<line x1="142.60" y1="503.72" x2="143.60" y2="503.72" stroke="#555" stroke-width="0.5"/>
<line x1="142.60" y1="512.60" x2="143.60" y2="512.60" stroke="#555" stroke-width="0.5"/>
<line x1="142.60" y1="522.37" x2="143.60" y2="522.37" stroke="#555" stroke-width="0.5"/>
<line x1="142.60" y1="529.47" x2="143.60" y2="529.47" stroke="#555" stroke-width="0.5"/>
<text x="140.60" y="495.84" font-size="3.0" text-anchor="middle" fill="#444" transform="rotate(-90 140.60 495.84)">10<tspan dy="-1.20" font-size="2.25">5</tspan></text>
<text x="140.60" y="504.72" font-size="3.0" text-anchor="middle" fill="#444" transform="rotate(-90 140.60 504.72)">10<tspan dy="-1.20" font-size="2.25">5</tspan></text>
<text x="140.60" y="513.60" font-size="3.0" text-anchor="middle" fill="#444" transform="rotate(-90 140.60 513.60)">10<tspan dy="-1.20" font-size="2.25">5</tspan></text>
<text x="140.60" y="523.37" font-size="3.0" text-anchor="middle" fill="#444" transform="rotate(-90 140.60 523.37)">10<tspan dy="-1.20" font-size="2.25">5</tspan></text>
<text x="137.10" y="510.60" font-size="2.6" text-anchor="middle" fill="#777" transform="rotate(-90 137.10 510.60)">&lt;PE-A&gt;: IL-2</text>
<line x1="143.60" y1="490.40" x2="187.40" y2="490.40" stroke="#aaa" stroke-width="0.7"/>
<line x1="187.40" y1="490.40" x2="187.40" y2="534.80" stroke="#aaa" stroke-width="0.7"/>
<line x1="143.60" y1="490.40" x2="143.60" y2="534.80" stroke="#444" stroke-width="0.8"/>
<line x1="143.60" y1="534.80" x2="187.40" y2="534.80" stroke="#444" stroke-width="0.9"/>
<rect x="160.80" y="494.20" width="13.70" height="20.60" fill="none" stroke="#e2b4c2" stroke-width="0.55"/>
<g filter="url(#b5)" opacity="0.3"><rect x="167.2" y="518.4" width="0.9" height="8.0" fill="#b0b8d0" opacity="0.6"/><ellipse cx="167.6" cy="523.4" rx="0.7" ry="2" fill="#b0b8d0"/></g>
<text x="168.15" y="501.29" font-size="5.9" text-anchor="middle" fill="#1a1a1a" letter-spacing="0.3">14</text>
<text x="152.36" y="538.60" font-size="2.8" text-anchor="middle" fill="#555">0</text>
<text x="156.74" y="538.60" font-size="2.8" text-anchor="middle" fill="#555">10<tspan dy="-1.12" font-size="2.10">2</tspan></text>
<text x="167.69" y="538.60" font-size="2.8" text-anchor="middle" fill="#555">10<tspan dy="-1.12" font-size="2.10">3</tspan></text>
<text x="176.45" y="538.60" font-size="2.8" text-anchor="middle" fill="#555">10<tspan dy="-1.12" font-size="2.10">4</tspan></text>
<text x="183.90" y="538.60" font-size="2.8" text-anchor="middle" fill="#555">10<tspan dy="-1.12" font-size="2.10">5</tspan></text>
<text x="167.69" y="541.20" font-size="2.6" text-anchor="middle" fill="#666">SSC-A</text>
<line x1="207.60" y1="494.84" x2="208.60" y2="494.84" stroke="#555" stroke-width="0.5"/>
<line x1="207.60" y1="503.72" x2="208.60" y2="503.72" stroke="#555" stroke-width="0.5"/>
<line x1="207.60" y1="512.60" x2="208.60" y2="512.60" stroke="#555" stroke-width="0.5"/>
<line x1="207.60" y1="522.37" x2="208.60" y2="522.37" stroke="#555" stroke-width="0.5"/>
<line x1="207.60" y1="529.47" x2="208.60" y2="529.47" stroke="#555" stroke-width="0.5"/>
<text x="205.60" y="495.84" font-size="3.0" text-anchor="middle" fill="#444" transform="rotate(-90 205.60 495.84)">10<tspan dy="-1.20" font-size="2.25">5</tspan></text>
<text x="205.60" y="504.72" font-size="3.0" text-anchor="middle" fill="#444" transform="rotate(-90 205.60 504.72)">10<tspan dy="-1.20" font-size="2.25">5</tspan></text>
<text x="205.60" y="513.60" font-size="3.0" text-anchor="middle" fill="#444" transform="rotate(-90 205.60 513.60)">10<tspan dy="-1.20" font-size="2.25">5</tspan></text>
<text x="205.60" y="523.37" font-size="3.0" text-anchor="middle" fill="#444" transform="rotate(-90 205.60 523.37)">10<tspan dy="-1.20" font-size="2.25">5</tspan></text>
<text x="202.10" y="510.60" font-size="2.6" text-anchor="middle" fill="#777" transform="rotate(-90 202.10 510.60)">&lt;PE-A&gt;: IL-2</text>
<line x1="208.60" y1="490.40" x2="252.60" y2="490.40" stroke="#aaa" stroke-width="0.7"/>
<line x1="252.60" y1="490.40" x2="252.60" y2="534.80" stroke="#aaa" stroke-width="0.7"/>
<line x1="208.60" y1="490.40" x2="208.60" y2="534.80" stroke="#444" stroke-width="0.8"/>
<line x1="208.60" y1="534.80" x2="252.60" y2="534.80" stroke="#444" stroke-width="0.9"/>
<rect x="226.20" y="494.20" width="13.80" height="20.60" fill="none" stroke="#e2b4c2" stroke-width="0.55"/>
<g filter="url(#b5)" opacity="0.35"><rect x="232.7" y="517.4" width="0.9" height="9.0" fill="#a8b0cc" opacity="0.6"/><ellipse cx="233.1" cy="523.4" rx="0.8" ry="2.5" fill="#a8b0cc"/></g>
<text x="233.60" y="501.29" font-size="5.9" text-anchor="middle" fill="#1a1a1a" letter-spacing="0.3">20</text>
<text x="217.40" y="538.60" font-size="2.8" text-anchor="middle" fill="#555">0</text>
<text x="221.80" y="538.60" font-size="2.8" text-anchor="middle" fill="#555">10<tspan dy="-1.12" font-size="2.10">2</tspan></text>
<text x="232.80" y="538.60" font-size="2.8" text-anchor="middle" fill="#555">10<tspan dy="-1.12" font-size="2.10">3</tspan></text>
<text x="241.60" y="538.60" font-size="2.8" text-anchor="middle" fill="#555">10<tspan dy="-1.12" font-size="2.10">4</tspan></text>
<text x="249.08" y="538.60" font-size="2.8" text-anchor="middle" fill="#555">10<tspan dy="-1.12" font-size="2.10">5</tspan></text>
<text x="232.80" y="541.20" font-size="2.6" text-anchor="middle" fill="#666">SSC-A</text>
<text x="163.50" y="423.65" font-size="5.7" text-anchor="middle" fill="#2a2a2a">CD4 PE-Cy5+ T cells</text>
<text x="163.30" y="485.05" font-size="5.7" text-anchor="middle" fill="#2a2a2a">CD8 PE-Cy7+ T cells</text>
<text x="164.50" y="550.00" font-size="5.55" text-anchor="middle" fill="#2a2a2a">CD56 FITC+CD8 PE-Cy7+ NKT cells</text>
<text x="266.57" y="10.55" font-size="11.7" font-weight="bold" stroke="#000" stroke-width="0.45">D</text>
<text x="301.50" y="207.80" font-size="8.0" text-anchor="end" fill="#222" letter-spacing="0.35">0</text>
<text x="301.50" y="184.72" font-size="8.0" text-anchor="end" fill="#222" letter-spacing="0.35">2000</text>
<text x="301.50" y="161.65" font-size="8.0" text-anchor="end" fill="#222" letter-spacing="0.35">4000</text>
<text x="301.50" y="138.57" font-size="8.0" text-anchor="end" fill="#222" letter-spacing="0.35">6000</text>
<text x="301.50" y="115.50" font-size="8.0" text-anchor="end" fill="#222" letter-spacing="0.35">8000</text>
<text x="301.50" y="92.42" font-size="8.0" text-anchor="end" fill="#222" letter-spacing="0.35">10000</text>
<text x="301.50" y="69.35" font-size="8.0" text-anchor="end" fill="#222" letter-spacing="0.35">12000</text>
<text x="301.50" y="46.27" font-size="8.0" text-anchor="end" fill="#222" letter-spacing="0.35">14000</text>
<text x="301.50" y="23.20" font-size="8.0" text-anchor="end" fill="#222" letter-spacing="0.35">16000</text>
<line x1="309.00" y1="18.60" x2="309.00" y2="203.20" stroke="#eee" stroke-width="0.6"/>
<line x1="309.00" y1="203.50" x2="512.00" y2="203.50" stroke="#eee" stroke-width="0.6"/>
<text x="272.50" y="111.00" font-size="8.0" text-anchor="middle" fill="#222" letter-spacing="0.35" transform="rotate(-90 272.50 111.00)">pixel density</text>
<line x1="328.05" y1="172.60" x2="328.05" y2="171.40" stroke="#222" stroke-width="0.9"/>
<line x1="325.65" y1="171.40" x2="330.45" y2="171.40" stroke="#222" stroke-width="0.9"/>
<rect x="320.40" y="172.60" width="15.30" height="30.30" fill="#ffffff" stroke="#444" stroke-width="0.8"/>
<line x1="343.35" y1="144.00" x2="343.35" y2="141.00" stroke="#222" stroke-width="0.9"/>
<line x1="340.95" y1="141.00" x2="345.75" y2="141.00" stroke="#222" stroke-width="0.9"/>
<rect x="335.70" y="144.00" width="15.30" height="58.90" fill="#868686" stroke="#444" stroke-width="0.8"/>
<line x1="358.65" y1="110.00" x2="358.65" y2="98.40" stroke="#222" stroke-width="0.9"/>
<line x1="356.25" y1="98.40" x2="361.05" y2="98.40" stroke="#222" stroke-width="0.9"/>
<rect x="351.00" y="110.00" width="15.30" height="92.90" fill="#333333" stroke="#444" stroke-width="0.8"/>
<rect x="388.40" y="168.00" width="15.20" height="34.90" fill="#ffffff" stroke="#444" stroke-width="0.8"/>
<line x1="411.20" y1="40.00" x2="411.20" y2="27.00" stroke="#222" stroke-width="0.9"/>
<line x1="408.80" y1="27.00" x2="413.60" y2="27.00" stroke="#222" stroke-width="0.9"/>
<rect x="403.60" y="40.00" width="15.20" height="162.90" fill="#868686" stroke="#444" stroke-width="0.8"/>
<line x1="426.40" y1="56.40" x2="426.40" y2="55.20" stroke="#222" stroke-width="0.9"/>
<line x1="424.00" y1="55.20" x2="428.80" y2="55.20" stroke="#222" stroke-width="0.9"/>
<rect x="418.80" y="56.40" width="15.20" height="146.50" fill="#333333" stroke="#444" stroke-width="0.8"/>
<line x1="463.33" y1="181.00" x2="463.33" y2="179.59" stroke="#222" stroke-width="0.9"/>
<line x1="460.93" y1="179.59" x2="465.73" y2="179.59" stroke="#222" stroke-width="0.9"/>
<rect x="455.60" y="181.00" width="15.45" height="21.90" fill="#ffffff" stroke="#444" stroke-width="0.8"/>
<line x1="478.78" y1="187.60" x2="478.78" y2="181.00" stroke="#222" stroke-width="0.9"/>
<line x1="476.38" y1="181.00" x2="481.18" y2="181.00" stroke="#222" stroke-width="0.9"/>
<rect x="471.05" y="187.60" width="15.45" height="15.30" fill="#868686" stroke="#444" stroke-width="0.8"/>
<rect x="486.50" y="196.00" width="15.45" height="6.90" fill="#333333" stroke="#444" stroke-width="0.8"/>
<text x="344.00" y="135.90" font-size="8.5" text-anchor="middle" fill="#222" stroke="#222" stroke-width="0.24">*</text>
<text x="358.60" y="93.20" font-size="8.5" text-anchor="middle" fill="#222" stroke="#222" stroke-width="0.24">*</text>
<text x="411.40" y="23.00" font-size="8.5" text-anchor="middle" fill="#222" stroke="#222" stroke-width="0.24">*</text>
<text x="425.60" y="50.20" font-size="8.5" text-anchor="middle" fill="#222" stroke="#222" stroke-width="0.24">*</text>
<text x="494.00" y="191.80" font-size="8.5" text-anchor="middle" fill="#222" stroke="#222" stroke-width="0.24">*</text>
<text x="347.00" y="221.75" font-size="8.2" text-anchor="middle" fill="#222" letter-spacing="1.2">IFNγ</text>
<text x="411.50" y="221.75" font-size="8.2" text-anchor="middle" fill="#222" letter-spacing="1.2">IL-2</text>
<text x="479.00" y="221.75" font-size="8.2" text-anchor="middle" fill="#222" letter-spacing="1.2">IL-6</text>
<rect x="457.00" y="85.20" width="5.00" height="5.00" fill="#fff" stroke="#333" stroke-width="0.8"/>
<text x="464.60" y="92.38" font-size="8.0" fill="#222" letter-spacing="0.35">Untreated</text>
<rect x="457.00" y="98.70" width="5.00" height="5.00" fill="#868686" stroke="#333" stroke-width="0.8"/>
<text x="464.60" y="105.88" font-size="8.0" fill="#222" letter-spacing="0.35">Lenalidomide</text>
<rect x="457.00" y="112.20" width="5.00" height="5.00" fill="#2a2a2a" stroke="#333" stroke-width="0.8"/>
<text x="464.60" y="119.38" font-size="8.0" fill="#222" letter-spacing="0.35">Pomalidomide</text>
<text x="459.80" y="132.40" font-size="8.0" text-anchor="middle" fill="#222" stroke="#222" stroke-width="0.22">*</text>
<text x="465" y="131.81" font-size="7.8" fill="#222" letter-spacing="0.2"><tspan font-style="italic">P</tspan>&lt;<tspan font-size="4"> </tspan>.05</text>
<text x="265.77" y="244.25" font-size="11.7" font-weight="bold" stroke="#000" stroke-width="0.45">E</text>
<text x="313.00" y="241.38" font-size="6.6" text-anchor="middle" fill="#333" stroke="#333" stroke-width="0.18" letter-spacing="0.1">Untreated</text>
<text x="397.50" y="241.38" font-size="6.6" text-anchor="middle" fill="#333" stroke="#333" stroke-width="0.18" letter-spacing="0.1">Lenalidomide</text>
<text x="487.00" y="241.38" font-size="6.6" text-anchor="middle" fill="#333" stroke="#333" stroke-width="0.18" letter-spacing="0.1">Pomalidomide</text>
<text x="278.40" y="255.50" font-size="4.2" text-anchor="end" fill="#333">10<tspan dy="-1.68" font-size="3.15">4</tspan></text>
<line x1="279.00" y1="254.00" x2="280.00" y2="254.00" stroke="#333" stroke-width="0.5"/>
<text x="278.40" y="270.50" font-size="4.2" text-anchor="end" fill="#333">10<tspan dy="-1.68" font-size="3.15">3</tspan></text>
<line x1="279.00" y1="269.00" x2="280.00" y2="269.00" stroke="#333" stroke-width="0.5"/>
<text x="278.40" y="286.50" font-size="4.2" text-anchor="end" fill="#333">10<tspan dy="-1.68" font-size="3.15">2</tspan></text>
<line x1="279.00" y1="285.00" x2="280.00" y2="285.00" stroke="#333" stroke-width="0.5"/>
<text x="278.40" y="303.50" font-size="4.2" text-anchor="end" fill="#333">10<tspan dy="-1.68" font-size="3.15">1</tspan></text>
<line x1="279.00" y1="302.00" x2="280.00" y2="302.00" stroke="#333" stroke-width="0.5"/>
<text x="278.40" y="311.50" font-size="4.2" text-anchor="end" fill="#333">0</text>
<line x1="279.00" y1="310.00" x2="280.00" y2="310.00" stroke="#333" stroke-width="0.5"/>
<g filter="url(#b8)"><ellipse cx="301.6" cy="302" rx="12" ry="12" fill="#eef1f6" opacity="0.8"/><ellipse cx="310.6" cy="295" rx="5.5" ry="13" fill="#c0cad8" opacity="0.75"/><ellipse cx="311.1" cy="291" rx="3.4" ry="8" fill="#8e9cae" opacity="0.55"/></g>
<g opacity="0.55" stroke-width="0.80" stroke-linecap="round" fill="none"><path d="M289.8 306.8h0M303.7 303.4h0M292.5 298.7h0M281.3 291.7h0M304.1 288.3h0M306.0 306.6h0M309.1 300.8h0M297.2 296.8h0M307.0 303.8h0M294.2 300.2h0M292.9 315.6h0M308.1 309.2h0M295.2 303.3h0M308.4 311.1h0M305.7 291.5h0M307.2 315.5h0M296.2 312.4h0M305.8 307.7h0M313.2 303.8h0M296.5 314.4h0M283.6 289.2h0M305.2 307.1h0M291.8 313.7h0M300.0 309.4h0M299.1 297.4h0M295.0 294.7h0M284.8 307.8h0M298.9 297.7h0M310.3 305.8h0M304.9 305.7h0M317.1 297.0h0M305.6 308.2h0M298.4 305.6h0M310.3 310.6h0M290.5 300.8h0" stroke="#a8bad6"/><path d="M301.2 311.0h0M309.1 310.7h0M288.1 310.3h0M308.1 293.4h0M306.5 307.2h0M311.9 299.8h0M305.8 307.3h0M292.0 294.0h0M292.3 301.8h0M304.4 293.7h0M300.0 296.6h0M288.0 304.2h0M302.5 300.6h0M299.5 306.5h0M305.6 301.2h0M298.9 304.3h0M308.6 301.3h0M305.9 306.6h0M295.8 291.9h0M303.4 312.1h0M299.1 307.1h0M296.5 301.7h0M301.8 301.3h0M290.1 304.6h0M316.4 309.1h0M305.6 306.3h0M300.7 302.7h0M286.8 297.9h0M305.1 304.0h0M300.0 313.5h0M296.3 313.2h0M290.5 302.4h0M310.4 307.4h0M285.0 298.7h0M305.4 289.9h0M295.7 294.2h0M302.6 293.4h0M300.1 286.9h0M308.5 297.6h0M301.8 296.8h0M292.9 302.9h0M290.3 298.5h0M297.1 304.9h0M297.9 286.9h0M318.9 303.9h0M293.3 294.1h0M308.5 280.9h0M296.1 288.8h0M312.9 293.7h0M297.6 289.4h0M298.8 292.5h0M304.0 290.3h0M294.3 307.7h0" stroke="#b8c6de"/><path d="M298.7 298.9h0M302.0 310.0h0M303.8 300.2h0M300.5 305.7h0M314.0 296.1h0M302.7 304.1h0M307.4 309.4h0M308.2 291.1h0M294.6 301.3h0M293.6 299.8h0M312.9 292.5h0M301.0 312.6h0M298.9 315.7h0M299.3 302.3h0M303.3 286.9h0M314.0 300.2h0M294.8 308.2h0M305.4 301.4h0M296.2 294.5h0M300.3 306.9h0M301.7 299.5h0M295.6 291.1h0M298.1 311.6h0M317.3 303.7h0M313.4 309.8h0M317.2 284.3h0M293.2 308.8h0M293.4 303.8h0M296.8 304.7h0M299.3 290.4h0M308.2 313.3h0M303.3 290.3h0M289.6 306.6h0M302.0 305.4h0M295.8 312.5h0M290.8 303.6h0M296.0 295.8h0M300.5 305.4h0M300.7 302.1h0M301.6 307.9h0M310.6 310.8h0M301.2 304.1h0M284.9 311.7h0M302.0 310.2h0M295.9 292.5h0M295.2 293.3h0M307.3 305.7h0M301.9 301.8h0M290.2 290.6h0M307.3 287.2h0M299.7 300.6h0M297.5 291.4h0M303.8 299.5h0M296.7 305.7h0M291.4 290.0h0M304.4 298.2h0" stroke="#a0b0ca"/><path d="M311.0 308.4h0M297.4 307.4h0M300.0 306.9h0M303.0 302.1h0M306.5 305.5h0M298.6 307.0h0M302.2 289.6h0M298.5 286.2h0M297.3 302.9h0M309.1 301.1h0M292.5 292.8h0M288.8 300.2h0M302.5 296.6h0M292.9 302.6h0M295.9 304.3h0M296.7 301.8h0M293.1 305.0h0M299.7 302.8h0M301.7 312.6h0M294.1 294.8h0M315.8 295.8h0M297.6 314.1h0M302.1 309.8h0M292.4 295.9h0M299.9 305.3h0M304.8 295.6h0M296.2 309.1h0M296.5 288.9h0M300.2 298.1h0M294.4 290.4h0M288.4 296.6h0M304.2 307.6h0M305.8 299.9h0M301.5 307.5h0M313.8 304.2h0M294.8 315.3h0M295.2 300.7h0M302.4 307.1h0M297.3 315.8h0M307.3 301.8h0M290.6 296.0h0" stroke="#98aacc"/></g>
<g opacity="0.6" stroke-width="0.84" stroke-linecap="round" fill="none"><path d="M306.4 303.8h0M314.8 297.3h0M305.6 299.8h0M305.0 291.1h0M305.2 286.6h0M308.5 303.1h0M305.9 294.3h0M307.3 301.7h0M308.0 283.9h0M317.6 287.9h0M314.1 288.0h0M311.9 314.1h0M314.1 288.2h0M311.9 280.6h0M303.3 281.8h0M309.3 298.4h0M310.4 311.5h0M311.3 301.6h0M303.9 298.2h0M312.9 306.4h0M311.3 294.2h0M318.9 302.4h0M305.6 280.9h0M313.6 284.5h0M310.0 299.3h0M311.6 299.0h0M314.4 299.3h0M310.4 288.1h0M316.2 282.0h0M315.8 288.2h0M308.8 297.8h0M306.5 292.2h0M311.1 291.9h0M304.0 310.3h0M309.2 299.2h0M310.7 291.3h0M309.1 301.2h0M311.9 279.4h0M308.7 310.3h0M306.4 290.7h0M308.6 281.8h0M302.4 299.0h0M310.5 295.1h0M308.4 292.1h0M311.5 287.5h0M318.1 297.8h0M309.6 306.8h0M313.1 302.2h0M311.6 279.1h0M305.7 301.7h0M306.4 290.7h0M313.1 291.1h0M310.3 292.2h0M312.6 300.0h0M301.5 299.3h0M311.2 288.4h0M316.2 305.5h0M312.1 284.5h0M305.6 300.1h0M310.0 306.5h0M311.0 289.0h0M308.0 292.7h0M308.7 296.8h0M318.7 297.0h0M313.0 276.0h0M302.9 302.0h0M314.0 311.4h0M302.6 305.2h0M314.6 314.9h0M309.0 286.1h0M311.6 290.3h0M312.2 297.6h0M318.0 293.3h0M317.2 293.1h0M303.1 300.5h0M306.8 283.2h0M309.7 294.2h0M307.6 284.9h0M308.2 297.1h0M308.6 277.9h0M309.7 300.1h0M309.3 286.0h0M303.5 299.5h0M310.4 274.3h0M309.4 283.1h0M310.9 282.3h0M306.9 301.8h0" stroke="#587888"/><path d="M313.4 304.9h0M316.3 305.8h0M312.0 286.2h0M315.4 309.1h0M316.8 304.2h0M304.9 297.2h0M313.1 296.7h0M313.3 292.8h0M318.5 296.6h0M309.7 291.2h0M316.8 297.1h0M312.0 303.3h0M311.1 291.8h0M307.6 306.9h0M311.7 295.2h0M318.2 298.2h0M313.5 286.0h0M308.1 301.0h0M312.4 281.0h0M316.1 292.3h0M311.5 288.0h0M310.7 307.0h0M312.8 293.3h0M314.6 311.4h0M309.9 298.4h0M308.8 292.5h0M316.2 304.8h0M310.7 309.8h0M309.2 291.5h0M309.0 301.3h0M305.5 309.9h0M308.2 297.2h0M306.6 298.6h0M299.5 307.6h0M309.8 307.2h0M309.9 295.9h0M311.3 304.5h0M306.5 305.6h0M306.8 289.6h0M310.5 292.3h0M313.7 299.2h0M308.3 289.3h0M313.7 294.2h0M313.7 311.7h0M305.8 286.7h0M314.9 295.9h0M315.3 268.3h0M305.7 302.4h0M308.0 305.0h0M310.6 308.1h0M311.0 307.4h0M312.6 308.1h0M308.3 294.4h0M315.2 296.5h0M310.6 292.0h0M310.0 293.9h0M310.9 294.7h0M308.8 298.0h0M313.8 310.4h0M311.3 290.0h0M309.8 299.7h0M311.3 299.0h0M314.4 306.8h0M307.6 283.9h0M313.5 302.6h0M308.0 302.6h0M303.5 301.0h0M314.6 303.8h0M308.1 298.2h0M307.4 291.1h0M306.9 301.5h0M310.0 309.9h0M312.3 290.1h0M306.7 303.8h0M308.3 294.8h0M305.2 292.5h0M313.1 288.8h0M305.3 276.5h0M308.6 281.3h0M306.4 272.6h0M309.2 287.3h0M311.5 293.8h0M315.1 284.7h0M307.8 307.7h0M307.3 308.5h0M308.9 295.8h0M309.2 302.0h0M313.3 284.1h0" stroke="#7084a8"/><path d="M312.5 301.4h0M305.9 300.7h0M313.7 295.7h0M306.7 306.8h0M308.4 312.1h0M307.4 301.1h0M303.1 299.1h0M309.1 303.9h0M313.9 282.7h0M311.0 290.7h0M303.6 289.4h0M311.5 299.4h0M309.4 295.3h0M314.6 292.1h0M311.6 281.9h0M314.5 276.1h0M313.8 297.8h0M310.9 287.5h0M312.7 294.3h0M308.2 309.0h0M312.5 282.2h0M315.8 309.9h0M308.5 298.6h0M314.0 289.5h0M300.4 298.6h0M305.3 308.3h0M307.8 284.0h0M312.3 274.5h0M318.7 287.8h0M305.4 295.1h0M309.0 309.7h0M308.1 295.3h0M313.7 300.2h0M315.6 306.2h0M311.1 302.1h0M309.2 292.1h0M308.9 284.7h0M309.1 292.3h0M311.9 289.4h0M310.5 297.9h0M308.0 296.6h0M298.6 292.6h0M311.7 298.3h0M302.4 297.0h0M310.8 286.5h0M312.6 294.3h0M313.1 291.0h0M308.7 296.7h0M306.9 289.4h0M307.3 297.8h0M308.8 285.0h0M308.9 310.0h0M312.6 291.7h0M307.9 293.9h0M307.2 292.2h0M310.1 299.4h0M309.8 308.6h0M308.9 301.7h0M314.1 296.0h0M312.0 295.6h0M309.7 299.9h0M305.6 289.4h0M312.4 295.5h0M309.5 278.5h0M304.7 309.3h0M318.2 295.6h0" stroke="#6a7ea4"/><path d="M311.1 296.3h0M314.2 289.3h0M308.6 310.0h0M310.9 299.1h0M305.4 290.6h0M311.3 292.4h0M304.1 283.5h0M308.6 298.7h0M311.5 303.8h0M313.8 293.5h0M310.2 305.0h0M314.5 300.0h0M311.7 303.6h0M307.8 287.6h0M305.7 295.0h0M306.5 295.5h0M307.9 304.0h0M307.7 315.3h0M307.9 271.7h0M314.4 307.6h0M302.1 282.1h0M311.0 291.9h0M313.7 282.0h0M312.9 301.3h0M308.4 294.7h0M311.7 288.3h0M310.9 310.4h0M311.6 303.2h0M316.6 302.4h0M308.8 308.2h0M309.1 298.6h0M313.5 287.6h0M309.8 279.7h0M308.0 287.9h0M311.1 303.5h0M308.1 292.4h0M309.3 297.2h0M311.9 301.0h0M309.0 289.1h0M308.4 291.0h0M314.6 294.2h0M307.3 307.2h0M307.8 304.5h0M306.1 293.7h0M308.2 293.9h0M312.1 307.0h0M309.6 298.1h0M301.0 307.3h0M312.2 293.9h0M309.1 283.8h0M305.3 295.1h0M310.3 299.2h0M308.6 292.3h0M306.9 290.1h0M311.2 296.0h0M314.7 284.1h0M314.8 306.3h0M307.9 298.6h0M305.9 316.0h0M308.0 307.1h0M312.7 305.5h0M312.7 302.9h0M307.9 281.1h0M307.9 275.3h0M310.3 314.4h0M308.1 294.6h0M309.5 295.6h0M312.9 301.0h0M310.8 304.6h0M305.3 290.3h0M308.5 309.8h0M308.5 296.7h0M311.7 286.9h0M318.2 307.0h0M306.0 281.0h0M311.8 293.6h0M305.8 291.0h0M309.9 292.6h0" stroke="#5a6e92"/><path d="M311.4 296.2h0M309.1 287.6h0M307.6 298.1h0M308.3 306.3h0M307.7 302.3h0M313.5 292.3h0M311.3 289.9h0M306.2 280.4h0M306.4 302.5h0M317.4 291.2h0M309.9 291.4h0M317.8 306.1h0M308.4 294.1h0M308.2 299.2h0M315.7 304.2h0M312.2 291.6h0M308.5 298.9h0M307.4 291.4h0M305.7 274.9h0M306.4 298.7h0M309.8 299.4h0M315.5 284.0h0M306.0 303.8h0M318.0 291.0h0M306.3 295.1h0M309.0 292.1h0M318.5 300.8h0M308.7 311.2h0M315.3 289.4h0M305.7 298.2h0M314.0 280.9h0M317.4 292.8h0M315.9 287.7h0M309.0 277.9h0M314.7 290.9h0M310.5 299.7h0M308.9 281.4h0M306.4 298.7h0M312.0 301.8h0M311.0 309.0h0M307.2 295.1h0M316.5 292.5h0M311.2 313.1h0M317.5 305.0h0M311.3 293.3h0M306.3 295.1h0M307.8 286.8h0M309.3 289.1h0M313.9 293.1h0M313.6 291.9h0M306.8 295.1h0M311.4 293.3h0M307.9 304.4h0M311.9 287.2h0M317.6 304.5h0M310.4 297.4h0M310.6 297.4h0M305.0 298.6h0M317.0 306.3h0M306.4 281.1h0M313.3 298.0h0M310.4 303.4h0M307.1 301.7h0M311.4 296.9h0M308.3 285.2h0M304.7 282.5h0M312.2 302.5h0M318.0 294.8h0M303.5 272.3h0M309.8 294.1h0M310.4 307.2h0M305.0 305.4h0M318.1 289.2h0M311.8 294.7h0M317.4 276.0h0M306.1 294.0h0M314.6 291.8h0M306.8 303.4h0M316.5 278.0h0M317.7 299.4h0M314.3 315.1h0M313.3 305.2h0M314.3 304.8h0M308.0 286.3h0M306.3 289.1h0" stroke="#60806e"/></g>
<g opacity="0.55" stroke-width="0.84" stroke-linecap="round" fill="none"><path d="M315.3 287.4h0M312.7 291.4h0M311.7 295.5h0M309.0 291.2h0M315.0 281.9h0M312.8 286.8h0M310.1 297.0h0M308.6 296.5h0M309.8 298.4h0M304.9 294.1h0M313.3 290.1h0M305.7 286.7h0M311.3 297.7h0M316.2 286.0h0M315.0 284.6h0M306.6 297.2h0M308.5 292.1h0M314.9 294.0h0M315.9 289.8h0M314.2 286.7h0M307.5 291.7h0M312.9 279.3h0M312.9 292.7h0M310.6 288.5h0M313.2 292.0h0M311.7 283.2h0M310.7 292.3h0M306.1 290.3h0M307.4 293.7h0M312.2 301.3h0M313.5 292.0h0M313.0 301.3h0M309.4 284.9h0M313.6 281.5h0M309.7 291.0h0M312.0 297.7h0" stroke="#566e68"/><path d="M310.9 282.7h0M311.5 292.0h0M306.9 296.6h0M308.6 296.2h0M310.7 291.6h0M310.1 297.7h0M310.7 289.5h0M314.3 293.4h0M311.9 299.4h0M316.5 298.7h0M313.6 287.8h0M317.4 298.5h0M312.6 295.7h0M311.2 293.8h0M313.4 294.7h0M312.2 288.0h0M306.7 286.1h0M312.8 294.9h0M308.8 289.8h0M312.7 296.1h0M309.2 291.2h0M310.8 293.7h0M315.4 287.3h0M317.7 292.4h0M317.0 289.2h0M310.4 288.2h0M311.0 283.5h0M311.0 303.4h0M306.9 288.2h0M307.8 297.9h0M310.3 292.6h0M311.5 290.3h0M308.1 295.2h0M305.4 281.4h0M309.6 297.3h0M314.4 289.9h0M310.3 295.3h0M309.9 300.9h0M310.3 292.8h0M312.3 288.1h0M310.4 287.3h0M315.1 298.8h0" stroke="#465e80"/><path d="M314.7 276.9h0M308.6 286.2h0M311.1 272.7h0M314.3 298.3h0M307.8 284.0h0M317.2 288.6h0M312.4 290.2h0M309.9 291.4h0M309.0 294.2h0M308.5 288.2h0M314.8 295.2h0M314.8 280.5h0M310.1 273.1h0M309.7 286.7h0M313.3 291.7h0M305.9 281.2h0M314.7 286.4h0M310.5 296.2h0M312.4 283.5h0M309.7 299.6h0M308.1 288.0h0M306.5 293.9h0M308.9 282.8h0M308.8 280.2h0M314.1 291.5h0M317.3 288.6h0M313.1 302.4h0M314.9 293.2h0M308.2 283.1h0M311.3 280.7h0M315.7 291.2h0M315.2 283.7h0M307.1 291.5h0M311.9 287.1h0M313.0 283.6h0M317.1 283.2h0M312.4 293.9h0M310.6 294.9h0M311.5 290.7h0M306.2 294.3h0M310.8 291.7h0M311.1 292.9h0" stroke="#4a6858"/></g>
<line x1="317.60" y1="247.80" x2="317.60" y2="316.60" stroke="#ecbccb" stroke-width="0.6"/>
<line x1="280.00" y1="280.80" x2="351.70" y2="280.80" stroke="#ecbccb" stroke-width="0.6"/>
<rect x="317.90" y="264.50" width="19.50" height="16.30" fill="none" stroke="#d0286a" stroke-width="1.3"/>
<text x="282.50" y="255.22" font-size="5.6" fill="#222" letter-spacing="0.45">4.37</text>
<text x="350.20" y="255.22" font-size="5.6" text-anchor="end" fill="#222" letter-spacing="0.45">0.97</text>
<text x="282.50" y="315.32" font-size="5.6" fill="#222" letter-spacing="0.45">93.1</text>
<text x="350.20" y="315.32" font-size="5.6" text-anchor="end" fill="#222" letter-spacing="0.45">1.52</text>
<text x="290.75" y="322.10" font-size="3.6" text-anchor="middle" fill="#555">0</text>
<text x="297.93" y="322.10" font-size="3.6" text-anchor="middle" fill="#555">10<tspan dy="-1.44" font-size="2.70">2</tspan></text>
<text x="315.85" y="322.10" font-size="3.6" text-anchor="middle" fill="#555">10<tspan dy="-1.44" font-size="2.70">3</tspan></text>
<text x="332.34" y="322.10" font-size="3.6" text-anchor="middle" fill="#555">10<tspan dy="-1.44" font-size="2.70">4</tspan></text>
<text x="346.68" y="322.10" font-size="3.6" text-anchor="middle" fill="#555">10<tspan dy="-1.44" font-size="2.70">5</tspan></text>
<text x="313.30" y="330.14" font-size="5.4" text-anchor="middle" fill="#333" stroke="#333" stroke-width="0.15" letter-spacing="0.7">FOXP3</text>
<text x="278.40" y="342.50" font-size="4.2" text-anchor="end" fill="#333">10<tspan dy="-1.68" font-size="3.15">4</tspan></text>
<line x1="279.00" y1="341.00" x2="280.00" y2="341.00" stroke="#333" stroke-width="0.5"/>
<text x="278.40" y="358.50" font-size="4.2" text-anchor="end" fill="#333">10<tspan dy="-1.68" font-size="3.15">3</tspan></text>
<line x1="279.00" y1="357.00" x2="280.00" y2="357.00" stroke="#333" stroke-width="0.5"/>
<text x="278.40" y="374.50" font-size="4.2" text-anchor="end" fill="#333">10<tspan dy="-1.68" font-size="3.15">2</tspan></text>
<line x1="279.00" y1="373.00" x2="280.00" y2="373.00" stroke="#333" stroke-width="0.5"/>
<text x="278.40" y="391.50" font-size="4.2" text-anchor="end" fill="#333">10<tspan dy="-1.68" font-size="3.15">1</tspan></text>
<line x1="279.00" y1="390.00" x2="280.00" y2="390.00" stroke="#333" stroke-width="0.5"/>
<text x="278.40" y="398.50" font-size="4.2" text-anchor="end" fill="#333">0</text>
<line x1="279.00" y1="397.00" x2="280.00" y2="397.00" stroke="#333" stroke-width="0.5"/>
<rect x="304.40" y="336.00" width="26.00" height="32.60" fill="none" stroke="#d8b0c8" stroke-width="0.6"/>
<text x="320.00" y="346.82" font-size="5.6" text-anchor="middle" fill="#222" letter-spacing="0.45">0.72</text>
<g filter="url(#b5)" transform="rotate(8 316.0 388)"><ellipse cx="316.0" cy="389" rx="3.8" ry="15" fill="#88aee0" opacity="0.75"/><ellipse cx="316.0" cy="385.5" rx="2.9" ry="9.5" fill="#4ea070" opacity="0.85"/><ellipse cx="316.3" cy="383" rx="1.7" ry="4.5" fill="#b8cc40" opacity="0.85"/></g>
<g opacity="0.5" stroke-width="0.80" stroke-linecap="round" fill="none"><path d="M315.2 397.4h0M311.9 392.2h0M317.9 383.9h0M314.1 394.1h0M316.4 397.7h0M315.4 389.6h0M319.5 379.4h0M313.0 392.7h0M314.1 391.2h0M316.2 402.5h0M318.1 386.2h0M314.5 391.6h0M315.8 388.8h0M314.8 397.3h0M316.7 405.9h0M315.7 386.4h0M313.3 390.2h0M318.3 398.2h0M316.7 382.5h0M316.9 386.7h0M315.6 381.0h0M316.8 388.4h0M316.5 392.7h0M317.0 391.5h0M314.6 395.1h0M319.3 393.9h0M314.1 397.3h0M313.7 392.3h0" stroke="#4a7ac0"/><path d="M314.9 378.7h0M317.1 393.3h0M315.6 381.7h0M319.6 401.4h0M317.1 387.7h0M316.4 378.3h0M315.8 399.1h0M313.7 388.7h0M317.9 396.8h0M314.3 386.0h0M316.9 386.8h0M317.1 388.1h0M312.8 388.4h0M311.5 391.1h0M315.9 388.5h0M314.4 387.2h0M319.3 389.3h0M316.1 397.1h0M315.4 397.2h0M315.5 383.5h0M315.5 392.6h0M315.5 399.1h0M317.1 382.3h0M317.0 400.6h0M313.7 384.4h0M316.6 394.6h0M314.6 400.9h0M316.1 391.7h0M315.4 396.3h0M316.5 397.5h0M317.4 397.5h0M316.5 394.4h0M316.8 390.4h0M316.9 394.7h0M311.2 404.6h0M318.6 390.6h0M314.8 399.3h0M312.4 399.0h0M320.8 382.0h0M314.2 394.6h0M314.6 395.0h0" stroke="#6aa0d8"/><path d="M310.9 396.0h0M317.3 391.4h0M315.9 388.6h0M314.7 392.1h0M317.0 388.9h0M315.3 383.8h0M315.0 392.1h0M315.2 395.5h0M315.0 398.1h0M316.8 395.3h0M314.6 389.6h0M318.1 370.2h0M317.2 385.9h0M316.1 389.0h0M315.6 392.2h0M317.7 387.7h0M315.5 396.5h0M312.1 393.2h0M312.6 400.7h0M315.4 394.9h0M315.5 383.2h0M314.6 396.6h0M318.0 389.3h0M317.5 397.8h0M315.3 390.1h0M315.0 381.8h0M317.5 389.8h0M315.9 395.2h0M316.7 384.3h0M313.9 396.3h0M318.6 395.8h0M313.8 399.5h0M313.8 400.3h0M318.6 387.2h0M316.5 391.5h0M316.2 391.8h0" stroke="#7ab0e0"/><path d="M317.0 382.9h0M315.5 394.9h0M318.9 397.8h0M316.7 391.6h0M317.5 382.5h0M313.7 394.0h0M316.9 396.1h0M314.9 393.3h0M314.3 397.3h0M318.1 389.7h0M314.0 388.7h0M316.7 387.7h0M315.5 396.4h0M313.6 390.1h0M318.7 388.7h0M312.9 406.5h0M321.9 382.2h0M314.3 402.4h0M318.2 386.3h0M317.1 391.0h0M315.8 393.2h0M316.1 387.7h0M314.7 395.2h0M319.9 388.8h0M316.9 391.2h0M315.1 396.4h0M314.3 387.1h0M317.4 382.7h0M316.5 393.7h0M317.3 394.5h0M316.9 389.5h0M313.9 399.5h0M316.1 396.7h0M316.2 382.5h0M316.8 396.8h0" stroke="#5a8ad0"/></g>
<line x1="280.00" y1="335.60" x2="351.70" y2="335.60" stroke="#999" stroke-width="0.8"/>
<line x1="351.70" y1="335.60" x2="351.70" y2="404.80" stroke="#999" stroke-width="0.8"/>
<line x1="280.00" y1="335.60" x2="280.00" y2="404.80" stroke="#555" stroke-width="0.8"/>
<line x1="280.00" y1="404.80" x2="351.70" y2="404.80" stroke="#222" stroke-width="0.9"/>
<text x="290.75" y="410.30" font-size="3.6" text-anchor="middle" fill="#555">0</text>
<text x="297.93" y="410.30" font-size="3.6" text-anchor="middle" fill="#555">10<tspan dy="-1.44" font-size="2.70">2</tspan></text>
<text x="315.85" y="410.30" font-size="3.6" text-anchor="middle" fill="#555">10<tspan dy="-1.44" font-size="2.70">3</tspan></text>
<text x="332.34" y="410.30" font-size="3.6" text-anchor="middle" fill="#555">10<tspan dy="-1.44" font-size="2.70">4</tspan></text>
<text x="346.68" y="410.30" font-size="3.6" text-anchor="middle" fill="#555">10<tspan dy="-1.44" font-size="2.70">5</tspan></text>
<text x="318.30" y="416.94" font-size="5.4" text-anchor="middle" fill="#333" stroke="#333" stroke-width="0.15" letter-spacing="0.7">SSC-A</text>
<text x="360.40" y="255.50" font-size="4.2" text-anchor="end" fill="#333">10<tspan dy="-1.68" font-size="3.15">4</tspan></text>
<line x1="361.00" y1="254.00" x2="362.00" y2="254.00" stroke="#333" stroke-width="0.5"/>
<text x="360.40" y="270.50" font-size="4.2" text-anchor="end" fill="#333">10<tspan dy="-1.68" font-size="3.15">3</tspan></text>
<line x1="361.00" y1="269.00" x2="362.00" y2="269.00" stroke="#333" stroke-width="0.5"/>
<text x="360.40" y="286.50" font-size="4.2" text-anchor="end" fill="#333">10<tspan dy="-1.68" font-size="3.15">2</tspan></text>
<line x1="361.00" y1="285.00" x2="362.00" y2="285.00" stroke="#333" stroke-width="0.5"/>
<text x="360.40" y="303.50" font-size="4.2" text-anchor="end" fill="#333">10<tspan dy="-1.68" font-size="3.15">1</tspan></text>
<line x1="361.00" y1="302.00" x2="362.00" y2="302.00" stroke="#333" stroke-width="0.5"/>
<text x="360.40" y="311.50" font-size="4.2" text-anchor="end" fill="#333">0</text>
<line x1="361.00" y1="310.00" x2="362.00" y2="310.00" stroke="#333" stroke-width="0.5"/>
<g filter="url(#b8)"><ellipse cx="382.4" cy="302" rx="12" ry="12" fill="#eef1f6" opacity="0.8"/><ellipse cx="391.4" cy="295" rx="5.5" ry="13" fill="#c0cad8" opacity="0.75"/><ellipse cx="391.9" cy="291" rx="3.4" ry="8" fill="#8e9cae" opacity="0.55"/></g>
<g opacity="0.55" stroke-width="0.80" stroke-linecap="round" fill="none"><path d="M383.1 303.0h0M395.2 314.7h0M383.8 291.7h0M376.4 301.3h0M372.7 298.0h0M371.4 302.6h0M383.4 299.8h0M377.0 299.6h0M375.5 295.7h0M385.7 292.8h0M377.6 301.9h0M373.8 305.3h0M379.1 313.7h0M371.6 304.8h0M375.5 305.2h0M384.1 303.6h0M371.5 306.7h0M380.4 286.5h0M394.9 288.3h0M382.0 290.4h0M374.1 300.0h0M399.6 307.3h0M390.9 301.4h0M379.9 297.3h0M380.0 301.7h0M389.1 289.8h0M387.4 299.2h0M382.7 302.3h0M387.9 306.2h0M390.4 299.0h0M375.0 304.1h0M387.5 296.0h0M373.8 311.0h0M382.0 295.6h0M377.4 297.6h0M379.8 295.0h0M376.7 302.4h0M375.5 282.5h0M378.2 296.2h0" stroke="#a0b0ca"/><path d="M371.9 295.4h0M389.9 304.0h0M379.5 300.6h0M399.1 301.9h0M389.7 292.7h0M392.7 294.3h0M390.0 298.4h0M390.9 291.9h0M386.2 307.0h0M373.5 302.4h0M389.2 289.9h0M377.1 298.7h0M379.4 304.4h0M396.5 297.5h0M384.8 315.7h0M371.5 303.2h0M388.0 304.7h0M386.8 302.0h0M384.0 293.9h0M366.8 311.5h0M386.4 287.1h0M386.3 299.3h0M388.7 299.4h0M386.8 291.7h0M374.7 299.6h0M384.1 308.3h0M382.7 313.3h0M380.8 299.9h0M386.1 302.7h0M365.6 303.1h0M384.9 304.0h0M373.7 297.4h0M373.4 303.9h0M383.0 293.5h0M374.2 300.0h0M367.2 296.5h0M388.8 308.3h0M394.9 300.2h0M382.0 304.0h0M388.5 313.3h0M377.8 303.3h0M380.1 294.9h0M385.7 307.2h0M371.2 301.1h0M387.4 297.3h0M380.8 295.7h0M394.1 299.6h0" stroke="#a8bad6"/><path d="M379.9 298.9h0M371.2 308.3h0M384.4 308.5h0M391.6 294.5h0M385.0 287.3h0M387.4 298.6h0M384.2 304.2h0M368.5 308.2h0M377.8 303.5h0M377.3 316.1h0M388.2 305.2h0M379.4 291.3h0M399.2 310.2h0M391.8 302.9h0M390.9 305.9h0M379.3 292.1h0M379.4 304.3h0M386.4 300.5h0M384.9 284.2h0M376.7 296.6h0M384.5 306.1h0M391.5 293.2h0M386.3 298.8h0M383.0 301.9h0M396.7 308.5h0M373.7 305.3h0M376.8 293.9h0M384.1 297.2h0M383.8 300.9h0M377.2 300.9h0M393.1 301.3h0M393.1 292.8h0M375.8 293.8h0M373.6 296.0h0M395.5 310.7h0M373.9 295.7h0M375.6 308.8h0M365.7 304.0h0M384.3 312.6h0M374.9 307.2h0M379.0 311.8h0M382.2 304.8h0M384.3 293.8h0M390.6 296.1h0M378.5 303.8h0M381.1 305.2h0M388.9 315.3h0M390.2 296.7h0M389.5 295.7h0M384.8 308.2h0M394.7 308.5h0" stroke="#b8c6de"/><path d="M384.1 299.4h0M374.3 302.3h0M379.2 293.4h0M385.0 307.7h0M379.8 299.5h0M378.6 302.4h0M377.9 295.0h0M398.9 301.5h0M390.0 315.2h0M371.0 293.9h0M381.2 310.2h0M368.6 297.4h0M372.2 300.0h0M398.7 289.7h0M394.5 298.4h0M374.9 307.4h0M365.5 299.3h0M376.2 302.3h0M392.3 313.7h0M387.9 289.4h0M390.2 291.2h0M391.4 300.6h0M381.0 299.8h0M385.9 294.3h0M393.1 309.3h0M385.6 302.6h0M389.2 294.1h0M393.1 313.2h0M371.9 310.2h0M372.1 293.5h0M379.1 302.5h0M400.6 298.2h0M381.9 300.2h0M382.1 296.5h0M385.2 304.4h0M387.6 298.5h0M389.1 305.2h0M394.3 302.9h0M379.6 296.8h0M389.2 306.6h0M375.2 314.2h0M394.6 310.1h0M364.7 291.0h0M390.1 313.9h0M386.0 301.9h0" stroke="#98aacc"/></g>
<g opacity="0.6" stroke-width="0.84" stroke-linecap="round" fill="none"><path d="M389.3 309.9h0M385.6 287.8h0M395.7 295.5h0M398.4 298.7h0M393.5 289.3h0M392.5 314.8h0M390.7 291.8h0M395.2 286.1h0M389.4 288.1h0M390.0 288.6h0M392.9 284.6h0M384.4 293.3h0M394.4 306.9h0M388.2 299.7h0M391.7 284.7h0M389.0 285.0h0M393.8 290.5h0M392.6 299.6h0M388.3 304.3h0M396.8 287.2h0M389.9 294.2h0M390.5 294.3h0M389.0 290.3h0M389.8 293.3h0M388.5 291.3h0M395.7 272.0h0M393.2 272.6h0M389.5 276.8h0M393.6 313.9h0M389.0 288.1h0M399.1 307.4h0M392.7 283.8h0M399.8 291.9h0M391.5 296.6h0M395.1 290.7h0M391.8 292.0h0M389.2 298.0h0M399.8 304.2h0M393.7 295.9h0M387.4 299.2h0M395.8 292.8h0M397.6 286.5h0M394.4 307.2h0M387.0 303.5h0M384.9 294.7h0M389.4 285.9h0M388.0 293.0h0M385.9 295.8h0M393.4 285.3h0M387.1 303.8h0M389.4 291.9h0M391.1 293.2h0M390.6 300.0h0M392.1 288.6h0M392.0 297.3h0M386.8 296.8h0M387.9 309.9h0M388.7 301.3h0M392.2 304.2h0M390.1 278.6h0M393.1 277.4h0M385.7 292.8h0M387.4 295.8h0M394.2 288.0h0M394.8 283.5h0M393.8 292.7h0M396.8 292.3h0M389.6 300.9h0M393.2 276.3h0M397.0 286.0h0M387.3 289.0h0M395.0 292.9h0M390.6 281.1h0M382.5 311.5h0M392.8 298.1h0M390.2 300.2h0M397.0 274.8h0M387.4 281.4h0M397.6 283.3h0M395.0 298.2h0M400.1 287.0h0M389.5 293.3h0M390.9 293.2h0M397.9 294.5h0" stroke="#7084a8"/><path d="M392.5 292.4h0M383.0 299.6h0M392.6 282.2h0M390.7 311.6h0M391.4 277.2h0M389.9 304.7h0M390.5 304.3h0M389.7 285.1h0M392.5 296.5h0M385.1 303.2h0M393.7 300.3h0M390.8 301.8h0M388.5 296.7h0M387.1 306.2h0M389.5 294.3h0M391.6 274.5h0M390.2 294.0h0M384.5 290.1h0M391.8 297.8h0M393.9 296.2h0M391.3 306.5h0M391.0 298.2h0M396.6 294.3h0M395.2 301.2h0M395.2 303.1h0M392.3 300.8h0M393.6 308.4h0M392.5 297.8h0M391.0 295.0h0M398.1 289.7h0M389.7 275.9h0M388.9 291.0h0M396.7 305.3h0M388.8 295.4h0M397.0 301.8h0M388.5 298.1h0M393.6 294.9h0M396.5 302.9h0M386.7 288.5h0M389.6 301.6h0M391.5 298.5h0M391.7 299.0h0M394.7 302.1h0M392.1 300.9h0M389.3 295.3h0M392.5 299.1h0M390.4 286.6h0M387.8 275.3h0M393.1 288.3h0M393.5 305.2h0M394.5 290.7h0M390.5 292.6h0M390.0 307.7h0M390.9 299.6h0M395.4 270.6h0M388.0 301.1h0M393.8 293.4h0M392.0 294.3h0M391.5 293.7h0M393.6 303.9h0M387.9 288.1h0M387.2 287.6h0M389.5 309.3h0M383.0 268.6h0M390.3 276.3h0M392.6 287.3h0M391.7 279.4h0M393.4 306.5h0M390.4 281.7h0M393.3 287.8h0M397.0 306.1h0M389.9 303.2h0M400.6 293.6h0M386.3 296.3h0M398.9 289.8h0M391.3 287.2h0M398.2 273.5h0M395.7 282.1h0M382.0 307.8h0M386.8 287.0h0M394.0 301.0h0M391.0 296.9h0" stroke="#587888"/><path d="M391.5 313.0h0M392.1 302.6h0M390.4 305.7h0M397.2 291.0h0M389.4 292.9h0M395.6 298.0h0M390.5 294.4h0M390.9 298.5h0M382.4 293.8h0M398.4 299.8h0M383.4 292.4h0M397.3 286.5h0M392.5 303.7h0M391.0 296.9h0M395.2 284.4h0M387.2 285.3h0M391.3 276.7h0M395.1 282.0h0M390.6 283.3h0M386.0 286.2h0M393.2 305.8h0M389.4 303.6h0M395.9 281.1h0M392.2 285.3h0M386.7 288.4h0M386.7 288.4h0M389.9 300.7h0M395.0 313.2h0M391.1 285.2h0M389.8 300.7h0M385.1 314.6h0M386.3 292.9h0M390.8 297.3h0M396.5 300.0h0M390.5 289.1h0M392.1 294.2h0M396.2 304.0h0M389.9 292.8h0M392.2 302.4h0M395.8 298.6h0M394.6 282.4h0M393.9 289.4h0M390.7 286.4h0M388.0 283.1h0M397.5 313.6h0M386.8 290.9h0M386.4 294.4h0M392.8 287.4h0M396.9 301.4h0M386.8 310.6h0M394.8 302.1h0M393.4 300.2h0M386.4 301.9h0M393.0 291.4h0M389.9 307.8h0M387.6 288.8h0M391.6 279.4h0M396.0 283.9h0M397.0 293.3h0M386.3 294.3h0M390.9 307.2h0M396.9 288.1h0M387.1 309.0h0M387.3 285.0h0M387.8 283.0h0M387.9 301.8h0M394.8 300.4h0M390.0 311.0h0M391.7 301.4h0M391.6 297.4h0M392.5 296.9h0M400.2 283.7h0M395.9 297.4h0M391.2 307.0h0M390.0 303.7h0M391.3 286.8h0M389.9 304.0h0" stroke="#6a7ea4"/><path d="M387.8 286.8h0M386.2 294.2h0M388.4 302.9h0M397.8 303.6h0M391.5 279.2h0M392.8 292.9h0M388.5 288.4h0M390.4 299.7h0M394.1 301.7h0M385.2 283.7h0M392.7 298.2h0M395.3 292.9h0M393.1 303.0h0M392.3 283.2h0M386.0 285.6h0M388.2 293.3h0M392.6 306.5h0M391.0 291.6h0M389.8 284.4h0M391.4 292.2h0M391.2 293.7h0M396.6 288.5h0M394.7 287.7h0M387.9 280.6h0M394.3 291.8h0M387.0 282.4h0M388.9 272.3h0M393.5 278.0h0M392.1 298.6h0M392.7 298.5h0M391.5 302.2h0M394.4 300.4h0M392.9 294.3h0M395.4 295.8h0M390.4 289.2h0M400.6 287.0h0M386.1 310.5h0M391.2 289.4h0M392.1 272.5h0M392.0 294.3h0M395.1 295.6h0M395.6 304.5h0M392.1 286.4h0M391.7 311.3h0M389.9 305.6h0M386.3 274.3h0M389.4 296.6h0M395.4 285.3h0M392.5 292.5h0M390.7 286.0h0M394.3 292.1h0M384.8 293.1h0M383.7 294.6h0M399.1 300.2h0M390.9 299.3h0M400.1 283.0h0M389.7 295.3h0M391.7 283.6h0M395.5 286.9h0M390.4 306.8h0M389.5 290.5h0M391.5 297.9h0M395.4 278.5h0M392.1 298.7h0M386.4 290.8h0M389.5 285.7h0M390.9 294.2h0M389.0 287.8h0M392.1 297.4h0M395.4 286.9h0M392.0 279.6h0M390.1 295.3h0M393.9 288.7h0M392.7 288.1h0M393.1 297.8h0M391.0 278.6h0M392.1 290.4h0M397.7 303.0h0M400.2 297.9h0M387.9 291.8h0" stroke="#60806e"/><path d="M394.9 282.3h0M392.6 305.8h0M391.1 296.2h0M394.5 295.2h0M396.7 285.7h0M391.5 281.9h0M399.7 291.3h0M390.6 283.3h0M391.0 301.3h0M390.4 289.7h0M391.4 291.9h0M395.7 292.0h0M393.2 291.8h0M391.9 303.6h0M397.7 315.7h0M392.7 301.7h0M392.3 300.7h0M389.0 289.1h0M387.0 305.7h0M395.0 308.3h0M392.0 279.1h0M379.3 303.2h0M394.8 303.5h0M389.3 287.4h0M385.8 278.1h0M391.1 290.9h0M395.7 287.0h0M393.0 303.9h0M392.6 296.7h0M396.3 308.4h0M390.4 294.6h0M392.3 301.1h0M394.2 291.9h0M389.8 307.1h0M393.2 292.8h0M383.9 301.3h0M391.8 289.4h0M394.4 303.1h0M389.0 294.3h0M393.0 289.7h0M389.0 308.7h0M389.6 290.8h0M399.7 303.8h0M391.9 304.0h0M392.0 286.2h0M388.1 293.6h0M391.7 282.2h0M385.1 307.0h0M387.7 274.8h0M394.1 297.4h0M388.6 309.5h0M387.6 289.2h0M387.6 276.5h0M391.9 306.1h0M389.1 296.0h0M392.4 286.5h0M395.9 293.8h0M387.7 293.4h0M388.3 278.0h0M399.1 281.0h0M391.8 303.5h0M392.9 300.6h0M393.0 278.5h0M390.7 280.5h0M393.2 307.5h0M390.0 296.1h0M389.5 295.1h0M386.2 304.1h0M397.0 280.1h0M397.3 279.3h0M389.7 289.3h0M385.3 286.9h0M387.6 295.4h0M399.2 288.4h0M391.4 284.0h0M392.5 291.7h0M397.0 299.8h0M390.3 281.9h0M387.1 298.1h0M393.9 288.8h0M387.3 287.5h0M389.2 300.3h0M389.9 285.1h0M391.6 288.5h0M388.7 300.1h0" stroke="#5a6e92"/></g>
<g opacity="0.55" stroke-width="0.84" stroke-linecap="round" fill="none"><path d="M391.1 282.0h0M389.3 282.1h0M388.7 288.3h0M390.5 301.0h0M395.9 279.7h0M393.8 289.3h0M394.9 293.3h0M394.7 284.9h0M391.3 291.7h0M393.7 295.7h0M389.2 287.5h0M387.3 288.0h0M391.7 289.3h0M393.0 288.8h0M392.5 285.2h0M389.4 287.3h0M391.8 283.9h0M388.7 286.1h0M393.2 284.1h0M393.0 297.1h0M393.9 289.9h0M388.9 287.4h0M386.8 292.4h0M390.3 288.1h0M387.3 291.2h0M396.3 295.4h0M389.5 293.5h0M394.2 296.4h0M392.1 299.4h0M390.3 287.9h0M393.6 299.5h0M388.3 292.2h0M391.7 285.3h0M391.5 285.0h0M388.0 294.1h0M390.0 294.3h0M393.7 290.9h0" stroke="#4a6858"/><path d="M390.5 303.2h0M389.7 294.4h0M387.2 291.8h0M392.0 280.5h0M388.6 275.8h0M388.0 291.9h0M392.1 287.6h0M389.5 287.7h0M390.5 280.1h0M393.0 288.6h0M395.4 286.5h0M391.8 284.1h0M393.3 290.8h0M392.5 286.0h0M393.6 293.6h0M391.6 283.4h0M393.3 290.2h0M396.9 297.5h0M395.7 285.4h0M392.5 299.2h0M395.5 283.0h0M392.3 295.4h0M398.5 286.6h0M390.7 295.5h0M390.4 288.8h0M389.2 295.3h0M392.8 290.6h0M393.9 300.3h0M395.3 283.2h0M391.9 285.3h0M388.9 293.6h0M396.9 293.4h0M392.0 286.6h0M391.2 285.4h0M392.6 295.1h0M394.2 281.3h0M389.8 293.5h0M391.2 277.1h0M392.2 299.5h0M394.8 290.9h0M389.3 289.8h0M390.7 287.7h0M392.3 278.4h0M392.4 289.0h0M393.7 292.6h0M396.4 290.2h0" stroke="#566e68"/><path d="M394.3 288.1h0M395.4 283.3h0M391.7 287.6h0M394.4 279.7h0M397.9 288.8h0M393.7 299.5h0M393.4 292.1h0M392.2 285.9h0M395.1 295.3h0M393.8 299.6h0M390.6 285.9h0M388.4 288.7h0M393.1 295.0h0M392.1 279.6h0M393.4 294.9h0M391.4 283.8h0M398.5 281.8h0M390.2 292.8h0M392.8 276.9h0M392.0 279.8h0M395.5 287.8h0M395.4 292.3h0M389.0 290.8h0M390.5 286.7h0M392.0 295.3h0M395.2 284.4h0M396.0 290.6h0M396.1 296.5h0M391.0 290.8h0M394.5 291.9h0M393.3 288.5h0M393.9 288.9h0M392.0 292.2h0M390.8 298.2h0M390.4 297.7h0M395.6 282.6h0M394.1 297.8h0" stroke="#465e80"/></g>
<line x1="399.40" y1="247.80" x2="399.40" y2="316.60" stroke="#ecbccb" stroke-width="0.6"/>
<line x1="362.00" y1="280.80" x2="433.20" y2="280.80" stroke="#ecbccb" stroke-width="0.6"/>
<rect x="399.70" y="264.50" width="19.50" height="16.30" fill="none" stroke="#d0286a" stroke-width="1.3"/>
<text x="364.50" y="255.22" font-size="5.6" fill="#222" letter-spacing="0.45">8.17</text>
<text x="431.70" y="255.22" font-size="5.6" text-anchor="end" fill="#222" letter-spacing="0.45">0.47</text>
<text x="364.50" y="315.32" font-size="5.6" fill="#222" letter-spacing="0.45">91</text>
<text x="431.70" y="315.32" font-size="5.6" text-anchor="end" fill="#222" letter-spacing="0.45">0.33</text>
<text x="372.68" y="322.10" font-size="3.6" text-anchor="middle" fill="#555">0</text>
<text x="379.80" y="322.10" font-size="3.6" text-anchor="middle" fill="#555">10<tspan dy="-1.44" font-size="2.70">2</tspan></text>
<text x="397.60" y="322.10" font-size="3.6" text-anchor="middle" fill="#555">10<tspan dy="-1.44" font-size="2.70">3</tspan></text>
<text x="413.98" y="322.10" font-size="3.6" text-anchor="middle" fill="#555">10<tspan dy="-1.44" font-size="2.70">4</tspan></text>
<text x="428.22" y="322.10" font-size="3.6" text-anchor="middle" fill="#555">10<tspan dy="-1.44" font-size="2.70">5</tspan></text>
<text x="395.30" y="330.14" font-size="5.4" text-anchor="middle" fill="#333" stroke="#333" stroke-width="0.15" letter-spacing="0.7">FOXP3</text>
<text x="360.40" y="342.50" font-size="4.2" text-anchor="end" fill="#333">10<tspan dy="-1.68" font-size="3.15">4</tspan></text>
<line x1="361.00" y1="341.00" x2="362.00" y2="341.00" stroke="#333" stroke-width="0.5"/>
<text x="360.40" y="358.50" font-size="4.2" text-anchor="end" fill="#333">10<tspan dy="-1.68" font-size="3.15">3</tspan></text>
<line x1="361.00" y1="357.00" x2="362.00" y2="357.00" stroke="#333" stroke-width="0.5"/>
<text x="360.40" y="374.50" font-size="4.2" text-anchor="end" fill="#333">10<tspan dy="-1.68" font-size="3.15">2</tspan></text>
<line x1="361.00" y1="373.00" x2="362.00" y2="373.00" stroke="#333" stroke-width="0.5"/>
<text x="360.40" y="391.50" font-size="4.2" text-anchor="end" fill="#333">10<tspan dy="-1.68" font-size="3.15">1</tspan></text>
<line x1="361.00" y1="390.00" x2="362.00" y2="390.00" stroke="#333" stroke-width="0.5"/>
<text x="360.40" y="398.50" font-size="4.2" text-anchor="end" fill="#333">0</text>
<line x1="361.00" y1="397.00" x2="362.00" y2="397.00" stroke="#333" stroke-width="0.5"/>
<rect x="386.40" y="336.00" width="25.00" height="32.60" fill="none" stroke="#d8b0c8" stroke-width="0.6"/>
<text x="401.40" y="346.82" font-size="5.6" text-anchor="middle" fill="#222" letter-spacing="0.45">0.43</text>
<g filter="url(#b5)" transform="rotate(8 398.0 388)"><ellipse cx="398.0" cy="389" rx="3.8" ry="15" fill="#88aee0" opacity="0.75"/><ellipse cx="398.0" cy="385.5" rx="2.9" ry="9.5" fill="#4ea070" opacity="0.85"/><ellipse cx="398.3" cy="383" rx="1.7" ry="4.5" fill="#b8cc40" opacity="0.85"/></g>
<g opacity="0.5" stroke-width="0.80" stroke-linecap="round" fill="none"><path d="M399.1 396.6h0M396.0 397.6h0M395.8 394.0h0M395.4 402.0h0M398.0 384.4h0M401.0 395.6h0M399.7 392.2h0M395.2 394.6h0M398.8 390.8h0M397.9 392.7h0M398.1 399.3h0M400.5 394.8h0M399.3 390.3h0M395.2 395.4h0M393.0 405.0h0M402.0 376.5h0M397.7 385.8h0M395.5 394.8h0M398.8 386.0h0M397.9 403.1h0M394.6 397.4h0M399.0 379.0h0M393.4 396.9h0M398.2 393.6h0M400.1 396.8h0M397.7 383.8h0M396.8 388.2h0M399.2 387.8h0M397.6 396.3h0M397.9 402.0h0" stroke="#4a7ac0"/><path d="M397.5 390.2h0M401.4 383.5h0M399.7 384.4h0M398.1 387.8h0M396.6 389.6h0M396.2 394.9h0M397.0 390.6h0M400.7 382.2h0M397.7 392.1h0M396.3 381.4h0M398.9 391.2h0M400.0 384.4h0M394.8 392.1h0M400.6 383.3h0M395.8 397.3h0M397.9 397.5h0M398.6 397.2h0M398.6 380.7h0M398.2 393.9h0M398.3 395.3h0M393.6 394.8h0M397.8 387.5h0M399.7 389.1h0M398.5 385.5h0M398.0 392.4h0M398.1 386.0h0M396.1 406.8h0M399.6 384.4h0M398.6 387.3h0M394.2 396.8h0M398.9 382.0h0M397.8 396.7h0M397.7 392.0h0M398.8 383.5h0M401.9 388.7h0M399.2 382.7h0M399.5 389.5h0M398.1 386.8h0M400.4 389.8h0M397.1 402.1h0M400.5 393.3h0M397.3 386.2h0M396.4 395.2h0M397.8 395.7h0M397.8 392.6h0M397.7 402.6h0M397.0 392.7h0M396.6 395.2h0M398.3 389.3h0" stroke="#7ab0e0"/><path d="M397.2 395.7h0M398.4 387.8h0M395.4 389.0h0M395.7 398.2h0M400.2 383.1h0M397.0 386.4h0M396.1 397.9h0M398.8 385.2h0M399.0 383.6h0M395.9 402.2h0M397.7 392.1h0M399.9 376.9h0M400.4 384.5h0M394.9 392.9h0M398.7 384.4h0M397.1 398.5h0M401.7 386.1h0M400.0 390.6h0M394.1 388.0h0M398.9 385.0h0M397.4 387.5h0M399.0 380.7h0M399.2 391.9h0M395.1 402.8h0M396.9 384.4h0M399.7 399.9h0M395.7 391.1h0M397.0 391.1h0M396.8 398.9h0M395.6 397.1h0M401.6 377.2h0M396.9 392.8h0M398.7 389.9h0M396.8 392.5h0M398.0 399.8h0M395.1 405.4h0" stroke="#6aa0d8"/><path d="M398.0 385.5h0M398.7 401.4h0M395.7 396.8h0M394.8 406.2h0M398.3 389.5h0M398.3 392.9h0M396.1 381.9h0M400.5 382.5h0M398.3 387.7h0M401.0 380.2h0M398.6 380.7h0M398.1 392.7h0M397.5 393.4h0M400.0 391.0h0M398.9 390.7h0M396.2 389.5h0M398.6 392.6h0M399.3 383.4h0M404.0 383.6h0M396.4 399.3h0M398.5 386.7h0M398.9 385.9h0M396.2 397.8h0M395.8 394.3h0M396.6 399.1h0" stroke="#5a8ad0"/></g>
<line x1="362.00" y1="335.60" x2="433.20" y2="335.60" stroke="#999" stroke-width="0.8"/>
<line x1="433.20" y1="335.60" x2="433.20" y2="404.80" stroke="#999" stroke-width="0.8"/>
<line x1="362.00" y1="335.60" x2="362.00" y2="404.80" stroke="#555" stroke-width="0.8"/>
<line x1="362.00" y1="404.80" x2="433.20" y2="404.80" stroke="#222" stroke-width="0.9"/>
<text x="372.68" y="410.30" font-size="3.6" text-anchor="middle" fill="#555">0</text>
<text x="379.80" y="410.30" font-size="3.6" text-anchor="middle" fill="#555">10<tspan dy="-1.44" font-size="2.70">2</tspan></text>
<text x="397.60" y="410.30" font-size="3.6" text-anchor="middle" fill="#555">10<tspan dy="-1.44" font-size="2.70">3</tspan></text>
<text x="413.98" y="410.30" font-size="3.6" text-anchor="middle" fill="#555">10<tspan dy="-1.44" font-size="2.70">4</tspan></text>
<text x="428.22" y="410.30" font-size="3.6" text-anchor="middle" fill="#555">10<tspan dy="-1.44" font-size="2.70">5</tspan></text>
<text x="400.30" y="416.94" font-size="5.4" text-anchor="middle" fill="#333" stroke="#333" stroke-width="0.15" letter-spacing="0.7">SSC-A</text>
<text x="443.90" y="255.50" font-size="4.2" text-anchor="end" fill="#333">10<tspan dy="-1.68" font-size="3.15">4</tspan></text>
<line x1="444.50" y1="254.00" x2="445.50" y2="254.00" stroke="#333" stroke-width="0.5"/>
<text x="443.90" y="270.50" font-size="4.2" text-anchor="end" fill="#333">10<tspan dy="-1.68" font-size="3.15">3</tspan></text>
<line x1="444.50" y1="269.00" x2="445.50" y2="269.00" stroke="#333" stroke-width="0.5"/>
<text x="443.90" y="286.50" font-size="4.2" text-anchor="end" fill="#333">10<tspan dy="-1.68" font-size="3.15">2</tspan></text>
<line x1="444.50" y1="285.00" x2="445.50" y2="285.00" stroke="#333" stroke-width="0.5"/>
<text x="443.90" y="303.50" font-size="4.2" text-anchor="end" fill="#333">10<tspan dy="-1.68" font-size="3.15">1</tspan></text>
<line x1="444.50" y1="302.00" x2="445.50" y2="302.00" stroke="#333" stroke-width="0.5"/>
<text x="443.90" y="311.50" font-size="4.2" text-anchor="end" fill="#333">0</text>
<line x1="444.50" y1="310.00" x2="445.50" y2="310.00" stroke="#333" stroke-width="0.5"/>
<g filter="url(#b8)"><ellipse cx="464.0" cy="302" rx="12" ry="12" fill="#eef1f6" opacity="0.8"/><ellipse cx="473.0" cy="295" rx="5.5" ry="13" fill="#c0cad8" opacity="0.75"/><ellipse cx="473.5" cy="291" rx="3.4" ry="8" fill="#8e9cae" opacity="0.55"/></g>
<g opacity="0.55" stroke-width="0.80" stroke-linecap="round" fill="none"><path d="M459.3 304.0h0M461.1 292.8h0M459.8 288.1h0M460.9 297.4h0M461.5 294.8h0M456.5 293.5h0M460.3 314.0h0M460.4 305.0h0M468.5 306.7h0M459.9 284.6h0M471.9 301.5h0M462.0 309.6h0M466.4 292.2h0M482.8 296.7h0M448.7 294.0h0M460.0 296.1h0M460.8 307.1h0M450.6 293.0h0M473.2 300.2h0M465.2 295.4h0M470.6 305.6h0M466.1 307.7h0M472.1 302.7h0M463.5 311.4h0M457.0 296.0h0M461.3 298.3h0M464.1 309.0h0M462.6 303.7h0M463.7 305.4h0M452.6 300.1h0M472.4 313.0h0M460.6 293.6h0M471.7 297.4h0M470.9 293.1h0M467.6 306.5h0M473.5 306.9h0M453.4 302.3h0M463.4 309.3h0M462.2 307.0h0M473.9 288.4h0M458.9 308.6h0M462.3 289.9h0M460.0 293.6h0M451.4 289.6h0M466.5 302.4h0M455.3 297.5h0M453.5 294.5h0M458.4 294.8h0M470.8 308.5h0M456.4 309.4h0M469.7 308.0h0M458.9 303.1h0M480.5 301.0h0" stroke="#98aacc"/><path d="M461.8 298.9h0M462.2 308.0h0M471.2 294.8h0M475.2 312.8h0M467.7 293.1h0M461.9 303.1h0M469.1 296.5h0M469.4 310.6h0M473.2 295.6h0M470.4 297.8h0M458.8 311.0h0M473.0 309.5h0M452.1 304.1h0M477.4 299.5h0M456.2 309.4h0M457.9 291.1h0M472.1 305.9h0M453.0 300.3h0M455.2 310.9h0M467.5 306.1h0M470.8 304.6h0M468.1 305.7h0M461.9 290.0h0M469.8 301.9h0M457.4 304.5h0M451.2 304.1h0M457.8 310.3h0M459.4 288.8h0M468.6 305.4h0M465.5 307.3h0M459.8 308.7h0M470.8 296.9h0M462.7 289.8h0M465.2 303.9h0M453.7 308.4h0M463.4 304.2h0M465.2 301.5h0M464.1 291.0h0M474.9 299.4h0M475.4 297.4h0M463.0 314.0h0M475.2 311.1h0M452.1 289.9h0M456.4 297.4h0M470.9 301.4h0M460.6 299.1h0M462.8 305.4h0M457.8 311.7h0M456.1 297.5h0M453.3 284.5h0M454.5 302.8h0M460.0 300.7h0M464.9 314.6h0M467.2 297.1h0" stroke="#a0b0ca"/><path d="M469.5 298.3h0M470.8 301.3h0M456.9 296.4h0M454.5 301.8h0M469.4 309.3h0M448.5 291.1h0M462.8 308.8h0M465.3 299.5h0M460.9 315.6h0M462.1 305.7h0M466.4 309.6h0M463.1 298.6h0M466.3 290.1h0M455.4 300.4h0M473.2 309.0h0M468.1 308.1h0M457.9 313.2h0M459.8 298.9h0M453.7 303.0h0M454.3 289.9h0M456.6 299.7h0M451.8 287.5h0M459.8 300.7h0M463.3 299.3h0M459.4 308.2h0M463.4 308.2h0M468.4 302.8h0M457.5 296.9h0M462.7 314.3h0M470.4 299.5h0M468.6 301.9h0M477.8 301.8h0M468.0 297.2h0M466.7 283.8h0M461.0 285.2h0M464.2 293.5h0M468.7 291.2h0M459.1 314.5h0M453.1 309.7h0M463.7 290.3h0M456.7 311.7h0M455.2 304.1h0M458.9 294.1h0M465.7 312.8h0M452.1 303.6h0M457.3 308.9h0M472.5 309.7h0M468.6 305.9h0" stroke="#b8c6de"/><path d="M482.2 296.9h0M459.3 312.3h0M465.1 291.3h0M446.6 308.2h0M462.7 299.4h0M457.0 295.2h0M477.6 311.4h0M463.0 312.7h0M449.1 298.2h0M463.4 305.6h0M468.5 305.5h0M459.7 301.0h0M469.9 300.9h0M460.5 303.8h0M460.6 287.6h0M466.8 292.0h0M466.1 302.4h0M468.7 297.4h0M465.3 307.2h0M467.1 302.3h0M472.6 297.9h0M465.8 292.5h0M471.6 312.0h0M455.8 305.5h0M452.4 315.8h0M460.5 295.6h0M459.1 307.9h0M457.7 306.2h0M464.2 296.4h0" stroke="#a8bad6"/></g>
<g opacity="0.6" stroke-width="0.84" stroke-linecap="round" fill="none"><path d="M469.6 302.4h0M473.3 285.4h0M472.6 301.4h0M478.8 271.0h0M476.4 296.0h0M468.1 298.5h0M470.6 307.1h0M472.6 291.0h0M477.0 301.3h0M472.2 284.6h0M472.5 287.9h0M480.9 304.9h0M475.3 295.9h0M483.4 293.9h0M470.7 304.6h0M478.6 294.8h0M471.1 295.0h0M471.5 304.6h0M469.4 281.5h0M474.2 296.9h0M461.6 293.6h0M476.6 302.5h0M475.8 293.3h0M475.8 296.7h0M476.0 290.9h0M474.7 278.6h0M469.0 296.3h0M478.5 301.1h0M479.4 293.6h0M468.3 315.5h0M472.3 282.2h0M476.1 301.4h0M477.2 294.4h0M472.0 316.1h0M475.4 307.5h0M472.9 292.0h0M473.5 285.8h0M472.8 300.9h0M479.2 277.9h0M474.7 299.8h0M472.3 287.2h0M471.0 301.8h0M474.9 300.9h0M476.7 272.6h0M471.4 286.4h0M474.3 292.7h0M477.1 280.5h0M470.7 283.1h0M475.0 303.0h0M479.0 277.7h0M470.6 290.6h0M475.8 274.9h0M466.6 287.4h0M470.0 296.6h0M473.9 276.6h0M470.1 298.4h0M473.1 293.3h0M474.7 304.6h0M475.0 270.4h0M470.3 293.1h0M479.7 293.1h0M469.6 293.8h0M470.9 296.3h0M466.6 289.3h0M471.5 300.6h0M479.0 307.0h0M470.6 291.9h0M471.6 300.6h0M475.3 299.8h0M472.4 292.6h0M469.7 287.4h0M479.2 280.3h0M474.0 285.0h0M472.1 289.6h0M471.0 293.6h0M468.0 288.8h0M468.9 294.9h0M469.2 271.3h0M469.6 279.0h0M473.6 300.0h0M473.2 304.1h0" stroke="#587888"/><path d="M469.3 303.8h0M478.5 315.6h0M475.2 301.4h0M475.9 298.9h0M472.6 303.2h0M474.2 293.6h0M474.6 296.5h0M468.3 283.9h0M471.8 289.9h0M471.1 312.3h0M473.4 305.5h0M468.5 288.4h0M481.6 292.3h0M476.2 292.9h0M474.5 302.0h0M465.3 294.8h0M470.1 310.0h0M474.9 309.1h0M473.1 294.9h0M470.6 274.1h0M474.5 292.7h0M477.0 282.4h0M475.1 303.4h0M477.6 284.7h0M473.3 286.0h0M481.5 285.9h0M472.5 292.9h0M475.1 293.8h0M476.0 285.3h0M471.7 302.4h0M482.3 302.5h0M476.4 314.3h0M470.6 274.0h0M469.5 280.0h0M470.5 307.1h0M470.3 285.5h0M472.5 306.5h0M468.3 291.4h0M469.6 293.4h0M468.4 291.3h0M468.8 296.2h0M474.0 279.6h0M476.5 279.8h0M472.1 299.1h0M469.8 293.2h0M468.9 283.6h0M470.4 294.4h0M472.7 295.2h0M478.6 295.2h0M470.6 299.7h0M472.1 305.8h0M472.9 312.5h0M474.9 297.8h0M478.0 281.2h0M473.5 290.2h0M473.7 301.1h0M472.0 301.2h0M472.6 277.2h0M471.6 300.2h0M472.8 301.6h0M474.3 307.0h0M473.2 278.5h0M476.8 294.2h0M477.4 295.5h0M470.0 282.0h0M472.8 282.1h0M477.2 287.0h0M473.8 296.3h0M470.2 292.4h0M468.0 296.2h0M464.2 302.4h0M474.7 306.0h0M472.0 275.9h0M471.7 282.7h0M470.7 290.9h0M474.0 288.5h0M466.2 282.7h0M470.1 296.7h0M472.0 285.4h0M470.7 306.9h0M473.1 304.5h0M474.7 300.3h0" stroke="#60806e"/><path d="M474.9 287.4h0M470.2 306.5h0M473.7 288.1h0M473.8 297.3h0M472.5 300.9h0M482.0 295.7h0M469.7 288.4h0M474.6 279.2h0M476.6 298.8h0M468.8 302.2h0M474.8 303.6h0M472.8 307.2h0M473.9 297.0h0M474.6 293.9h0M464.5 290.3h0M475.4 284.1h0M469.0 295.6h0M478.9 291.8h0M469.5 296.2h0M472.6 300.0h0M467.7 290.5h0M472.5 276.9h0M473.5 277.9h0M475.3 286.9h0M473.1 289.7h0M465.9 304.7h0M464.4 279.0h0M468.9 303.3h0M472.1 297.6h0M468.7 294.0h0M471.7 312.6h0M469.6 284.3h0M475.5 279.2h0M474.0 293.5h0M469.1 301.3h0M471.8 290.7h0M474.8 273.3h0M474.4 303.9h0M471.5 292.1h0M467.3 300.4h0M468.9 288.1h0M474.9 307.5h0M469.8 296.6h0M474.0 296.0h0M470.4 301.5h0M469.5 293.3h0M471.7 299.2h0M481.7 303.7h0M480.2 312.5h0M475.6 291.1h0M481.0 284.9h0M476.7 289.7h0M466.4 305.9h0M473.1 311.9h0M471.2 287.8h0M470.0 300.8h0M473.0 315.9h0M475.4 292.1h0M467.5 291.1h0M473.6 305.3h0M472.6 305.4h0M474.7 288.7h0M480.5 278.2h0M471.1 285.9h0M475.0 285.5h0M478.0 289.4h0M472.6 288.1h0M468.9 302.5h0M468.8 289.7h0M477.3 284.1h0M472.1 303.3h0M474.3 294.8h0M473.7 298.7h0M473.4 291.3h0M469.4 294.1h0M474.4 290.1h0M473.5 290.1h0M469.2 298.7h0M471.3 286.2h0M472.0 305.7h0M467.8 280.4h0M479.9 306.2h0M470.2 277.3h0M480.6 291.7h0M467.6 294.3h0M474.8 295.0h0" stroke="#6a7ea4"/><path d="M472.4 293.0h0M477.0 301.2h0M466.8 269.2h0M463.8 282.9h0M478.5 283.1h0M477.1 282.5h0M471.8 301.1h0M475.6 276.0h0M470.6 292.8h0M464.7 293.4h0M474.3 294.4h0M475.5 298.8h0M475.5 292.1h0M472.3 287.2h0M479.0 300.1h0M473.1 302.2h0M472.4 287.7h0M475.5 299.3h0M473.3 282.3h0M472.3 295.1h0M478.0 309.6h0M471.4 290.5h0M471.0 282.4h0M476.7 306.8h0M478.0 302.7h0M470.3 286.5h0M473.0 316.0h0M469.7 305.4h0M471.1 293.3h0M472.6 288.3h0M475.3 310.9h0M475.2 290.2h0M472.1 298.1h0M472.7 297.3h0M472.4 287.0h0M471.4 287.0h0M467.4 299.4h0M471.6 305.9h0M478.9 289.0h0M466.3 288.9h0M470.6 298.1h0M470.5 307.3h0M472.6 315.0h0M476.3 303.9h0M464.9 314.6h0M473.5 295.0h0M471.7 304.5h0M472.2 283.0h0M477.2 276.9h0M471.6 304.8h0M472.2 299.6h0M464.4 297.5h0M471.6 296.4h0M476.7 298.1h0M478.9 290.7h0M470.8 297.1h0M471.0 302.2h0M466.9 294.0h0M465.3 281.4h0M472.8 299.3h0M467.3 300.4h0M468.5 299.5h0M478.0 286.3h0M470.9 310.3h0M473.4 296.4h0M471.1 292.0h0M471.6 309.7h0M468.0 315.3h0M474.7 293.1h0M469.4 288.1h0M475.7 306.5h0M468.0 302.4h0M474.9 301.0h0M474.2 288.0h0M469.7 295.4h0M478.1 298.4h0M465.9 281.0h0M472.4 295.2h0M475.7 304.6h0M472.8 299.0h0M467.3 310.5h0M476.5 285.5h0M475.7 293.1h0M473.7 287.0h0M470.9 290.4h0M479.7 288.6h0M475.6 296.4h0M477.0 294.8h0" stroke="#7084a8"/><path d="M471.6 290.7h0M471.4 306.7h0M477.3 303.9h0M474.4 276.0h0M473.3 309.5h0M474.3 301.5h0M476.0 300.3h0M475.5 309.7h0M467.3 310.0h0M474.4 305.6h0M472.1 287.7h0M470.8 297.6h0M470.5 291.7h0M474.9 297.8h0M473.0 298.7h0M475.5 281.2h0M466.7 276.4h0M472.0 292.6h0M482.2 287.0h0M472.9 280.8h0M478.2 310.8h0M472.8 275.5h0M482.6 291.5h0M467.1 278.5h0M481.7 298.9h0M475.8 297.7h0M470.5 293.7h0M473.9 311.3h0M471.2 295.2h0M466.2 290.3h0M473.0 288.7h0M473.6 280.1h0M473.5 306.7h0M469.1 286.2h0M473.5 289.6h0M475.7 281.4h0M475.8 276.3h0M475.4 293.2h0M469.4 299.9h0M474.4 288.4h0M470.8 296.8h0M463.7 287.9h0M479.3 290.6h0M472.2 295.1h0M468.1 290.7h0M470.5 308.1h0M479.0 295.5h0M469.8 298.9h0M473.9 303.7h0M475.4 294.8h0M470.4 297.2h0M476.5 287.9h0M476.4 310.5h0M473.2 298.1h0M472.9 293.9h0M473.6 285.9h0M470.1 302.1h0M474.8 301.4h0M478.1 275.1h0M466.1 311.6h0M478.5 291.1h0M471.1 279.5h0M473.1 300.0h0M470.5 301.5h0M476.3 311.3h0M476.7 295.2h0M474.7 294.2h0M460.9 293.7h0M472.8 311.0h0M463.9 296.9h0M478.4 299.2h0M470.8 284.3h0M472.9 280.5h0M470.5 302.1h0" stroke="#5a6e92"/></g>
<g opacity="0.55" stroke-width="0.84" stroke-linecap="round" fill="none"><path d="M474.2 291.6h0M475.8 287.3h0M472.8 280.1h0M473.1 289.8h0M475.4 288.7h0M475.5 296.1h0M472.9 292.7h0M476.2 286.4h0M472.4 288.5h0M475.6 297.6h0M473.2 283.6h0M474.7 291.5h0M475.3 294.6h0M472.0 301.4h0M477.0 286.3h0M471.1 284.5h0M473.1 271.5h0M468.4 295.7h0M475.1 297.4h0M471.1 290.3h0M475.5 281.8h0M470.2 298.4h0M469.5 277.6h0M477.0 290.5h0M473.4 279.5h0M472.7 285.4h0M475.5 277.4h0M473.0 297.7h0M477.0 283.6h0M473.1 297.1h0M470.0 295.0h0M472.5 276.7h0M471.6 292.2h0M474.3 287.0h0M474.0 283.8h0M474.3 294.3h0M472.0 289.1h0M476.6 289.4h0" stroke="#566e68"/><path d="M477.2 291.8h0M475.1 277.8h0M475.4 288.5h0M475.0 285.2h0M474.7 284.1h0M474.5 291.9h0M476.0 294.5h0M477.1 288.8h0M472.3 289.2h0M476.3 273.3h0M473.5 292.7h0M474.9 293.3h0M472.0 297.2h0M474.7 299.8h0M475.1 291.0h0M473.6 304.1h0M469.5 287.5h0M471.6 295.8h0M472.0 286.3h0M475.8 292.4h0M477.4 291.1h0M473.3 289.8h0M475.1 281.9h0M472.3 292.4h0M476.4 285.4h0M471.2 282.9h0M474.3 270.3h0M475.4 285.2h0M474.2 295.0h0M474.6 294.2h0M475.0 288.5h0M475.7 287.6h0M471.8 285.1h0M474.2 287.0h0M471.9 295.5h0M475.1 287.3h0M472.4 294.3h0M470.2 280.0h0M471.4 290.4h0M475.3 285.3h0M478.3 302.3h0M474.1 286.1h0M469.9 292.3h0" stroke="#465e80"/><path d="M472.9 286.8h0M468.8 289.2h0M477.6 297.9h0M472.7 296.6h0M471.8 290.6h0M477.7 289.7h0M473.4 288.4h0M472.2 290.1h0M473.5 296.0h0M472.5 283.4h0M475.1 305.6h0M473.1 297.8h0M477.5 298.5h0M474.1 291.4h0M478.3 297.0h0M472.1 290.1h0M474.0 296.5h0M477.3 299.2h0M480.1 305.9h0M473.3 298.9h0M476.9 285.5h0M475.3 290.8h0M474.5 284.8h0M475.7 290.3h0M470.3 288.4h0M476.2 294.6h0M476.9 289.7h0M476.7 286.1h0M471.4 290.9h0M476.6 290.5h0M468.9 284.3h0M474.9 287.8h0M472.9 304.8h0M472.7 284.8h0M472.2 282.8h0M474.8 300.7h0M473.8 297.1h0M479.0 288.1h0M471.4 297.0h0" stroke="#4a6858"/></g>
<line x1="482.00" y1="247.80" x2="482.00" y2="316.60" stroke="#ecbccb" stroke-width="0.6"/>
<line x1="445.50" y1="280.80" x2="516.50" y2="280.80" stroke="#ecbccb" stroke-width="0.6"/>
<rect x="482.30" y="264.50" width="19.50" height="16.30" fill="none" stroke="#d0286a" stroke-width="1.3"/>
<text x="448.00" y="255.22" font-size="5.6" fill="#222" letter-spacing="0.45">5.35</text>
<text x="515.00" y="255.22" font-size="5.6" text-anchor="end" fill="#222" letter-spacing="0.45">0.068</text>
<text x="448.00" y="315.32" font-size="5.6" fill="#222" letter-spacing="0.45">94.4</text>
<text x="515.00" y="315.32" font-size="5.6" text-anchor="end" fill="#222" letter-spacing="0.45">0.14</text>
<text x="456.15" y="322.10" font-size="3.6" text-anchor="middle" fill="#555">0</text>
<text x="463.25" y="322.10" font-size="3.6" text-anchor="middle" fill="#555">10<tspan dy="-1.44" font-size="2.70">2</tspan></text>
<text x="481.00" y="322.10" font-size="3.6" text-anchor="middle" fill="#555">10<tspan dy="-1.44" font-size="2.70">3</tspan></text>
<text x="497.33" y="322.10" font-size="3.6" text-anchor="middle" fill="#555">10<tspan dy="-1.44" font-size="2.70">4</tspan></text>
<text x="511.53" y="322.10" font-size="3.6" text-anchor="middle" fill="#555">10<tspan dy="-1.44" font-size="2.70">5</tspan></text>
<text x="478.80" y="330.14" font-size="5.4" text-anchor="middle" fill="#333" stroke="#333" stroke-width="0.15" letter-spacing="0.7">FOXP3</text>
<text x="443.90" y="342.50" font-size="4.2" text-anchor="end" fill="#333">10<tspan dy="-1.68" font-size="3.15">4</tspan></text>
<line x1="444.50" y1="341.00" x2="445.50" y2="341.00" stroke="#333" stroke-width="0.5"/>
<text x="443.90" y="358.50" font-size="4.2" text-anchor="end" fill="#333">10<tspan dy="-1.68" font-size="3.15">3</tspan></text>
<line x1="444.50" y1="357.00" x2="445.50" y2="357.00" stroke="#333" stroke-width="0.5"/>
<text x="443.90" y="374.50" font-size="4.2" text-anchor="end" fill="#333">10<tspan dy="-1.68" font-size="3.15">2</tspan></text>
<line x1="444.50" y1="373.00" x2="445.50" y2="373.00" stroke="#333" stroke-width="0.5"/>
<text x="443.90" y="391.50" font-size="4.2" text-anchor="end" fill="#333">10<tspan dy="-1.68" font-size="3.15">1</tspan></text>
<line x1="444.50" y1="390.00" x2="445.50" y2="390.00" stroke="#333" stroke-width="0.5"/>
<text x="443.90" y="398.50" font-size="4.2" text-anchor="end" fill="#333">0</text>
<line x1="444.50" y1="397.00" x2="445.50" y2="397.00" stroke="#333" stroke-width="0.5"/>
<rect x="468.60" y="336.00" width="31.00" height="32.60" fill="none" stroke="#d8b0c8" stroke-width="0.6"/>
<text x="487.20" y="346.82" font-size="5.6" text-anchor="middle" fill="#222" letter-spacing="0.45">0.46</text>
<g filter="url(#b5)" transform="rotate(8 483.0 388)"><ellipse cx="483.0" cy="389" rx="3.8" ry="15" fill="#88aee0" opacity="0.75"/><ellipse cx="483.0" cy="385.5" rx="2.9" ry="9.5" fill="#4ea070" opacity="0.85"/><ellipse cx="483.3" cy="383" rx="1.7" ry="4.5" fill="#b8cc40" opacity="0.85"/></g>
<g opacity="0.5" stroke-width="0.80" stroke-linecap="round" fill="none"><path d="M481.3 405.3h0M480.5 411.3h0M485.4 380.9h0M481.5 395.0h0M481.5 403.1h0M483.5 386.8h0M482.3 393.8h0M487.0 395.3h0M484.7 390.0h0M484.4 396.6h0M482.1 402.3h0M484.0 391.2h0M482.8 384.0h0M481.5 388.9h0M485.2 385.9h0M483.3 397.5h0M479.5 400.1h0M483.7 383.3h0M483.4 386.8h0M478.5 402.6h0M481.3 388.1h0M483.3 397.7h0M483.4 392.1h0M485.1 389.7h0M484.4 395.7h0M482.2 388.2h0M483.4 388.2h0M480.9 396.5h0M483.1 396.0h0M482.7 399.9h0M483.6 389.0h0" stroke="#6aa0d8"/><path d="M483.0 389.6h0M480.0 402.6h0M479.9 403.7h0M484.0 394.9h0M483.3 390.9h0M482.8 393.7h0M483.0 385.4h0M478.0 396.5h0M480.9 390.8h0M483.7 391.0h0M483.5 400.2h0M486.4 392.8h0M485.1 388.6h0M483.0 392.8h0M483.7 404.1h0M486.8 390.6h0M483.3 387.9h0M484.8 389.6h0M485.1 382.1h0M482.4 379.9h0M481.1 390.6h0M482.7 387.3h0M485.8 386.8h0M482.0 383.2h0M486.7 387.6h0M480.6 391.6h0M485.5 379.5h0M486.2 383.1h0M484.5 382.8h0M482.6 389.8h0M484.5 388.4h0M484.7 394.1h0M483.3 387.7h0M482.2 384.1h0M484.0 391.5h0M482.9 399.6h0M482.7 388.1h0M484.0 391.0h0M485.3 391.3h0M482.0 387.3h0" stroke="#5a8ad0"/><path d="M480.5 399.9h0M477.5 382.1h0M482.2 390.3h0M480.6 392.8h0M484.9 390.3h0M481.8 388.7h0M482.4 390.3h0M481.1 394.1h0M482.8 388.8h0M482.5 393.2h0M484.2 399.2h0M482.6 399.4h0M482.5 398.5h0M484.5 384.0h0M483.4 400.2h0M484.1 387.8h0M484.2 386.2h0M484.9 379.2h0M483.5 384.6h0M486.3 378.6h0M481.5 393.1h0M483.5 391.0h0M481.5 391.2h0M481.1 389.1h0M485.4 381.7h0M482.7 397.7h0M481.9 397.4h0M481.0 394.9h0M482.7 384.0h0M483.1 395.8h0M483.9 384.5h0M482.0 389.5h0M486.2 390.5h0M481.7 400.7h0M483.7 381.9h0M484.2 384.1h0M485.1 379.9h0" stroke="#7ab0e0"/><path d="M485.6 388.1h0M485.0 398.8h0M481.7 391.9h0M481.7 401.4h0M481.7 389.5h0M486.3 385.0h0M484.5 390.0h0M485.5 386.4h0M484.1 390.8h0M483.9 392.1h0M486.0 397.2h0M484.3 382.9h0M482.3 384.2h0M485.0 395.6h0M484.3 388.2h0M482.3 383.2h0M479.7 390.7h0M480.9 397.6h0M483.9 394.7h0M481.8 391.3h0M482.6 388.4h0M480.4 400.6h0M485.0 392.4h0M481.4 388.5h0M485.3 392.4h0M482.8 396.4h0M485.3 392.7h0M482.3 388.1h0M484.0 384.9h0M480.8 397.6h0M483.3 394.4h0M480.2 403.7h0" stroke="#4a7ac0"/></g>
<line x1="445.50" y1="335.60" x2="516.50" y2="335.60" stroke="#999" stroke-width="0.8"/>
<line x1="516.50" y1="335.60" x2="516.50" y2="404.80" stroke="#999" stroke-width="0.8"/>
<line x1="445.50" y1="335.60" x2="445.50" y2="404.80" stroke="#555" stroke-width="0.8"/>
<line x1="445.50" y1="404.80" x2="516.50" y2="404.80" stroke="#222" stroke-width="0.9"/>
<text x="456.15" y="410.30" font-size="3.6" text-anchor="middle" fill="#555">0</text>
<text x="463.25" y="410.30" font-size="3.6" text-anchor="middle" fill="#555">10<tspan dy="-1.44" font-size="2.70">2</tspan></text>
<text x="481.00" y="410.30" font-size="3.6" text-anchor="middle" fill="#555">10<tspan dy="-1.44" font-size="2.70">3</tspan></text>
<text x="497.33" y="410.30" font-size="3.6" text-anchor="middle" fill="#555">10<tspan dy="-1.44" font-size="2.70">4</tspan></text>
<text x="511.53" y="410.30" font-size="3.6" text-anchor="middle" fill="#555">10<tspan dy="-1.44" font-size="2.70">5</tspan></text>
<text x="483.80" y="416.94" font-size="5.4" text-anchor="middle" fill="#333" stroke="#333" stroke-width="0.15" letter-spacing="0.7">SSC-A</text>
<line x1="280.00" y1="247.80" x2="351.70" y2="247.80" stroke="#888" stroke-width="0.85"/>
<line x1="351.70" y1="247.80" x2="351.70" y2="316.60" stroke="#888" stroke-width="0.85"/>
<line x1="280.00" y1="247.80" x2="280.00" y2="316.60" stroke="#444" stroke-width="0.9"/>
<line x1="280.00" y1="316.60" x2="351.70" y2="316.60" stroke="#222" stroke-width="0.95"/>
<line x1="362.00" y1="247.80" x2="433.20" y2="247.80" stroke="#888" stroke-width="0.85"/>
<line x1="433.20" y1="247.80" x2="433.20" y2="316.60" stroke="#888" stroke-width="0.85"/>
<line x1="362.00" y1="247.80" x2="362.00" y2="316.60" stroke="#444" stroke-width="0.9"/>
<line x1="362.00" y1="316.60" x2="433.20" y2="316.60" stroke="#222" stroke-width="0.95"/>
<line x1="445.50" y1="247.80" x2="516.50" y2="247.80" stroke="#888" stroke-width="0.85"/>
<line x1="516.50" y1="247.80" x2="516.50" y2="316.60" stroke="#888" stroke-width="0.85"/>
<line x1="445.50" y1="247.80" x2="445.50" y2="316.60" stroke="#444" stroke-width="0.9"/>
<line x1="445.50" y1="316.60" x2="516.50" y2="316.60" stroke="#222" stroke-width="0.95"/>
<text x="270.50" y="286.50" font-size="5.6" text-anchor="middle" fill="#333" stroke="#333" stroke-width="0.16" letter-spacing="0.6" transform="rotate(-90 270.50 286.50)">CD25</text>
<text x="272.00" y="374.00" font-size="5.6" text-anchor="middle" fill="#333" stroke="#333" stroke-width="0.16" letter-spacing="0.3" transform="rotate(-90 272.00 374.00)">IL-17</text>
<line x1="300.00" y1="424.40" x2="489.70" y2="424.40" stroke="#444" stroke-width="0.8"/>
<text x="398.80" y="433.34" font-size="6.5" text-anchor="middle" fill="#222">CD4 T cells</text>
<rect x="280.20" y="438.80" width="12.00" height="5.20" fill="none" stroke="#d0286a" stroke-width="1.2"/>
<text x="296.00" y="443.74" font-size="6.5" fill="#222">CD4+CD25+FOXP3+ regulatory T cells</text>
</svg>
</body></html>
